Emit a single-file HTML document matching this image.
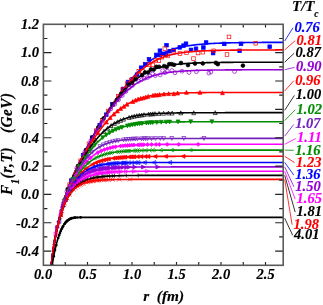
<!DOCTYPE html>
<html><head><meta charset="utf-8"><title>F1(r,T)</title>
<style>html,body{margin:0;padding:0;background:#fff}svg{display:block;will-change:transform;opacity:0.999}</style></head>
<body>
<svg width="323" height="305" viewBox="0 0 323 305">
<rect width="323" height="305" fill="#fff"/>
<defs><clipPath id="c"><rect x="43.4" y="24.3" width="239.79999999999998" height="241.0"/></clipPath></defs>
<g clip-path="url(#c)">
<rect x="69.5" y="178.8" width="3.6" height="3.6" stroke="#0000ff" stroke-width="0.7" fill="#0000ff"/><rect x="81.3" y="153.4" width="3.6" height="3.6" stroke="#0000ff" stroke-width="0.7" fill="#0000ff"/><rect x="90.3" y="135.9" width="3.6" height="3.6" stroke="#0000ff" stroke-width="0.7" fill="#0000ff"/><rect x="97.9" y="123.3" width="3.6" height="3.6" stroke="#0000ff" stroke-width="0.7" fill="#0000ff"/><rect x="104.5" y="112.9" width="3.6" height="3.6" stroke="#0000ff" stroke-width="0.7" fill="#0000ff"/><rect x="110.6" y="102.6" width="3.6" height="3.6" stroke="#0000ff" stroke-width="0.7" fill="#0000ff"/><rect x="121.3" y="87.1" width="3.6" height="3.6" stroke="#0000ff" stroke-width="0.7" fill="#0000ff"/><rect x="126.2" y="80.2" width="3.6" height="3.6" stroke="#0000ff" stroke-width="0.7" fill="#0000ff"/><rect x="130.8" y="77.5" width="3.6" height="3.6" stroke="#0000ff" stroke-width="0.7" fill="#0000ff"/><rect x="135.2" y="72.9" width="3.6" height="3.6" stroke="#0000ff" stroke-width="0.7" fill="#0000ff"/><rect x="139.3" y="65.9" width="3.6" height="3.6" stroke="#0000ff" stroke-width="0.7" fill="#0000ff"/><rect x="143.3" y="62.5" width="3.6" height="3.6" stroke="#0000ff" stroke-width="0.7" fill="#0000ff"/><rect x="147.2" y="57.5" width="3.6" height="3.6" stroke="#0000ff" stroke-width="0.7" fill="#0000ff"/><rect x="154.5" y="53.1" width="3.6" height="3.6" stroke="#0000ff" stroke-width="0.7" fill="#0000ff"/><rect x="158.0" y="53.3" width="3.6" height="3.6" stroke="#0000ff" stroke-width="0.7" fill="#0000ff"/><rect x="161.4" y="52.0" width="3.6" height="3.6" stroke="#0000ff" stroke-width="0.7" fill="#0000ff"/><rect x="164.7" y="43.4" width="3.6" height="3.6" stroke="#0000ff" stroke-width="0.7" fill="#0000ff"/><rect x="167.9" y="49.4" width="3.6" height="3.6" stroke="#0000ff" stroke-width="0.7" fill="#0000ff"/><rect x="204.3" y="40.7" width="3.6" height="3.6" stroke="#0000ff" stroke-width="0.7" fill="#0000ff"/><rect x="201.6" y="45.7" width="3.6" height="3.6" stroke="#0000ff" stroke-width="0.7" fill="#0000ff"/><rect x="211.3" y="51.3" width="3.6" height="3.6" stroke="#0000ff" stroke-width="0.7" fill="#0000ff"/><rect x="222.5" y="42.1" width="3.6" height="3.6" stroke="#0000ff" stroke-width="0.7" fill="#0000ff"/><rect x="239.2" y="42.1" width="3.6" height="3.6" stroke="#0000ff" stroke-width="0.7" fill="#0000ff"/><rect x="237.8" y="49.0" width="3.6" height="3.6" stroke="#0000ff" stroke-width="0.7" fill="#0000ff"/><rect x="267.9" y="44.9" width="3.6" height="3.6" stroke="#0000ff" stroke-width="0.7" fill="#0000ff"/><rect x="158.1" y="48.9" width="3.6" height="3.6" stroke="#0000ff" stroke-width="0.7" fill="#0000ff"/><rect x="164.3" y="52.6" width="3.6" height="3.6" stroke="#0000ff" stroke-width="0.7" fill="#0000ff"/><rect x="184.2" y="41.9" width="3.6" height="3.6" stroke="#0000ff" stroke-width="0.7" fill="#0000ff"/><rect x="189.2" y="48.1" width="3.6" height="3.6" stroke="#0000ff" stroke-width="0.7" fill="#0000ff"/><rect x="194.2" y="46.9" width="3.6" height="3.6" stroke="#0000ff" stroke-width="0.7" fill="#0000ff"/><rect x="171.8" y="48.1" width="3.6" height="3.6" stroke="#0000ff" stroke-width="0.7" fill="#0000ff"/><rect x="178.0" y="45.6" width="3.6" height="3.6" stroke="#0000ff" stroke-width="0.7" fill="#0000ff"/><rect x="181.7" y="43.8" width="3.6" height="3.6" stroke="#0000ff" stroke-width="0.7" fill="#0000ff"/>
<polyline points="49.23,293.62 49.47,289.62 49.70,285.89 49.94,282.40 50.18,279.10 50.42,276.00 50.65,273.05 50.89,270.25 51.13,267.59 51.36,265.10 51.60,262.78 51.84,260.60 52.07,258.55 52.31,256.60 52.55,254.74 52.79,252.96 53.02,251.25 53.26,249.60 53.50,247.99 53.73,246.43 53.97,244.89 54.21,243.39 54.44,241.90 54.68,240.43 54.92,239.02 55.16,237.65 55.39,236.33 55.63,235.04 55.87,233.80 56.10,232.59 56.34,231.41 56.58,230.26 56.82,229.13 57.05,228.02 57.29,226.94 57.53,225.87 57.76,224.82 58.00,223.79 58.24,222.76 58.47,221.75 58.71,220.74 58.95,219.75 59.19,218.76 59.42,217.78 59.66,216.80 59.90,215.82 60.13,214.85 60.37,213.88 60.61,212.91 60.84,211.94 61.08,210.98 61.32,210.04 61.56,209.11 61.79,208.21 62.03,207.32 62.27,206.44 62.50,205.58 62.74,204.73 62.98,203.90 63.22,203.08 63.45,202.27 63.69,201.47 63.93,200.68 64.16,199.91 64.40,199.14 64.64,198.39 64.87,197.65 65.11,196.91 65.35,196.19 65.59,195.47 65.82,194.76 66.06,194.06 66.30,193.37 66.53,192.69 66.77,192.01 67.01,191.34 67.24,190.68 67.48,190.02 67.72,189.37 67.96,188.73 68.19,188.10 68.43,187.47 68.67,186.84 68.90,186.22 69.14,185.61 69.38,185.00 69.62,184.40 69.85,183.80 70.09,183.21 70.33,182.62 70.56,182.04 70.80,181.46 71.04,180.88 71.27,180.31 71.51,179.75 71.75,179.18 71.99,178.63 72.22,178.07 72.46,177.52 72.70,176.97 72.93,176.43 73.17,175.89 73.41,175.35 73.64,174.82 73.88,174.29 74.12,173.76 74.36,173.24 74.59,172.72 74.83,172.20 75.07,171.69 75.30,171.17 75.54,170.66 75.78,170.16 76.01,169.65 76.25,169.15 76.49,168.65 76.73,168.15 76.96,167.66 77.20,167.17 77.44,166.68 77.67,166.19 77.91,165.70 78.15,165.22 78.39,164.74 78.62,164.26 78.86,163.78 79.10,163.30 79.33,162.82 79.57,162.35 79.81,161.87 80.04,161.39 80.28,160.91 80.52,160.44 80.76,159.96 80.99,159.48 81.23,159.01 81.47,158.53 81.70,158.06 81.94,157.58 82.18,157.11 82.41,156.64 82.65,156.17 82.89,155.70 83.13,155.23 83.36,154.76 83.60,154.29 83.84,153.82 84.07,153.36 84.31,152.89 84.55,152.43 84.79,151.96 85.02,151.50 85.26,151.04 85.50,150.58 85.73,150.12 85.97,149.67 86.21,149.21 86.44,148.76 86.68,148.31 86.92,147.85 87.16,147.41 87.39,146.96 87.63,146.51 87.87,146.06 88.10,145.62 88.34,145.17 88.58,144.72 88.81,144.28 89.05,143.83 89.29,143.39 89.53,142.94 89.76,142.49 90.00,142.05 90.24,141.60 90.47,141.16 90.71,140.72 90.95,140.27 91.19,139.83 91.42,139.39 91.66,138.95 91.90,138.51 92.13,138.07 92.37,137.63 92.61,137.19 92.84,136.76 93.08,136.32 93.32,135.89 93.56,135.45 93.79,135.02 94.03,134.59 94.27,134.16 94.50,133.73 94.74,133.31 94.98,132.88 95.21,132.46 95.45,132.04 95.69,131.61 95.93,131.20 96.16,130.78 96.40,130.36 97.35,128.71 98.30,127.07 99.24,125.44 100.19,123.83 101.14,122.24 102.09,120.65 103.04,119.09 103.99,117.53 104.93,116.00 105.88,114.48 106.83,112.96 107.78,111.46 108.73,109.96 109.67,108.48 110.62,107.02 111.57,105.58 112.52,104.16 113.47,102.76 114.41,101.39 115.36,100.04 116.31,98.70 117.26,97.37 118.21,96.05 119.16,94.74 120.10,93.44 121.05,92.16 122.00,90.90 122.95,89.64 123.90,88.40 124.84,87.17 125.79,85.96 126.74,84.77 127.69,83.59 128.64,82.42 129.58,81.28 130.53,80.15 131.48,79.03 132.43,77.94 133.38,76.86 134.33,75.80 135.27,74.76 136.22,73.73 137.17,72.73 138.12,71.75 139.07,70.78 140.01,69.84 140.96,68.92 141.91,68.02 142.86,67.13 143.81,66.27 144.76,65.43 145.70,64.61 146.65,63.81 147.60,63.04 148.55,62.28 149.50,61.54 150.44,60.83 151.39,60.13 152.34,59.46 153.29,58.81 154.24,58.17 155.18,57.56 156.13,56.96 157.08,56.39 158.03,55.83 158.98,55.30 159.93,54.78 160.87,54.28 161.82,53.79 162.77,53.33 163.72,52.88 164.67,52.45 165.61,52.03 166.56,51.63 167.51,51.24 168.46,50.87 169.41,50.52 170.35,50.17 171.30,49.85 172.25,49.53 173.20,49.23 174.15,48.93 175.10,48.66 176.04,48.39 176.99,48.13 177.94,47.88 178.89,47.65 179.84,47.42 180.78,47.20 181.73,47.00 182.68,46.80 183.63,46.61 184.58,46.42 185.53,46.25 186.47,46.08 187.42,45.92 188.37,45.77 189.32,45.62 190.27,45.48 191.21,45.35 192.16,45.22 193.11,45.09 194.06,44.98 195.01,44.86 195.95,44.76 196.90,44.65 197.85,44.55 198.80,44.46 199.75,44.37 200.70,44.28 201.64,44.20 202.59,44.12 203.54,44.04 204.49,43.97 205.44,43.90 206.38,43.83 207.33,43.77 208.28,43.71 209.23,43.65 210.18,43.60 211.13,43.54 212.07,43.49 213.02,43.44 213.97,43.39 214.92,43.35 215.87,43.31 216.81,43.26 217.76,43.22 218.71,43.19 219.66,43.15 220.61,43.12 221.55,43.08 222.50,43.05 223.45,43.02 224.40,42.99 225.35,42.96 226.30,42.93 227.24,42.91 228.19,42.88 229.14,42.86 230.09,42.84 231.04,42.81 231.98,42.79 232.93,42.77 233.88,42.75 234.83,42.73 235.78,42.72 236.72,42.70 237.67,42.68 238.62,42.67 239.57,42.65 240.52,42.64 241.47,42.62 242.41,42.61 243.36,42.60 244.31,42.58 245.26,42.57 246.21,42.56 247.15,42.55 248.10,42.54 249.05,42.53 250.00,42.52 250.95,42.51 251.90,42.50 252.84,42.49 253.79,42.48 254.74,42.47 255.69,42.47 256.64,42.46 257.58,42.45 258.53,42.45 259.48,42.44 260.43,42.43 261.38,42.43 262.32,42.42 263.27,42.41 264.22,42.41 265.17,42.40 266.12,42.40 267.07,42.39 268.01,42.39 268.96,42.38 269.91,42.38 270.86,42.37 271.81,42.37 272.75,42.37 273.70,42.36 274.65,42.36 275.60,42.36 276.55,42.35 277.49,42.35 278.44,42.35 279.39,42.34 280.34,42.34 281.29,42.34 282.24,42.33 283.18,42.33 284.13,42.33 285.08,42.33" stroke="#0000ff" stroke-width="1.6" fill="none"/>
<rect x="67.8" y="182.9" width="3.6" height="3.6" stroke="#ff0000" stroke-width="0.7" fill="none"/><rect x="78.8" y="159.0" width="3.6" height="3.6" stroke="#ff0000" stroke-width="0.7" fill="none"/><rect x="87.2" y="142.0" width="3.6" height="3.6" stroke="#ff0000" stroke-width="0.7" fill="none"/><rect x="94.4" y="128.9" width="3.6" height="3.6" stroke="#ff0000" stroke-width="0.7" fill="none"/><rect x="100.6" y="118.5" width="3.6" height="3.6" stroke="#ff0000" stroke-width="0.7" fill="none"/><rect x="106.3" y="109.2" width="3.6" height="3.6" stroke="#ff0000" stroke-width="0.7" fill="none"/><rect x="116.4" y="94.3" width="3.6" height="3.6" stroke="#ff0000" stroke-width="0.7" fill="none"/><rect x="120.9" y="87.8" width="3.6" height="3.6" stroke="#ff0000" stroke-width="0.7" fill="none"/><rect x="125.3" y="81.9" width="3.6" height="3.6" stroke="#ff0000" stroke-width="0.7" fill="none"/><rect x="129.4" y="78.1" width="3.6" height="3.6" stroke="#ff0000" stroke-width="0.7" fill="none"/><rect x="133.3" y="76.6" width="3.6" height="3.6" stroke="#ff0000" stroke-width="0.7" fill="none"/><rect x="137.0" y="69.6" width="3.6" height="3.6" stroke="#ff0000" stroke-width="0.7" fill="none"/><rect x="140.7" y="69.6" width="3.6" height="3.6" stroke="#ff0000" stroke-width="0.7" fill="none"/><rect x="147.5" y="62.7" width="3.6" height="3.6" stroke="#ff0000" stroke-width="0.7" fill="none"/><rect x="150.8" y="63.1" width="3.6" height="3.6" stroke="#ff0000" stroke-width="0.7" fill="none"/><rect x="154.0" y="58.6" width="3.6" height="3.6" stroke="#ff0000" stroke-width="0.7" fill="none"/><rect x="157.1" y="58.8" width="3.6" height="3.6" stroke="#ff0000" stroke-width="0.7" fill="none"/><rect x="160.1" y="55.4" width="3.6" height="3.6" stroke="#ff0000" stroke-width="0.7" fill="none"/><rect x="163.0" y="46.8" width="3.6" height="3.6" stroke="#ff0000" stroke-width="0.7" fill="none"/><rect x="165.9" y="54.1" width="3.6" height="3.6" stroke="#ff0000" stroke-width="0.7" fill="none"/><rect x="227.2" y="35.1" width="3.6" height="3.6" stroke="#ff0000" stroke-width="0.7" fill="none"/><rect x="211.9" y="49.0" width="3.6" height="3.6" stroke="#ff0000" stroke-width="0.7" fill="none"/><rect x="225.2" y="52.7" width="3.6" height="3.6" stroke="#ff0000" stroke-width="0.7" fill="none"/><rect x="253.9" y="41.5" width="3.6" height="3.6" stroke="#ff0000" stroke-width="0.7" fill="none"/><rect x="201.0" y="50.4" width="3.6" height="3.6" stroke="#ff0000" stroke-width="0.7" fill="none"/><rect x="196.2" y="51.2" width="3.6" height="3.6" stroke="#ff0000" stroke-width="0.7" fill="none"/><rect x="191.7" y="56.8" width="3.6" height="3.6" stroke="#ff0000" stroke-width="0.7" fill="none"/><rect x="171.8" y="49.4" width="3.6" height="3.6" stroke="#ff0000" stroke-width="0.7" fill="none"/><rect x="178.2" y="51.7" width="3.6" height="3.6" stroke="#ff0000" stroke-width="0.7" fill="none"/><rect x="184.7" y="51.0" width="3.6" height="3.6" stroke="#ff0000" stroke-width="0.7" fill="none"/>
<polyline points="49.23,293.62 49.47,289.62 49.70,285.89 49.94,282.40 50.18,279.10 50.42,276.00 50.65,273.05 50.89,270.25 51.13,267.59 51.36,265.10 51.60,262.78 51.84,260.60 52.07,258.55 52.31,256.60 52.55,254.74 52.79,252.96 53.02,251.25 53.26,249.60 53.50,247.99 53.73,246.43 53.97,244.89 54.21,243.39 54.44,241.90 54.68,240.43 54.92,239.02 55.16,237.65 55.39,236.33 55.63,235.04 55.87,233.80 56.10,232.59 56.34,231.41 56.58,230.26 56.82,229.13 57.05,228.02 57.29,226.94 57.53,225.87 57.76,224.82 58.00,223.79 58.24,222.76 58.47,221.75 58.71,220.74 58.95,219.75 59.19,218.76 59.42,217.78 59.66,216.80 59.90,215.82 60.13,214.85 60.37,213.88 60.61,212.91 60.84,211.94 61.08,210.98 61.32,210.04 61.56,209.11 61.79,208.21 62.03,207.32 62.27,206.44 62.50,205.58 62.74,204.73 62.98,203.90 63.22,203.08 63.45,202.27 63.69,201.47 63.93,200.68 64.16,199.91 64.40,199.14 64.64,198.39 64.87,197.65 65.11,196.91 65.35,196.19 65.59,195.47 65.82,194.76 66.06,194.06 66.30,193.37 66.53,192.69 66.77,192.01 67.01,191.34 67.24,190.68 67.48,190.02 67.72,189.37 67.96,188.73 68.19,188.09 68.43,187.46 68.67,186.84 68.90,186.22 69.14,185.61 69.38,185.00 69.62,184.40 69.85,183.80 70.09,183.21 70.33,182.62 70.56,182.03 70.80,181.46 71.04,180.88 71.27,180.31 71.51,179.74 71.75,179.18 71.99,178.62 72.22,178.07 72.46,177.52 72.70,176.97 72.93,176.43 73.17,175.89 73.41,175.35 73.64,174.82 73.88,174.29 74.12,173.76 74.36,173.24 74.59,172.72 74.83,172.20 75.07,171.68 75.30,171.17 75.54,170.66 75.78,170.15 76.01,169.65 76.25,169.15 76.49,168.65 76.73,168.15 76.96,167.65 77.20,167.16 77.44,166.67 77.67,166.18 77.91,165.70 78.15,165.21 78.39,164.73 78.62,164.25 78.86,163.77 79.10,163.30 79.33,162.82 79.57,162.34 79.81,161.86 80.04,161.38 80.28,160.91 80.52,160.43 80.76,159.95 80.99,159.48 81.23,159.00 81.47,158.53 81.70,158.05 81.94,157.58 82.18,157.10 82.41,156.63 82.65,156.16 82.89,155.69 83.13,155.22 83.36,154.75 83.60,154.28 83.84,153.81 84.07,153.35 84.31,152.88 84.55,152.42 84.79,151.96 85.02,151.49 85.26,151.03 85.50,150.57 85.73,150.12 85.97,149.66 86.21,149.20 86.44,148.75 86.68,148.30 86.92,147.85 87.16,147.40 87.39,146.95 87.63,146.50 87.87,146.05 88.10,145.61 88.34,145.16 88.58,144.71 88.81,144.27 89.05,143.82 89.29,143.37 89.53,142.93 89.76,142.48 90.00,142.04 90.24,141.59 90.47,141.15 90.71,140.71 90.95,140.26 91.19,139.82 91.42,139.38 91.66,138.94 91.90,138.50 92.13,138.06 92.37,137.62 92.61,137.18 92.84,136.75 93.08,136.31 93.32,135.88 93.56,135.44 93.79,135.01 94.03,134.58 94.27,134.15 94.50,133.72 94.74,133.30 94.98,132.87 95.21,132.45 95.45,132.03 95.69,131.61 95.93,131.19 96.16,130.77 96.40,130.35 97.35,128.70 98.30,127.06 99.24,125.44 100.19,123.83 101.14,122.24 102.09,120.66 103.04,119.09 103.99,117.55 104.93,116.02 105.88,114.50 106.83,112.99 107.78,111.50 108.73,110.01 109.67,108.54 110.62,107.09 111.57,105.66 112.52,104.25 113.47,102.87 114.41,101.52 115.36,100.18 116.31,98.86 117.26,97.55 118.21,96.25 119.16,94.97 120.10,93.71 121.05,92.45 122.00,91.22 122.95,90.00 123.90,88.80 124.84,87.61 125.79,86.44 126.74,85.29 127.69,84.16 128.64,83.05 129.58,81.95 130.53,80.88 131.48,79.83 132.43,78.79 133.38,77.78 134.33,76.79 135.27,75.83 136.22,74.88 137.17,73.96 138.12,73.06 139.07,72.18 140.01,71.32 140.96,70.49 141.91,69.68 142.86,68.90 143.81,68.14 144.76,67.40 145.70,66.68 146.65,65.99 147.60,65.31 148.55,64.66 149.50,64.04 150.44,63.43 151.39,62.85 152.34,62.29 153.29,61.75 154.24,61.22 155.18,60.72 156.13,60.24 157.08,59.78 158.03,59.33 158.98,58.91 159.93,58.50 160.87,58.11 161.82,57.73 162.77,57.37 163.72,57.03 164.67,56.70 165.61,56.39 166.56,56.09 167.51,55.80 168.46,55.52 169.41,55.26 170.35,55.01 171.30,54.77 172.25,54.55 173.20,54.33 174.15,54.12 175.10,53.92 176.04,53.74 176.99,53.56 177.94,53.39 178.89,53.22 179.84,53.07 180.78,52.92 181.73,52.78 182.68,52.64 183.63,52.52 184.58,52.39 185.53,52.28 186.47,52.17 187.42,52.06 188.37,51.96 189.32,51.87 190.27,51.78 191.21,51.69 192.16,51.61 193.11,51.53 194.06,51.45 195.01,51.38 195.95,51.32 196.90,51.25 197.85,51.19 198.80,51.13 199.75,51.07 200.70,51.02 201.64,50.97 202.59,50.92 203.54,50.88 204.49,50.83 205.44,50.79 206.38,50.75 207.33,50.71 208.28,50.68 209.23,50.64 210.18,50.61 211.13,50.58 212.07,50.55 213.02,50.52 213.97,50.49 214.92,50.46 215.87,50.44 216.81,50.42 217.76,50.39 218.71,50.37 219.66,50.35 220.61,50.33 221.55,50.31 222.50,50.29 223.45,50.28 224.40,50.26 225.35,50.24 226.30,50.23 227.24,50.22 228.19,50.20 229.14,50.19 230.09,50.18 231.04,50.16 231.98,50.15 232.93,50.14 233.88,50.13 234.83,50.12 235.78,50.11 236.72,50.10 237.67,50.09 238.62,50.08 239.57,50.08 240.52,50.07 241.47,50.06 242.41,50.05 243.36,50.05 244.31,50.04 245.26,50.03 246.21,50.03 247.15,50.02 248.10,50.02 249.05,50.01 250.00,50.01 250.95,50.00 251.90,50.00 252.84,49.99 253.79,49.99 254.74,49.98 255.69,49.98 256.64,49.98 257.58,49.97 258.53,49.97 259.48,49.96 260.43,49.96 261.38,49.96 262.32,49.96 263.27,49.95 264.22,49.95 265.17,49.95 266.12,49.94 267.07,49.94 268.01,49.94 268.96,49.94 269.91,49.94 270.86,49.93 271.81,49.93 272.75,49.93 273.70,49.93 274.65,49.93 275.60,49.92 276.55,49.92 277.49,49.92 278.44,49.92 279.39,49.92 280.34,49.92 281.29,49.91 282.24,49.91 283.18,49.91 284.13,49.91 285.08,49.91" stroke="#ff0000" stroke-width="1.6" fill="none"/>
<circle cx="67.7" cy="189.1" r="1.9" stroke="#000000" stroke-width="0.7" fill="#000000"/><circle cx="78.0" cy="165.9" r="1.9" stroke="#000000" stroke-width="0.7" fill="#000000"/><circle cx="85.9" cy="150.0" r="1.9" stroke="#000000" stroke-width="0.7" fill="#000000"/><circle cx="92.5" cy="137.3" r="1.9" stroke="#000000" stroke-width="0.7" fill="#000000"/><circle cx="98.3" cy="127.3" r="1.9" stroke="#000000" stroke-width="0.7" fill="#000000"/><circle cx="103.6" cy="118.4" r="1.9" stroke="#000000" stroke-width="0.7" fill="#000000"/><circle cx="113.0" cy="104.5" r="1.9" stroke="#000000" stroke-width="0.7" fill="#000000"/><circle cx="117.2" cy="99.6" r="1.9" stroke="#000000" stroke-width="0.7" fill="#000000"/><circle cx="121.3" cy="93.7" r="1.9" stroke="#000000" stroke-width="0.7" fill="#000000"/><circle cx="125.1" cy="90.3" r="1.9" stroke="#000000" stroke-width="0.7" fill="#000000"/><circle cx="128.7" cy="84.6" r="1.9" stroke="#000000" stroke-width="0.7" fill="#000000"/><circle cx="132.2" cy="83.0" r="1.9" stroke="#000000" stroke-width="0.7" fill="#000000"/><circle cx="135.6" cy="79.2" r="1.9" stroke="#000000" stroke-width="0.7" fill="#000000"/><circle cx="142.0" cy="75.2" r="1.9" stroke="#000000" stroke-width="0.7" fill="#000000"/><circle cx="145.0" cy="72.4" r="1.9" stroke="#000000" stroke-width="0.7" fill="#000000"/><circle cx="148.0" cy="72.5" r="1.9" stroke="#000000" stroke-width="0.7" fill="#000000"/><circle cx="150.9" cy="69.4" r="1.9" stroke="#000000" stroke-width="0.7" fill="#000000"/><circle cx="153.7" cy="69.6" r="1.9" stroke="#000000" stroke-width="0.7" fill="#000000"/><circle cx="156.4" cy="66.8" r="1.9" stroke="#000000" stroke-width="0.7" fill="#000000"/><circle cx="159.1" cy="66.8" r="1.9" stroke="#000000" stroke-width="0.7" fill="#000000"/><circle cx="164.2" cy="66.1" r="1.9" stroke="#000000" stroke-width="0.7" fill="#000000"/><circle cx="166.7" cy="67.1" r="1.9" stroke="#000000" stroke-width="0.7" fill="#000000"/><circle cx="169.2" cy="64.1" r="1.9" stroke="#000000" stroke-width="0.7" fill="#000000"/><circle cx="171.6" cy="64.2" r="1.9" stroke="#000000" stroke-width="0.7" fill="#000000"/><circle cx="202.8" cy="63.4" r="1.9" stroke="#000000" stroke-width="0.7" fill="#000000"/><circle cx="215.9" cy="62.8" r="1.9" stroke="#000000" stroke-width="0.7" fill="#000000"/><circle cx="217.8" cy="64.2" r="1.9" stroke="#000000" stroke-width="0.7" fill="#000000"/><circle cx="242.9" cy="65.6" r="1.9" stroke="#000000" stroke-width="0.7" fill="#000000"/><circle cx="174.0" cy="64.8" r="1.9" stroke="#000000" stroke-width="0.7" fill="#000000"/><circle cx="181.0" cy="63.0" r="1.9" stroke="#000000" stroke-width="0.7" fill="#000000"/><circle cx="188.0" cy="65.0" r="1.9" stroke="#000000" stroke-width="0.7" fill="#000000"/><circle cx="195.0" cy="63.5" r="1.9" stroke="#000000" stroke-width="0.7" fill="#000000"/>
<polyline points="49.23,293.62 49.47,289.62 49.70,285.89 49.94,282.40 50.18,279.10 50.42,276.00 50.65,273.05 50.89,270.25 51.13,267.59 51.36,265.10 51.60,262.78 51.84,260.60 52.07,258.55 52.31,256.60 52.55,254.74 52.79,252.96 53.02,251.25 53.26,249.60 53.50,247.99 53.73,246.43 53.97,244.89 54.21,243.39 54.44,241.90 54.68,240.43 54.92,239.02 55.16,237.65 55.39,236.33 55.63,235.04 55.87,233.80 56.10,232.59 56.34,231.41 56.58,230.26 56.82,229.13 57.05,228.02 57.29,226.94 57.53,225.87 57.76,224.82 58.00,223.79 58.24,222.76 58.47,221.75 58.71,220.74 58.95,219.75 59.19,218.76 59.42,217.78 59.66,216.80 59.90,215.82 60.13,214.85 60.37,213.88 60.61,212.91 60.84,211.94 61.08,210.98 61.32,210.04 61.56,209.11 61.79,208.21 62.03,207.32 62.27,206.44 62.50,205.58 62.74,204.73 62.98,203.90 63.22,203.08 63.45,202.27 63.69,201.47 63.93,200.68 64.16,199.91 64.40,199.14 64.64,198.39 64.87,197.65 65.11,196.91 65.35,196.19 65.59,195.47 65.82,194.76 66.06,194.06 66.30,193.37 66.53,192.69 66.77,192.01 67.01,191.34 67.24,190.68 67.48,190.02 67.72,189.38 67.96,188.73 68.19,188.10 68.43,187.47 68.67,186.84 68.90,186.22 69.14,185.61 69.38,185.00 69.62,184.40 69.85,183.80 70.09,183.21 70.33,182.62 70.56,182.04 70.80,181.46 71.04,180.89 71.27,180.32 71.51,179.75 71.75,179.19 71.99,178.63 72.22,178.08 72.46,177.52 72.70,176.98 72.93,176.43 73.17,175.90 73.41,175.36 73.64,174.83 73.88,174.30 74.12,173.77 74.36,173.25 74.59,172.72 74.83,172.21 75.07,171.69 75.30,171.18 75.54,170.67 75.78,170.16 76.01,169.66 76.25,169.16 76.49,168.66 76.73,168.16 76.96,167.67 77.20,167.18 77.44,166.69 77.67,166.20 77.91,165.71 78.15,165.23 78.39,164.75 78.62,164.27 78.86,163.79 79.10,163.32 79.33,162.84 79.57,162.36 79.81,161.88 80.04,161.41 80.28,160.93 80.52,160.46 80.76,159.98 80.99,159.50 81.23,159.03 81.47,158.56 81.70,158.08 81.94,157.61 82.18,157.14 82.41,156.67 82.65,156.20 82.89,155.73 83.13,155.26 83.36,154.79 83.60,154.32 83.84,153.86 84.07,153.39 84.31,152.93 84.55,152.46 84.79,152.00 85.02,151.54 85.26,151.08 85.50,150.63 85.73,150.17 85.97,149.71 86.21,149.26 86.44,148.81 86.68,148.36 86.92,147.91 87.16,147.46 87.39,147.02 87.63,146.57 87.87,146.13 88.10,145.68 88.34,145.24 88.58,144.79 88.81,144.35 89.05,143.90 89.29,143.46 89.53,143.02 89.76,142.58 90.00,142.13 90.24,141.69 90.47,141.25 90.71,140.81 90.95,140.37 91.19,139.93 91.42,139.49 91.66,139.06 91.90,138.62 92.13,138.18 92.37,137.75 92.61,137.31 92.84,136.88 93.08,136.45 93.32,136.02 93.56,135.59 93.79,135.16 94.03,134.74 94.27,134.31 94.50,133.89 94.74,133.47 94.98,133.05 95.21,132.63 95.45,132.21 95.69,131.80 95.93,131.38 96.16,130.97 96.40,130.56 97.35,128.93 98.30,127.32 99.24,125.72 100.19,124.14 101.14,122.58 102.09,121.04 103.04,119.51 103.99,118.00 104.93,116.52 105.88,115.05 106.83,113.59 107.78,112.15 108.73,110.72 109.67,109.31 110.62,107.93 111.57,106.57 112.52,105.24 113.47,103.94 114.41,102.66 115.36,101.42 116.31,100.18 117.26,98.97 118.21,97.78 119.16,96.60 120.10,95.45 121.05,94.32 122.00,93.20 122.95,92.11 123.90,91.04 124.84,90.00 125.79,88.97 126.74,87.97 127.69,86.99 128.64,86.04 129.58,85.11 130.53,84.20 131.48,83.32 132.43,82.47 133.38,81.64 134.33,80.83 135.27,80.05 136.22,79.29 137.17,78.56 138.12,77.85 139.07,77.16 140.01,76.50 140.96,75.87 141.91,75.25 142.86,74.66 143.81,74.09 144.76,73.55 145.70,73.02 146.65,72.52 147.60,72.04 148.55,71.58 149.50,71.13 150.44,70.71 151.39,70.30 152.34,69.92 153.29,69.55 154.24,69.19 155.18,68.85 156.13,68.53 157.08,68.22 158.03,67.93 158.98,67.65 159.93,67.39 160.87,67.13 161.82,66.89 162.77,66.66 163.72,66.44 164.67,66.24 165.61,66.04 166.56,65.85 167.51,65.67 168.46,65.50 169.41,65.34 170.35,65.19 171.30,65.04 172.25,64.90 173.20,64.77 174.15,64.64 175.10,64.53 176.04,64.41 176.99,64.31 177.94,64.20 178.89,64.11 179.84,64.01 180.78,63.93 181.73,63.84 182.68,63.77 183.63,63.69 184.58,63.62 185.53,63.55 186.47,63.49 187.42,63.43 188.37,63.37 189.32,63.31 190.27,63.26 191.21,63.21 192.16,63.16 193.11,63.12 194.06,63.07 195.01,63.03 195.95,62.99 196.90,62.96 197.85,62.92 198.80,62.89 199.75,62.86 200.70,62.83 201.64,62.80 202.59,62.77 203.54,62.74 204.49,62.72 205.44,62.70 206.38,62.67 207.33,62.65 208.28,62.63 209.23,62.61 210.18,62.59 211.13,62.57 212.07,62.56 213.02,62.54 213.97,62.53 214.92,62.51 215.87,62.50 216.81,62.48 217.76,62.47 218.71,62.46 219.66,62.45 220.61,62.44 221.55,62.42 222.50,62.41 223.45,62.40 224.40,62.40 225.35,62.39 226.30,62.38 227.24,62.37 228.19,62.36 229.14,62.36 230.09,62.35 231.04,62.34 231.98,62.33 232.93,62.33 233.88,62.32 234.83,62.32 235.78,62.31 236.72,62.31 237.67,62.30 238.62,62.30 239.57,62.29 240.52,62.29 241.47,62.28 242.41,62.28 243.36,62.28 244.31,62.27 245.26,62.27 246.21,62.27 247.15,62.26 248.10,62.26 249.05,62.26 250.00,62.25 250.95,62.25 251.90,62.25 252.84,62.25 253.79,62.24 254.74,62.24 255.69,62.24 256.64,62.24 257.58,62.23 258.53,62.23 259.48,62.23 260.43,62.23 261.38,62.23 262.32,62.22 263.27,62.22 264.22,62.22 265.17,62.22 266.12,62.22 267.07,62.22 268.01,62.22 268.96,62.21 269.91,62.21 270.86,62.21 271.81,62.21 272.75,62.21 273.70,62.21 274.65,62.21 275.60,62.21 276.55,62.21 277.49,62.21 278.44,62.20 279.39,62.20 280.34,62.20 281.29,62.20 282.24,62.20 283.18,62.20 284.13,62.20 285.08,62.20" stroke="#000000" stroke-width="1.6" fill="none"/>
<circle cx="66.9" cy="191.3" r="1.9" stroke="#9400d3" stroke-width="0.7" fill="none"/><circle cx="76.8" cy="168.1" r="1.9" stroke="#9400d3" stroke-width="0.7" fill="none"/><circle cx="84.4" cy="152.6" r="1.9" stroke="#9400d3" stroke-width="0.7" fill="none"/><circle cx="90.8" cy="140.6" r="1.9" stroke="#9400d3" stroke-width="0.7" fill="none"/><circle cx="96.5" cy="130.7" r="1.9" stroke="#9400d3" stroke-width="0.7" fill="none"/><circle cx="101.6" cy="122.4" r="1.9" stroke="#9400d3" stroke-width="0.7" fill="none"/><circle cx="110.7" cy="109.0" r="1.9" stroke="#9400d3" stroke-width="0.7" fill="none"/><circle cx="114.8" cy="104.2" r="1.9" stroke="#9400d3" stroke-width="0.7" fill="none"/><circle cx="118.6" cy="99.9" r="1.9" stroke="#9400d3" stroke-width="0.7" fill="none"/><circle cx="122.3" cy="95.6" r="1.9" stroke="#9400d3" stroke-width="0.7" fill="none"/><circle cx="125.9" cy="91.5" r="1.9" stroke="#9400d3" stroke-width="0.7" fill="none"/><circle cx="129.3" cy="87.8" r="1.9" stroke="#9400d3" stroke-width="0.7" fill="none"/><circle cx="132.5" cy="85.5" r="1.9" stroke="#9400d3" stroke-width="0.7" fill="none"/><circle cx="138.7" cy="81.2" r="1.9" stroke="#9400d3" stroke-width="0.7" fill="none"/><circle cx="141.6" cy="79.8" r="1.9" stroke="#9400d3" stroke-width="0.7" fill="none"/><circle cx="144.5" cy="78.4" r="1.9" stroke="#9400d3" stroke-width="0.7" fill="none"/><circle cx="147.3" cy="77.7" r="1.9" stroke="#9400d3" stroke-width="0.7" fill="none"/><circle cx="150.0" cy="76.0" r="1.9" stroke="#9400d3" stroke-width="0.7" fill="none"/><circle cx="152.6" cy="73.9" r="1.9" stroke="#9400d3" stroke-width="0.7" fill="none"/><circle cx="155.2" cy="75.6" r="1.9" stroke="#9400d3" stroke-width="0.7" fill="none"/><circle cx="160.2" cy="74.9" r="1.9" stroke="#9400d3" stroke-width="0.7" fill="none"/><circle cx="162.6" cy="70.6" r="1.9" stroke="#9400d3" stroke-width="0.7" fill="none"/><circle cx="165.0" cy="72.7" r="1.9" stroke="#9400d3" stroke-width="0.7" fill="none"/><circle cx="167.3" cy="71.1" r="1.9" stroke="#9400d3" stroke-width="0.7" fill="none"/><circle cx="171.9" cy="70.5" r="1.9" stroke="#9400d3" stroke-width="0.7" fill="none"/><circle cx="196.4" cy="71.7" r="1.9" stroke="#9400d3" stroke-width="0.7" fill="none"/><circle cx="208.9" cy="73.1" r="1.9" stroke="#9400d3" stroke-width="0.7" fill="none"/><circle cx="210.9" cy="72.0" r="1.9" stroke="#9400d3" stroke-width="0.7" fill="none"/><circle cx="234.6" cy="71.5" r="1.9" stroke="#9400d3" stroke-width="0.7" fill="none"/><circle cx="175.0" cy="72.8" r="1.9" stroke="#9400d3" stroke-width="0.7" fill="none"/><circle cx="182.0" cy="71.2" r="1.9" stroke="#9400d3" stroke-width="0.7" fill="none"/><circle cx="189.0" cy="72.5" r="1.9" stroke="#9400d3" stroke-width="0.7" fill="none"/>
<polyline points="49.23,293.62 49.47,289.62 49.70,285.89 49.94,282.40 50.18,279.10 50.42,276.00 50.65,273.05 50.89,270.25 51.13,267.59 51.36,265.10 51.60,262.78 51.84,260.60 52.07,258.55 52.31,256.60 52.55,254.74 52.79,252.96 53.02,251.25 53.26,249.60 53.50,247.99 53.73,246.43 53.97,244.89 54.21,243.39 54.44,241.90 54.68,240.43 54.92,239.02 55.16,237.65 55.39,236.33 55.63,235.04 55.87,233.80 56.10,232.59 56.34,231.41 56.58,230.26 56.82,229.13 57.05,228.02 57.29,226.94 57.53,225.87 57.76,224.82 58.00,223.79 58.24,222.76 58.47,221.75 58.71,220.74 58.95,219.75 59.19,218.76 59.42,217.78 59.66,216.80 59.90,215.82 60.13,214.85 60.37,213.88 60.61,212.91 60.84,211.94 61.08,210.98 61.32,210.04 61.56,209.12 61.79,208.21 62.03,207.32 62.27,206.44 62.50,205.58 62.74,204.73 62.98,203.90 63.22,203.08 63.45,202.27 63.69,201.47 63.93,200.69 64.16,199.91 64.40,199.15 64.64,198.39 64.87,197.65 65.11,196.92 65.35,196.19 65.59,195.47 65.82,194.77 66.06,194.07 66.30,193.38 66.53,192.69 66.77,192.02 67.01,191.35 67.24,190.69 67.48,190.03 67.72,189.38 67.96,188.74 68.19,188.10 68.43,187.47 68.67,186.85 68.90,186.23 69.14,185.62 69.38,185.01 69.62,184.41 69.85,183.81 70.09,183.22 70.33,182.63 70.56,182.05 70.80,181.47 71.04,180.90 71.27,180.33 71.51,179.76 71.75,179.20 71.99,178.65 72.22,178.09 72.46,177.54 72.70,177.00 72.93,176.45 73.17,175.92 73.41,175.38 73.64,174.85 73.88,174.32 74.12,173.79 74.36,173.27 74.59,172.75 74.83,172.23 75.07,171.72 75.30,171.21 75.54,170.70 75.78,170.19 76.01,169.69 76.25,169.19 76.49,168.69 76.73,168.20 76.96,167.71 77.20,167.21 77.44,166.73 77.67,166.24 77.91,165.76 78.15,165.28 78.39,164.80 78.62,164.32 78.86,163.84 79.10,163.37 79.33,162.89 79.57,162.41 79.81,161.94 80.04,161.46 80.28,160.99 80.52,160.52 80.76,160.04 80.99,159.57 81.23,159.10 81.47,158.62 81.70,158.15 81.94,157.68 82.18,157.21 82.41,156.74 82.65,156.28 82.89,155.81 83.13,155.34 83.36,154.88 83.60,154.41 83.84,153.95 84.07,153.49 84.31,153.03 84.55,152.57 84.79,152.11 85.02,151.65 85.26,151.20 85.50,150.74 85.73,150.29 85.97,149.84 86.21,149.39 86.44,148.94 86.68,148.49 86.92,148.05 87.16,147.60 87.39,147.16 87.63,146.72 87.87,146.28 88.10,145.84 88.34,145.40 88.58,144.96 88.81,144.52 89.05,144.08 89.29,143.64 89.53,143.20 89.76,142.77 90.00,142.33 90.24,141.89 90.47,141.46 90.71,141.02 90.95,140.59 91.19,140.15 91.42,139.72 91.66,139.29 91.90,138.86 92.13,138.43 92.37,138.00 92.61,137.57 92.84,137.15 93.08,136.72 93.32,136.30 93.56,135.88 93.79,135.46 94.03,135.04 94.27,134.62 94.50,134.21 94.74,133.79 94.98,133.38 95.21,132.97 95.45,132.56 95.69,132.15 95.93,131.75 96.16,131.34 96.40,130.94 97.35,129.35 98.30,127.78 99.24,126.22 100.19,124.69 101.14,123.17 102.09,121.68 103.04,120.21 103.99,118.76 104.93,117.33 105.88,115.93 106.83,114.54 107.78,113.17 108.73,111.81 109.67,110.49 110.62,109.19 111.57,107.91 112.52,106.67 113.47,105.46 114.41,104.28 115.36,103.13 116.31,102.00 117.26,100.89 118.21,99.80 119.16,98.74 120.10,97.69 121.05,96.68 122.00,95.68 122.95,94.71 123.90,93.76 124.84,92.84 125.79,91.94 126.74,91.07 127.69,90.22 128.64,89.40 129.58,88.60 130.53,87.82 131.48,87.07 132.43,86.34 133.38,85.64 134.33,84.96 135.27,84.30 136.22,83.67 137.17,83.06 138.12,82.48 139.07,81.91 140.01,81.37 140.96,80.85 141.91,80.34 142.86,79.86 143.81,79.40 144.76,78.96 145.70,78.53 146.65,78.13 147.60,77.74 148.55,77.37 149.50,77.01 150.44,76.67 151.39,76.35 152.34,76.04 153.29,75.74 154.24,75.46 155.18,75.19 156.13,74.93 157.08,74.69 158.03,74.45 158.98,74.23 159.93,74.02 160.87,73.82 161.82,73.62 162.77,73.44 163.72,73.27 164.67,73.10 165.61,72.94 166.56,72.79 167.51,72.65 168.46,72.51 169.41,72.38 170.35,72.26 171.30,72.14 172.25,72.03 173.20,71.92 174.15,71.82 175.10,71.72 176.04,71.63 176.99,71.54 177.94,71.46 178.89,71.38 179.84,71.31 180.78,71.23 181.73,71.17 182.68,71.10 183.63,71.04 184.58,70.98 185.53,70.92 186.47,70.87 187.42,70.82 188.37,70.77 189.32,70.72 190.27,70.68 191.21,70.64 192.16,70.60 193.11,70.56 194.06,70.52 195.01,70.49 195.95,70.46 196.90,70.42 197.85,70.39 198.80,70.37 199.75,70.34 200.70,70.31 201.64,70.29 202.59,70.26 203.54,70.24 204.49,70.22 205.44,70.20 206.38,70.18 207.33,70.16 208.28,70.14 209.23,70.12 210.18,70.11 211.13,70.09 212.07,70.08 213.02,70.06 213.97,70.05 214.92,70.04 215.87,70.02 216.81,70.01 217.76,70.00 218.71,69.99 219.66,69.98 220.61,69.97 221.55,69.96 222.50,69.95 223.45,69.94 224.40,69.93 225.35,69.92 226.30,69.92 227.24,69.91 228.19,69.90 229.14,69.89 230.09,69.89 231.04,69.88 231.98,69.87 232.93,69.87 233.88,69.86 234.83,69.86 235.78,69.85 236.72,69.85 237.67,69.84 238.62,69.84 239.57,69.83 240.52,69.83 241.47,69.83 242.41,69.82 243.36,69.82 244.31,69.82 245.26,69.81 246.21,69.81 247.15,69.81 248.10,69.80 249.05,69.80 250.00,69.80 250.95,69.79 251.90,69.79 252.84,69.79 253.79,69.79 254.74,69.78 255.69,69.78 256.64,69.78 257.58,69.78 258.53,69.78 259.48,69.77 260.43,69.77 261.38,69.77 262.32,69.77 263.27,69.77 264.22,69.77 265.17,69.76 266.12,69.76 267.07,69.76 268.01,69.76 268.96,69.76 269.91,69.76 270.86,69.76 271.81,69.76 272.75,69.75 273.70,69.75 274.65,69.75 275.60,69.75 276.55,69.75 277.49,69.75 278.44,69.75 279.39,69.75 280.34,69.75 281.29,69.75 282.24,69.75 283.18,69.74 284.13,69.74 285.08,69.74" stroke="#9400d3" stroke-width="1.6" fill="none"/>
<polygon points="65.4,194.5 67.4,198.4 63.5,198.4" stroke="#ff0000" stroke-width="0.7" fill="#ff0000"/><polygon points="74.7,171.3 76.7,175.2 72.8,175.2" stroke="#ff0000" stroke-width="0.7" fill="#ff0000"/><polygon points="81.8,157.4 83.8,161.3 79.9,161.3" stroke="#ff0000" stroke-width="0.7" fill="#ff0000"/><polygon points="87.9,146.7 89.8,150.6 85.9,150.6" stroke="#ff0000" stroke-width="0.7" fill="#ff0000"/><polygon points="93.1,138.0 95.1,141.9 91.2,141.9" stroke="#ff0000" stroke-width="0.7" fill="#ff0000"/><polygon points="97.9,130.8 99.9,134.7 96.0,134.7" stroke="#ff0000" stroke-width="0.7" fill="#ff0000"/><polygon points="106.4,120.0 108.4,123.9 104.5,123.9" stroke="#ff0000" stroke-width="0.7" fill="#ff0000"/><polygon points="110.3,115.7 112.2,119.6 108.3,119.6" stroke="#ff0000" stroke-width="0.7" fill="#ff0000"/><polygon points="113.9,112.1 115.9,116.0 112.0,116.0" stroke="#ff0000" stroke-width="0.7" fill="#ff0000"/><polygon points="117.4,109.0 119.3,112.9 115.4,112.9" stroke="#ff0000" stroke-width="0.7" fill="#ff0000"/><polygon points="120.7,106.5 122.6,110.4 118.7,110.4" stroke="#ff0000" stroke-width="0.7" fill="#ff0000"/><polygon points="123.9,104.4 125.8,108.3 121.9,108.3" stroke="#ff0000" stroke-width="0.7" fill="#ff0000"/><polygon points="126.9,102.3 128.9,106.2 125.0,106.2" stroke="#ff0000" stroke-width="0.7" fill="#ff0000"/><polygon points="132.7,99.6 134.7,103.5 130.8,103.5" stroke="#ff0000" stroke-width="0.7" fill="#ff0000"/><polygon points="135.5,98.2 137.4,102.1 133.5,102.1" stroke="#ff0000" stroke-width="0.7" fill="#ff0000"/><polygon points="138.1,97.1 140.1,101.0 136.2,101.0" stroke="#ff0000" stroke-width="0.7" fill="#ff0000"/><polygon points="140.8,96.4 142.7,100.3 138.8,100.3" stroke="#ff0000" stroke-width="0.7" fill="#ff0000"/><polygon points="143.3,95.9 145.2,99.8 141.3,99.8" stroke="#ff0000" stroke-width="0.7" fill="#ff0000"/><polygon points="145.8,95.1 147.7,99.0 143.8,99.0" stroke="#ff0000" stroke-width="0.7" fill="#ff0000"/><polygon points="148.2,94.4 150.1,98.3 146.2,98.3" stroke="#ff0000" stroke-width="0.7" fill="#ff0000"/><polygon points="152.9,93.4 154.8,97.3 150.9,97.3" stroke="#ff0000" stroke-width="0.7" fill="#ff0000"/><polygon points="155.1,92.9 157.1,96.8 153.2,96.8" stroke="#ff0000" stroke-width="0.7" fill="#ff0000"/><polygon points="157.4,93.0 159.3,96.9 155.4,96.9" stroke="#ff0000" stroke-width="0.7" fill="#ff0000"/><polygon points="159.5,92.6 161.5,96.5 157.6,96.5" stroke="#ff0000" stroke-width="0.7" fill="#ff0000"/><polygon points="163.9,92.0 165.8,95.9 161.9,95.9" stroke="#ff0000" stroke-width="0.7" fill="#ff0000"/><polygon points="168.6,91.7 170.5,95.6 166.6,95.6" stroke="#ff0000" stroke-width="0.7" fill="#ff0000"/><polygon points="173.7,91.8 175.7,95.7 171.8,95.7" stroke="#ff0000" stroke-width="0.7" fill="#ff0000"/><polygon points="177.6,91.1 179.5,95.0 175.6,95.0" stroke="#ff0000" stroke-width="0.7" fill="#ff0000"/><polygon points="186.5,90.4 188.5,94.3 184.6,94.3" stroke="#ff0000" stroke-width="0.7" fill="#ff0000"/><polygon points="200.0,90.4 201.9,94.3 198.0,94.3" stroke="#ff0000" stroke-width="0.7" fill="#ff0000"/><polygon points="222.4,90.8 224.4,94.7 220.5,94.7" stroke="#ff0000" stroke-width="0.7" fill="#ff0000"/>
<polyline points="49.23,293.63 49.47,289.63 49.70,285.90 49.94,282.41 50.18,279.12 50.42,276.01 50.65,273.07 50.89,270.27 51.13,267.61 51.36,265.13 51.60,262.81 51.84,260.63 52.07,258.58 52.31,256.63 52.55,254.78 52.79,253.00 53.02,251.29 53.26,249.64 53.50,248.04 53.73,246.48 53.97,244.95 54.21,243.44 54.44,241.96 54.68,240.50 54.92,239.09 55.16,237.72 55.39,236.40 55.63,235.12 55.87,233.88 56.10,232.68 56.34,231.50 56.58,230.35 56.82,229.23 57.05,228.13 57.29,227.05 57.53,225.99 57.76,224.94 58.00,223.91 58.24,222.89 58.47,221.88 58.71,220.89 58.95,219.90 59.19,218.91 59.42,217.94 59.66,216.96 59.90,216.00 60.13,215.03 60.37,214.06 60.61,213.10 60.84,212.14 61.08,211.19 61.32,210.26 61.56,209.34 61.79,208.44 62.03,207.56 62.27,206.69 62.50,205.84 62.74,205.00 62.98,204.18 63.22,203.36 63.45,202.56 63.69,201.78 63.93,201.00 64.16,200.24 64.40,199.48 64.64,198.74 64.87,198.00 65.11,197.28 65.35,196.56 65.59,195.86 65.82,195.16 66.06,194.47 66.30,193.79 66.53,193.12 66.77,192.46 67.01,191.80 67.24,191.15 67.48,190.51 67.72,189.87 67.96,189.24 68.19,188.62 68.43,188.00 68.67,187.39 68.90,186.78 69.14,186.18 69.38,185.59 69.62,185.00 69.85,184.42 70.09,183.84 70.33,183.27 70.56,182.70 70.80,182.13 71.04,181.57 71.27,181.02 71.51,180.47 71.75,179.92 71.99,179.38 72.22,178.84 72.46,178.31 72.70,177.78 72.93,177.25 73.17,176.73 73.41,176.21 73.64,175.70 73.88,175.18 74.12,174.68 74.36,174.17 74.59,173.67 74.83,173.17 75.07,172.67 75.30,172.18 75.54,171.69 75.78,171.21 76.01,170.72 76.25,170.24 76.49,169.76 76.73,169.29 76.96,168.81 77.20,168.34 77.44,167.88 77.67,167.41 77.91,166.95 78.15,166.49 78.39,166.03 78.62,165.58 78.86,165.12 79.10,164.67 79.33,164.22 79.57,163.76 79.81,163.31 80.04,162.86 80.28,162.41 80.52,161.96 80.76,161.51 80.99,161.07 81.23,160.62 81.47,160.17 81.70,159.73 81.94,159.29 82.18,158.84 82.41,158.40 82.65,157.96 82.89,157.52 83.13,157.09 83.36,156.65 83.60,156.22 83.84,155.78 84.07,155.35 84.31,154.92 84.55,154.50 84.79,154.07 85.02,153.64 85.26,153.22 85.50,152.80 85.73,152.38 85.97,151.96 86.21,151.55 86.44,151.13 86.68,150.72 86.92,150.31 87.16,149.90 87.39,149.50 87.63,149.09 87.87,148.69 88.10,148.29 88.34,147.88 88.58,147.48 88.81,147.08 89.05,146.68 89.29,146.28 89.53,145.89 89.76,145.49 90.00,145.09 90.24,144.70 90.47,144.31 90.71,143.91 90.95,143.52 91.19,143.13 91.42,142.75 91.66,142.36 91.90,141.98 92.13,141.59 92.37,141.21 92.61,140.83 92.84,140.45 93.08,140.08 93.32,139.70 93.56,139.33 93.79,138.96 94.03,138.59 94.27,138.22 94.50,137.86 94.74,137.49 94.98,137.13 95.21,136.77 95.45,136.42 95.69,136.06 95.93,135.71 96.16,135.36 96.40,135.01 97.35,133.64 98.30,132.29 99.24,130.97 100.19,129.68 101.14,128.42 102.09,127.18 103.04,125.97 103.99,124.79 104.93,123.64 105.88,122.52 106.83,121.42 107.78,120.34 108.73,119.29 109.67,118.27 110.62,117.27 111.57,116.31 112.52,115.38 113.47,114.48 114.41,113.62 115.36,112.78 116.31,111.97 117.26,111.18 118.21,110.41 119.16,109.66 120.10,108.94 121.05,108.25 122.00,107.57 122.95,106.92 123.90,106.28 124.84,105.67 125.79,105.09 126.74,104.52 127.69,103.97 128.64,103.45 129.58,102.94 130.53,102.45 131.48,101.98 132.43,101.54 133.38,101.10 134.33,100.69 135.27,100.30 136.22,99.92 137.17,99.55 138.12,99.20 139.07,98.87 140.01,98.55 140.96,98.25 141.91,97.96 142.86,97.68 143.81,97.42 144.76,97.17 145.70,96.93 146.65,96.70 147.60,96.48 148.55,96.27 149.50,96.08 150.44,95.89 151.39,95.71 152.34,95.54 153.29,95.38 154.24,95.23 155.18,95.08 156.13,94.94 157.08,94.81 158.03,94.69 158.98,94.57 159.93,94.45 160.87,94.35 161.82,94.25 162.77,94.15 163.72,94.06 164.67,93.97 165.61,93.89 166.56,93.81 167.51,93.74 168.46,93.67 169.41,93.60 170.35,93.54 171.30,93.48 172.25,93.43 173.20,93.37 174.15,93.32 175.10,93.28 176.04,93.23 176.99,93.19 177.94,93.15 178.89,93.11 179.84,93.07 180.78,93.04 181.73,93.01 182.68,92.97 183.63,92.95 184.58,92.92 185.53,92.89 186.47,92.87 187.42,92.84 188.37,92.82 189.32,92.80 190.27,92.78 191.21,92.76 192.16,92.74 193.11,92.73 194.06,92.71 195.01,92.70 195.95,92.68 196.90,92.67 197.85,92.66 198.80,92.64 199.75,92.63 200.70,92.62 201.64,92.61 202.59,92.60 203.54,92.59 204.49,92.58 205.44,92.58 206.38,92.57 207.33,92.56 208.28,92.55 209.23,92.55 210.18,92.54 211.13,92.54 212.07,92.53 213.02,92.52 213.97,92.52 214.92,92.51 215.87,92.51 216.81,92.51 217.76,92.50 218.71,92.50 219.66,92.49 220.61,92.49 221.55,92.49 222.50,92.49 223.45,92.48 224.40,92.48 225.35,92.48 226.30,92.47 227.24,92.47 228.19,92.47 229.14,92.47 230.09,92.47 231.04,92.46 231.98,92.46 232.93,92.46 233.88,92.46 234.83,92.46 235.78,92.46 236.72,92.46 237.67,92.45 238.62,92.45 239.57,92.45 240.52,92.45 241.47,92.45 242.41,92.45 243.36,92.45 244.31,92.45 245.26,92.45 246.21,92.45 247.15,92.44 248.10,92.44 249.05,92.44 250.00,92.44 250.95,92.44 251.90,92.44 252.84,92.44 253.79,92.44 254.74,92.44 255.69,92.44 256.64,92.44 257.58,92.44 258.53,92.44 259.48,92.44 260.43,92.44 261.38,92.44 262.32,92.44 263.27,92.44 264.22,92.44 265.17,92.44 266.12,92.44 267.07,92.44 268.01,92.44 268.96,92.44 269.91,92.44 270.86,92.44 271.81,92.44 272.75,92.43 273.70,92.43 274.65,92.43 275.60,92.43 276.55,92.43 277.49,92.43 278.44,92.43 279.39,92.43 280.34,92.43 281.29,92.43 282.24,92.43 283.18,92.43 284.13,92.43 285.08,92.43" stroke="#ff0000" stroke-width="1.6" fill="none"/>
<polygon points="64.5,197.4 66.5,201.3 62.6,201.3" stroke="#000000" stroke-width="0.7" fill="none"/><polygon points="73.4,174.9 75.4,178.8 71.5,178.8" stroke="#000000" stroke-width="0.7" fill="none"/><polygon points="80.3,161.8 82.2,165.7 78.3,165.7" stroke="#000000" stroke-width="0.7" fill="none"/><polygon points="86.1,152.0 88.0,155.9 84.1,155.9" stroke="#000000" stroke-width="0.7" fill="none"/><polygon points="91.1,144.3 93.1,148.2 89.2,148.2" stroke="#000000" stroke-width="0.7" fill="none"/><polygon points="95.7,138.2 97.7,142.1 93.8,142.1" stroke="#000000" stroke-width="0.7" fill="none"/><polygon points="103.9,129.4 105.8,133.3 101.9,133.3" stroke="#000000" stroke-width="0.7" fill="none"/><polygon points="107.6,126.2 109.5,130.1 105.6,130.1" stroke="#000000" stroke-width="0.7" fill="none"/><polygon points="111.1,123.6 113.0,127.5 109.1,127.5" stroke="#000000" stroke-width="0.7" fill="none"/><polygon points="114.4,121.5 116.4,125.4 112.5,125.4" stroke="#000000" stroke-width="0.7" fill="none"/><polygon points="117.6,119.8 119.5,123.7 115.6,123.7" stroke="#000000" stroke-width="0.7" fill="none"/><polygon points="120.6,118.4 122.6,122.3 118.7,122.3" stroke="#000000" stroke-width="0.7" fill="none"/><polygon points="123.6,117.2 125.5,121.1 121.6,121.1" stroke="#000000" stroke-width="0.7" fill="none"/><polygon points="129.1,115.5 131.1,119.4 127.2,119.4" stroke="#000000" stroke-width="0.7" fill="none"/><polygon points="131.8,114.8 133.7,118.7 129.8,118.7" stroke="#000000" stroke-width="0.7" fill="none"/><polygon points="134.3,114.2 136.3,118.1 132.4,118.1" stroke="#000000" stroke-width="0.7" fill="none"/><polygon points="136.8,113.7 138.8,117.6 134.9,117.6" stroke="#000000" stroke-width="0.7" fill="none"/><polygon points="139.3,113.3 141.2,117.2 137.3,117.2" stroke="#000000" stroke-width="0.7" fill="none"/><polygon points="141.7,113.0 143.6,116.9 139.7,116.9" stroke="#000000" stroke-width="0.7" fill="none"/><polygon points="144.0,112.7 145.9,116.6 142.0,116.6" stroke="#000000" stroke-width="0.7" fill="none"/><polygon points="148.5,112.2 150.4,116.1 146.5,116.1" stroke="#000000" stroke-width="0.7" fill="none"/><polygon points="150.6,112.0 152.6,115.9 148.7,115.9" stroke="#000000" stroke-width="0.7" fill="none"/><polygon points="152.8,111.9 154.7,115.8 150.8,115.8" stroke="#000000" stroke-width="0.7" fill="none"/><polygon points="154.9,111.7 156.8,115.6 152.9,115.6" stroke="#000000" stroke-width="0.7" fill="none"/><polygon points="159.0,111.5 161.0,115.4 157.1,115.4" stroke="#000000" stroke-width="0.7" fill="none"/><polygon points="163.6,111.3 165.5,115.2 161.6,115.2" stroke="#000000" stroke-width="0.7" fill="none"/><polygon points="168.5,111.1 170.5,115.0 166.6,115.0" stroke="#000000" stroke-width="0.7" fill="none"/><polygon points="172.2,111.1 174.1,115.0 170.2,115.0" stroke="#000000" stroke-width="0.7" fill="none"/><polygon points="180.8,110.9 182.7,114.8 178.8,114.8" stroke="#000000" stroke-width="0.7" fill="none"/><polygon points="193.7,110.8 195.7,114.7 191.8,114.7" stroke="#000000" stroke-width="0.7" fill="none"/><polygon points="215.2,110.7 217.2,114.6 213.3,114.6" stroke="#000000" stroke-width="0.7" fill="none"/>
<polyline points="49.23,293.63 49.47,289.64 49.70,285.91 49.94,282.41 50.18,279.12 50.42,276.02 50.65,273.08 50.89,270.28 51.13,267.62 51.36,265.14 51.60,262.82 51.84,260.65 52.07,258.60 52.31,256.65 52.55,254.80 52.79,253.03 53.02,251.32 53.26,249.67 53.50,248.07 53.73,246.51 53.97,244.98 54.21,243.48 54.44,242.00 54.68,240.54 54.92,239.13 55.16,237.77 55.39,236.45 55.63,235.18 55.87,233.94 56.10,232.74 56.34,231.56 56.58,230.42 56.82,229.30 57.05,228.20 57.29,227.13 57.53,226.07 57.76,225.03 58.00,224.00 58.24,222.98 58.47,221.98 58.71,220.99 58.95,220.00 59.19,219.02 59.42,218.05 59.66,217.08 59.90,216.12 60.13,215.16 60.37,214.20 60.61,213.24 60.84,212.29 61.08,211.34 61.32,210.42 61.56,209.51 61.79,208.62 62.03,207.74 62.27,206.88 62.50,206.04 62.74,205.21 62.98,204.39 63.22,203.58 63.45,202.79 63.69,202.01 63.93,201.24 64.16,200.49 64.40,199.74 64.64,199.01 64.87,198.28 65.11,197.57 65.35,196.86 65.59,196.17 65.82,195.48 66.06,194.80 66.30,194.13 66.53,193.47 66.77,192.81 67.01,192.17 67.24,191.53 67.48,190.90 67.72,190.27 67.96,189.65 68.19,189.04 68.43,188.44 68.67,187.84 68.90,187.24 69.14,186.66 69.38,186.08 69.62,185.50 69.85,184.93 70.09,184.36 70.33,183.80 70.56,183.25 70.80,182.70 71.04,182.16 71.27,181.62 71.51,181.08 71.75,180.55 71.99,180.02 72.22,179.50 72.46,178.98 72.70,178.47 72.93,177.96 73.17,177.45 73.41,176.95 73.64,176.45 73.88,175.96 74.12,175.46 74.36,174.98 74.59,174.49 74.83,174.01 75.07,173.54 75.30,173.06 75.54,172.59 75.78,172.12 76.01,171.66 76.25,171.20 76.49,170.74 76.73,170.29 76.96,169.83 77.20,169.39 77.44,168.94 77.67,168.50 77.91,168.06 78.15,167.62 78.39,167.18 78.62,166.75 78.86,166.32 79.10,165.89 79.33,165.46 79.57,165.04 79.81,164.61 80.04,164.18 80.28,163.76 80.52,163.34 80.76,162.92 80.99,162.50 81.23,162.08 81.47,161.66 81.70,161.24 81.94,160.83 82.18,160.42 82.41,160.01 82.65,159.60 82.89,159.19 83.13,158.78 83.36,158.38 83.60,157.98 83.84,157.58 84.07,157.18 84.31,156.79 84.55,156.39 84.79,156.00 85.02,155.61 85.26,155.22 85.50,154.84 85.73,154.46 85.97,154.08 86.21,153.70 86.44,153.32 86.68,152.95 86.92,152.58 87.16,152.21 87.39,151.84 87.63,151.48 87.87,151.12 88.10,150.76 88.34,150.40 88.58,150.04 88.81,149.68 89.05,149.33 89.29,148.97 89.53,148.62 89.76,148.27 90.00,147.92 90.24,147.58 90.47,147.23 90.71,146.89 90.95,146.54 91.19,146.21 91.42,145.87 91.66,145.53 91.90,145.20 92.13,144.87 92.37,144.54 92.61,144.21 92.84,143.89 93.08,143.56 93.32,143.24 93.56,142.92 93.79,142.61 94.03,142.30 94.27,141.99 94.50,141.68 94.74,141.37 94.98,141.07 95.21,140.77 95.45,140.47 95.69,140.18 95.93,139.88 96.16,139.59 96.40,139.31 97.35,138.18 98.30,137.09 99.24,136.03 100.19,135.00 101.14,134.01 102.09,133.06 103.04,132.14 103.99,131.25 104.93,130.39 105.88,129.57 106.83,128.77 107.78,128.00 108.73,127.26 109.67,126.55 110.62,125.88 111.57,125.23 112.52,124.61 113.47,124.02 114.41,123.47 115.36,122.93 116.31,122.42 117.26,121.94 118.21,121.47 119.16,121.02 120.10,120.59 121.05,120.19 122.00,119.80 122.95,119.43 123.90,119.07 124.84,118.74 125.79,118.41 126.74,118.11 127.69,117.82 128.64,117.54 129.58,117.28 130.53,117.03 131.48,116.79 132.43,116.57 133.38,116.36 134.33,116.15 135.27,115.96 136.22,115.78 137.17,115.61 138.12,115.45 139.07,115.29 140.01,115.15 140.96,115.01 141.91,114.88 142.86,114.75 143.81,114.64 144.76,114.52 145.70,114.42 146.65,114.32 147.60,114.23 148.55,114.14 149.50,114.06 150.44,113.98 151.39,113.90 152.34,113.83 153.29,113.77 154.24,113.70 155.18,113.65 156.13,113.59 157.08,113.54 158.03,113.49 158.98,113.44 159.93,113.40 160.87,113.35 161.82,113.32 162.77,113.28 163.72,113.24 164.67,113.21 165.61,113.18 166.56,113.15 167.51,113.12 168.46,113.10 169.41,113.07 170.35,113.05 171.30,113.03 172.25,113.00 173.20,112.99 174.15,112.97 175.10,112.95 176.04,112.93 176.99,112.92 177.94,112.90 178.89,112.89 179.84,112.88 180.78,112.86 181.73,112.85 182.68,112.84 183.63,112.83 184.58,112.82 185.53,112.81 186.47,112.80 187.42,112.80 188.37,112.79 189.32,112.78 190.27,112.77 191.21,112.77 192.16,112.76 193.11,112.76 194.06,112.75 195.01,112.75 195.95,112.74 196.90,112.74 197.85,112.73 198.80,112.73 199.75,112.72 200.70,112.72 201.64,112.72 202.59,112.71 203.54,112.71 204.49,112.71 205.44,112.71 206.38,112.70 207.33,112.70 208.28,112.70 209.23,112.70 210.18,112.69 211.13,112.69 212.07,112.69 213.02,112.69 213.97,112.69 214.92,112.69 215.87,112.68 216.81,112.68 217.76,112.68 218.71,112.68 219.66,112.68 220.61,112.68 221.55,112.68 222.50,112.68 223.45,112.68 224.40,112.68 225.35,112.67 226.30,112.67 227.24,112.67 228.19,112.67 229.14,112.67 230.09,112.67 231.04,112.67 231.98,112.67 232.93,112.67 233.88,112.67 234.83,112.67 235.78,112.67 236.72,112.67 237.67,112.67 238.62,112.67 239.57,112.67 240.52,112.67 241.47,112.67 242.41,112.67 243.36,112.67 244.31,112.67 245.26,112.67 246.21,112.66 247.15,112.66 248.10,112.66 249.05,112.66 250.00,112.66 250.95,112.66 251.90,112.66 252.84,112.66 253.79,112.66 254.74,112.66 255.69,112.66 256.64,112.66 257.58,112.66 258.53,112.66 259.48,112.66 260.43,112.66 261.38,112.66 262.32,112.66 263.27,112.66 264.22,112.66 265.17,112.66 266.12,112.66 267.07,112.66 268.01,112.66 268.96,112.66 269.91,112.66 270.86,112.66 271.81,112.66 272.75,112.66 273.70,112.66 274.65,112.66 275.60,112.66 276.55,112.66 277.49,112.66 278.44,112.66 279.39,112.66 280.34,112.66 281.29,112.66 282.24,112.66 283.18,112.66 284.13,112.66 285.08,112.66" stroke="#000000" stroke-width="1.6" fill="none"/>
<polygon points="64.1,203.1 66.1,199.2 62.2,199.2" stroke="#008b00" stroke-width="0.7" fill="#008b00"/><polygon points="72.8,181.2 74.8,177.3 70.9,177.3" stroke="#008b00" stroke-width="0.7" fill="#008b00"/><polygon points="79.6,168.7 81.5,164.8 77.6,164.8" stroke="#008b00" stroke-width="0.7" fill="#008b00"/><polygon points="85.2,159.7 87.2,155.8 83.3,155.8" stroke="#008b00" stroke-width="0.7" fill="#008b00"/><polygon points="90.2,152.7 92.1,148.8 88.2,148.8" stroke="#008b00" stroke-width="0.7" fill="#008b00"/><polygon points="94.7,147.2 96.7,143.3 92.8,143.3" stroke="#008b00" stroke-width="0.7" fill="#008b00"/><polygon points="102.7,139.6 104.6,135.7 100.7,135.7" stroke="#008b00" stroke-width="0.7" fill="#008b00"/><polygon points="106.3,136.9 108.3,133.0 104.4,133.0" stroke="#008b00" stroke-width="0.7" fill="#008b00"/><polygon points="109.7,134.7 111.7,130.8 107.8,130.8" stroke="#008b00" stroke-width="0.7" fill="#008b00"/><polygon points="113.0,132.9 115.0,129.0 111.1,129.0" stroke="#008b00" stroke-width="0.7" fill="#008b00"/><polygon points="116.1,131.5 118.1,127.6 114.2,127.6" stroke="#008b00" stroke-width="0.7" fill="#008b00"/><polygon points="119.1,130.3 121.1,126.4 117.2,126.4" stroke="#008b00" stroke-width="0.7" fill="#008b00"/><polygon points="122.0,129.4 123.9,125.5 120.0,125.5" stroke="#008b00" stroke-width="0.7" fill="#008b00"/><polygon points="127.4,127.9 129.4,124.0 125.5,124.0" stroke="#008b00" stroke-width="0.7" fill="#008b00"/><polygon points="130.0,127.3 132.0,123.4 128.1,123.4" stroke="#008b00" stroke-width="0.7" fill="#008b00"/><polygon points="132.5,126.8 134.5,122.9 130.6,122.9" stroke="#008b00" stroke-width="0.7" fill="#008b00"/><polygon points="135.0,126.4 137.0,122.5 133.1,122.5" stroke="#008b00" stroke-width="0.7" fill="#008b00"/><polygon points="137.4,126.0 139.3,122.1 135.4,122.1" stroke="#008b00" stroke-width="0.7" fill="#008b00"/><polygon points="139.7,125.7 141.7,121.8 137.8,121.8" stroke="#008b00" stroke-width="0.7" fill="#008b00"/><polygon points="142.0,125.5 144.0,121.6 140.1,121.6" stroke="#008b00" stroke-width="0.7" fill="#008b00"/><polygon points="146.4,125.0 148.4,121.1 144.5,121.1" stroke="#008b00" stroke-width="0.7" fill="#008b00"/><polygon points="148.5,124.9 150.5,121.0 146.6,121.0" stroke="#008b00" stroke-width="0.7" fill="#008b00"/><polygon points="150.6,124.7 152.6,120.8 148.7,120.8" stroke="#008b00" stroke-width="0.7" fill="#008b00"/><polygon points="152.7,124.6 154.6,120.7 150.7,120.7" stroke="#008b00" stroke-width="0.7" fill="#008b00"/><polygon points="156.8,124.4 158.7,120.5 154.8,120.5" stroke="#008b00" stroke-width="0.7" fill="#008b00"/><polygon points="161.2,124.2 163.1,120.3 159.2,120.3" stroke="#008b00" stroke-width="0.7" fill="#008b00"/><polygon points="166.1,124.1 168.0,120.2 164.1,120.2" stroke="#008b00" stroke-width="0.7" fill="#008b00"/><polygon points="169.6,124.0 171.6,120.1 167.7,120.1" stroke="#008b00" stroke-width="0.7" fill="#008b00"/><polygon points="178.1,123.8 180.0,119.9 176.1,119.9" stroke="#008b00" stroke-width="0.7" fill="#008b00"/><polygon points="190.7,123.7 192.7,119.8 188.8,119.8" stroke="#008b00" stroke-width="0.7" fill="#008b00"/><polygon points="211.9,123.7 213.8,119.8 209.9,119.8" stroke="#008b00" stroke-width="0.7" fill="#008b00"/>
<polyline points="49.23,293.65 49.47,289.65 49.70,285.93 49.94,282.43 50.18,279.15 50.42,276.05 50.65,273.11 50.89,270.31 51.13,267.66 51.36,265.18 51.60,262.87 51.84,260.70 52.07,258.65 52.31,256.71 52.55,254.86 52.79,253.09 53.02,251.39 53.26,249.74 53.50,248.15 53.73,246.59 53.97,245.07 54.21,243.57 54.44,242.10 54.68,240.64 54.92,239.24 55.16,237.88 55.39,236.57 55.63,235.30 55.87,234.07 56.10,232.88 56.34,231.71 56.58,230.57 56.82,229.46 57.05,228.37 57.29,227.30 57.53,226.25 57.76,225.21 58.00,224.19 58.24,223.18 58.47,222.19 58.71,221.20 58.95,220.23 59.19,219.26 59.42,218.29 59.66,217.33 59.90,216.38 60.13,215.43 60.37,214.48 60.61,213.53 60.84,212.59 61.08,211.65 61.32,210.74 61.56,209.84 61.79,208.96 62.03,208.10 62.27,207.25 62.50,206.42 62.74,205.60 62.98,204.79 63.22,204.00 63.45,203.22 63.69,202.45 63.93,201.70 64.16,200.96 64.40,200.22 64.64,199.50 64.87,198.79 65.11,198.09 65.35,197.40 65.59,196.71 65.82,196.04 66.06,195.38 66.30,194.72 66.53,194.07 66.77,193.44 67.01,192.80 67.24,192.18 67.48,191.56 67.72,190.95 67.96,190.35 68.19,189.76 68.43,189.17 68.67,188.58 68.90,188.01 69.14,187.44 69.38,186.87 69.62,186.31 69.85,185.76 70.09,185.21 70.33,184.67 70.56,184.13 70.80,183.60 71.04,183.07 71.27,182.55 71.51,182.04 71.75,181.52 71.99,181.02 72.22,180.51 72.46,180.01 72.70,179.52 72.93,179.03 73.17,178.54 73.41,178.06 73.64,177.58 73.88,177.11 74.12,176.64 74.36,176.17 74.59,175.71 74.83,175.25 75.07,174.79 75.30,174.34 75.54,173.89 75.78,173.45 76.01,173.01 76.25,172.57 76.49,172.13 76.73,171.70 76.96,171.27 77.20,170.85 77.44,170.43 77.67,170.01 77.91,169.59 78.15,169.18 78.39,168.77 78.62,168.36 78.86,167.95 79.10,167.55 79.33,167.15 79.57,166.74 79.81,166.34 80.04,165.94 80.28,165.55 80.52,165.15 80.76,164.76 80.99,164.37 81.23,163.97 81.47,163.59 81.70,163.20 81.94,162.81 82.18,162.43 82.41,162.05 82.65,161.67 82.89,161.29 83.13,160.92 83.36,160.54 83.60,160.17 83.84,159.80 84.07,159.44 84.31,159.07 84.55,158.71 84.79,158.35 85.02,158.00 85.26,157.64 85.50,157.29 85.73,156.94 85.97,156.59 86.21,156.25 86.44,155.90 86.68,155.56 86.92,155.23 87.16,154.89 87.39,154.56 87.63,154.23 87.87,153.91 88.10,153.58 88.34,153.25 88.58,152.93 88.81,152.61 89.05,152.29 89.29,151.97 89.53,151.66 89.76,151.34 90.00,151.03 90.24,150.72 90.47,150.41 90.71,150.11 90.95,149.80 91.19,149.50 91.42,149.20 91.66,148.91 91.90,148.61 92.13,148.32 92.37,148.03 92.61,147.74 92.84,147.45 93.08,147.17 93.32,146.89 93.56,146.61 93.79,146.33 94.03,146.06 94.27,145.79 94.50,145.52 94.74,145.25 94.98,144.99 95.21,144.73 95.45,144.47 95.69,144.21 95.93,143.96 96.16,143.71 96.40,143.46 97.35,142.49 98.30,141.56 99.24,140.65 100.19,139.79 101.14,138.95 102.09,138.15 103.04,137.38 103.99,136.64 104.93,135.93 105.88,135.25 106.83,134.59 107.78,133.97 108.73,133.36 109.67,132.79 110.62,132.24 111.57,131.72 112.52,131.22 113.47,130.75 114.41,130.30 115.36,129.88 116.31,129.47 117.26,129.09 118.21,128.72 119.16,128.36 120.10,128.02 121.05,127.70 122.00,127.40 122.95,127.10 123.90,126.83 124.84,126.56 125.79,126.31 126.74,126.07 127.69,125.84 128.64,125.62 129.58,125.42 130.53,125.22 131.48,125.03 132.43,124.86 133.38,124.69 134.33,124.53 135.27,124.38 136.22,124.23 137.17,124.10 138.12,123.97 139.07,123.85 140.01,123.73 140.96,123.62 141.91,123.52 142.86,123.42 143.81,123.33 144.76,123.24 145.70,123.15 146.65,123.07 147.60,123.00 148.55,122.93 149.50,122.86 150.44,122.80 151.39,122.74 152.34,122.68 153.29,122.62 154.24,122.57 155.18,122.52 156.13,122.48 157.08,122.44 158.03,122.39 158.98,122.36 159.93,122.32 160.87,122.28 161.82,122.25 162.77,122.22 163.72,122.19 164.67,122.16 165.61,122.14 166.56,122.11 167.51,122.09 168.46,122.07 169.41,122.04 170.35,122.02 171.30,122.01 172.25,121.99 173.20,121.97 174.15,121.96 175.10,121.94 176.04,121.93 176.99,121.91 177.94,121.90 178.89,121.89 179.84,121.88 180.78,121.87 181.73,121.86 182.68,121.85 183.63,121.84 184.58,121.83 185.53,121.82 186.47,121.81 187.42,121.80 188.37,121.80 189.32,121.79 190.27,121.79 191.21,121.78 192.16,121.77 193.11,121.77 194.06,121.76 195.01,121.76 195.95,121.75 196.90,121.75 197.85,121.75 198.80,121.74 199.75,121.74 200.70,121.74 201.64,121.73 202.59,121.73 203.54,121.73 204.49,121.72 205.44,121.72 206.38,121.72 207.33,121.72 208.28,121.71 209.23,121.71 210.18,121.71 211.13,121.71 212.07,121.71 213.02,121.71 213.97,121.70 214.92,121.70 215.87,121.70 216.81,121.70 217.76,121.70 218.71,121.70 219.66,121.70 220.61,121.70 221.55,121.69 222.50,121.69 223.45,121.69 224.40,121.69 225.35,121.69 226.30,121.69 227.24,121.69 228.19,121.69 229.14,121.69 230.09,121.69 231.04,121.69 231.98,121.69 232.93,121.69 233.88,121.69 234.83,121.69 235.78,121.68 236.72,121.68 237.67,121.68 238.62,121.68 239.57,121.68 240.52,121.68 241.47,121.68 242.41,121.68 243.36,121.68 244.31,121.68 245.26,121.68 246.21,121.68 247.15,121.68 248.10,121.68 249.05,121.68 250.00,121.68 250.95,121.68 251.90,121.68 252.84,121.68 253.79,121.68 254.74,121.68 255.69,121.68 256.64,121.68 257.58,121.68 258.53,121.68 259.48,121.68 260.43,121.68 261.38,121.68 262.32,121.68 263.27,121.68 264.22,121.68 265.17,121.68 266.12,121.68 267.07,121.68 268.01,121.68 268.96,121.68 269.91,121.68 270.86,121.68 271.81,121.68 272.75,121.68 273.70,121.68 274.65,121.68 275.60,121.68 276.55,121.68 277.49,121.68 278.44,121.68 279.39,121.68 280.34,121.68 281.29,121.68 282.24,121.68 283.18,121.68 284.13,121.68 285.08,121.68" stroke="#008b00" stroke-width="1.6" fill="none"/>
<polygon points="63.1,206.2 65.1,202.3 61.2,202.3" stroke="#7221bc" stroke-width="0.7" fill="none"/><polygon points="71.5,184.4 73.4,180.5 69.5,180.5" stroke="#7221bc" stroke-width="0.7" fill="none"/><polygon points="77.9,172.6 79.8,168.7 75.9,168.7" stroke="#7221bc" stroke-width="0.7" fill="none"/><polygon points="83.2,164.5 85.2,160.6 81.3,160.6" stroke="#7221bc" stroke-width="0.7" fill="none"/><polygon points="88.0,158.6 89.9,154.7 86.0,154.7" stroke="#7221bc" stroke-width="0.7" fill="none"/><polygon points="92.3,154.2 94.2,150.3 90.3,150.3" stroke="#7221bc" stroke-width="0.7" fill="none"/><polygon points="99.9,148.6 101.9,144.7 98.0,144.7" stroke="#7221bc" stroke-width="0.7" fill="none"/><polygon points="103.4,146.8 105.3,142.9 101.4,142.9" stroke="#7221bc" stroke-width="0.7" fill="none"/><polygon points="106.6,145.5 108.6,141.6 104.7,141.6" stroke="#7221bc" stroke-width="0.7" fill="none"/><polygon points="109.7,144.5 111.7,140.6 107.8,140.6" stroke="#7221bc" stroke-width="0.7" fill="none"/><polygon points="112.7,143.7 114.6,139.8 110.7,139.8" stroke="#7221bc" stroke-width="0.7" fill="none"/><polygon points="115.5,143.1 117.5,139.2 113.6,139.2" stroke="#7221bc" stroke-width="0.7" fill="none"/><polygon points="118.3,142.6 120.2,138.7 116.3,138.7" stroke="#7221bc" stroke-width="0.7" fill="none"/><polygon points="123.5,141.9 125.4,138.0 121.5,138.0" stroke="#7221bc" stroke-width="0.7" fill="none"/><polygon points="126.0,141.6 127.9,137.7 124.0,137.7" stroke="#7221bc" stroke-width="0.7" fill="none"/><polygon points="128.4,141.4 130.3,137.5 126.4,137.5" stroke="#7221bc" stroke-width="0.7" fill="none"/><polygon points="130.7,141.3 132.7,137.4 128.8,137.4" stroke="#7221bc" stroke-width="0.7" fill="none"/><polygon points="133.0,141.1 134.9,137.2 131.0,137.2" stroke="#7221bc" stroke-width="0.7" fill="none"/><polygon points="135.2,141.0 137.2,137.1 133.3,137.1" stroke="#7221bc" stroke-width="0.7" fill="none"/><polygon points="137.4,140.9 139.3,137.0 135.4,137.0" stroke="#7221bc" stroke-width="0.7" fill="none"/><polygon points="141.6,140.8 143.5,136.9 139.6,136.9" stroke="#7221bc" stroke-width="0.7" fill="none"/><polygon points="143.6,140.7 145.6,136.8 141.7,136.8" stroke="#7221bc" stroke-width="0.7" fill="none"/><polygon points="145.6,140.7 147.5,136.8 143.6,136.8" stroke="#7221bc" stroke-width="0.7" fill="none"/><polygon points="147.6,140.6 149.5,136.7 145.6,136.7" stroke="#7221bc" stroke-width="0.7" fill="none"/><polygon points="151.5,140.6 153.4,136.7 149.5,136.7" stroke="#7221bc" stroke-width="0.7" fill="none"/><polygon points="155.7,140.5 157.6,136.6 153.7,136.6" stroke="#7221bc" stroke-width="0.7" fill="none"/><polygon points="160.3,140.5 162.3,136.6 158.4,136.6" stroke="#7221bc" stroke-width="0.7" fill="none"/><polygon points="163.7,140.5 165.7,136.6 161.8,136.6" stroke="#7221bc" stroke-width="0.7" fill="none"/><polygon points="171.8,140.4 173.7,136.5 169.8,136.5" stroke="#7221bc" stroke-width="0.7" fill="none"/><polygon points="183.8,140.4 185.8,136.5 181.9,136.5" stroke="#7221bc" stroke-width="0.7" fill="none"/><polygon points="204.0,140.4 205.9,136.5 202.0,136.5" stroke="#7221bc" stroke-width="0.7" fill="none"/>
<polyline points="49.23,293.63 49.47,289.64 49.70,285.91 49.94,282.41 50.18,279.13 50.42,276.02 50.65,273.08 50.89,270.28 51.13,267.62 51.36,265.15 51.60,262.83 51.84,260.66 52.07,258.61 52.31,256.67 52.55,254.81 52.79,253.04 53.02,251.34 53.26,249.69 53.50,248.09 53.73,246.53 53.97,245.01 54.21,243.51 54.44,242.03 54.68,240.58 54.92,239.17 55.16,237.81 55.39,236.50 55.63,235.23 55.87,234.00 56.10,232.80 56.34,231.63 56.58,230.49 56.82,229.38 57.05,228.28 57.29,227.21 57.53,226.16 57.76,225.13 58.00,224.10 58.24,223.10 58.47,222.10 58.71,221.11 58.95,220.14 59.19,219.17 59.42,218.20 59.66,217.25 59.90,216.29 60.13,215.34 60.37,214.39 60.61,213.45 60.84,212.50 61.08,211.57 61.32,210.66 61.56,209.76 61.79,208.88 62.03,208.02 62.27,207.18 62.50,206.35 62.74,205.53 62.98,204.73 63.22,203.94 63.45,203.16 63.69,202.40 63.93,201.65 64.16,200.91 64.40,200.18 64.64,199.47 64.87,198.76 65.11,198.07 65.35,197.38 65.59,196.71 65.82,196.04 66.06,195.38 66.30,194.74 66.53,194.10 66.77,193.47 67.01,192.84 67.24,192.23 67.48,191.62 67.72,191.02 67.96,190.43 68.19,189.84 68.43,189.27 68.67,188.70 68.90,188.13 69.14,187.57 69.38,187.02 69.62,186.47 69.85,185.94 70.09,185.40 70.33,184.87 70.56,184.35 70.80,183.83 71.04,183.32 71.27,182.82 71.51,182.32 71.75,181.82 71.99,181.33 72.22,180.85 72.46,180.37 72.70,179.89 72.93,179.42 73.17,178.95 73.41,178.49 73.64,178.03 73.88,177.58 74.12,177.13 74.36,176.69 74.59,176.25 74.83,175.81 75.07,175.38 75.30,174.96 75.54,174.53 75.78,174.11 76.01,173.70 76.25,173.29 76.49,172.88 76.73,172.47 76.96,172.07 77.20,171.68 77.44,171.28 77.67,170.90 77.91,170.51 78.15,170.13 78.39,169.75 78.62,169.37 78.86,169.00 79.10,168.63 79.33,168.26 79.57,167.90 79.81,167.53 80.04,167.17 80.28,166.81 80.52,166.46 80.76,166.10 80.99,165.75 81.23,165.40 81.47,165.05 81.70,164.71 81.94,164.36 82.18,164.03 82.41,163.69 82.65,163.35 82.89,163.02 83.13,162.70 83.36,162.37 83.60,162.05 83.84,161.73 84.07,161.41 84.31,161.10 84.55,160.79 84.79,160.48 85.02,160.18 85.26,159.87 85.50,159.58 85.73,159.28 85.97,158.99 86.21,158.70 86.44,158.42 86.68,158.13 86.92,157.85 87.16,157.58 87.39,157.31 87.63,157.04 87.87,156.77 88.10,156.51 88.34,156.24 88.58,155.98 88.81,155.73 89.05,155.47 89.29,155.22 89.53,154.97 89.76,154.72 90.00,154.48 90.24,154.23 90.47,153.99 90.71,153.76 90.95,153.52 91.19,153.29 91.42,153.06 91.66,152.84 91.90,152.61 92.13,152.39 92.37,152.18 92.61,151.96 92.84,151.75 93.08,151.54 93.32,151.33 93.56,151.13 93.79,150.93 94.03,150.73 94.27,150.54 94.50,150.34 94.74,150.15 94.98,149.97 95.21,149.78 95.45,149.60 95.69,149.42 95.93,149.25 96.16,149.07 96.40,148.90 97.35,148.25 98.30,147.63 99.24,147.04 100.19,146.49 101.14,145.97 102.09,145.48 103.04,145.02 103.99,144.59 104.93,144.19 105.88,143.81 106.83,143.46 107.78,143.13 108.73,142.81 109.67,142.52 110.62,142.25 111.57,141.99 112.52,141.76 113.47,141.54 114.41,141.34 115.36,141.15 116.31,140.97 117.26,140.80 118.21,140.65 119.16,140.50 120.10,140.36 121.05,140.24 122.00,140.12 122.95,140.00 123.90,139.90 124.84,139.80 125.79,139.71 126.74,139.62 127.69,139.55 128.64,139.47 129.58,139.40 130.53,139.34 131.48,139.28 132.43,139.22 133.38,139.17 134.33,139.12 135.27,139.07 136.22,139.03 137.17,138.99 138.12,138.95 139.07,138.91 140.01,138.88 140.96,138.85 141.91,138.82 142.86,138.80 143.81,138.77 144.76,138.75 145.70,138.73 146.65,138.71 147.60,138.69 148.55,138.67 149.50,138.65 150.44,138.64 151.39,138.62 152.34,138.61 153.29,138.60 154.24,138.58 155.18,138.57 156.13,138.56 157.08,138.55 158.03,138.55 158.98,138.54 159.93,138.53 160.87,138.52 161.82,138.52 162.77,138.51 163.72,138.50 164.67,138.50 165.61,138.49 166.56,138.49 167.51,138.48 168.46,138.48 169.41,138.47 170.35,138.47 171.30,138.47 172.25,138.46 173.20,138.46 174.15,138.46 175.10,138.46 176.04,138.45 176.99,138.45 177.94,138.45 178.89,138.45 179.84,138.45 180.78,138.44 181.73,138.44 182.68,138.44 183.63,138.44 184.58,138.44 185.53,138.44 186.47,138.44 187.42,138.43 188.37,138.43 189.32,138.43 190.27,138.43 191.21,138.43 192.16,138.43 193.11,138.43 194.06,138.43 195.01,138.43 195.95,138.43 196.90,138.43 197.85,138.43 198.80,138.43 199.75,138.43 200.70,138.42 201.64,138.42 202.59,138.42 203.54,138.42 204.49,138.42 205.44,138.42 206.38,138.42 207.33,138.42 208.28,138.42 209.23,138.42 210.18,138.42 211.13,138.42 212.07,138.42 213.02,138.42 213.97,138.42 214.92,138.42 215.87,138.42 216.81,138.42 217.76,138.42 218.71,138.42 219.66,138.42 220.61,138.42 221.55,138.42 222.50,138.42 223.45,138.42 224.40,138.42 225.35,138.42 226.30,138.42 227.24,138.42 228.19,138.42 229.14,138.42 230.09,138.42 231.04,138.42 231.98,138.42 232.93,138.42 233.88,138.42 234.83,138.42 235.78,138.42 236.72,138.42 237.67,138.42 238.62,138.42 239.57,138.42 240.52,138.42 241.47,138.42 242.41,138.42 243.36,138.42 244.31,138.42 245.26,138.42 246.21,138.42 247.15,138.42 248.10,138.42 249.05,138.42 250.00,138.42 250.95,138.42 251.90,138.42 252.84,138.42 253.79,138.42 254.74,138.42 255.69,138.42 256.64,138.42 257.58,138.42 258.53,138.42 259.48,138.42 260.43,138.42 261.38,138.42 262.32,138.42 263.27,138.42 264.22,138.42 265.17,138.42 266.12,138.42 267.07,138.42 268.01,138.42 268.96,138.42 269.91,138.42 270.86,138.42 271.81,138.42 272.75,138.42 273.70,138.42 274.65,138.42 275.60,138.42 276.55,138.42 277.49,138.42 278.44,138.42 279.39,138.42 280.34,138.42 281.29,138.42 282.24,138.42 283.18,138.42 284.13,138.42 285.08,138.42" stroke="#7221bc" stroke-width="1.6" fill="none"/>
<polygon points="62.4,205.3 64.3,207.2 62.4,209.2 60.4,207.2" stroke="#ff00ff" stroke-width="0.7" fill="#ff00ff"/><polygon points="70.4,183.9 72.4,185.9 70.4,187.8 68.5,185.9" stroke="#ff00ff" stroke-width="0.7" fill="#ff00ff"/><polygon points="76.6,172.7 78.5,174.6 76.6,176.6 74.6,174.6" stroke="#ff00ff" stroke-width="0.7" fill="#ff00ff"/><polygon points="81.8,165.3 83.7,167.2 81.8,169.2 79.8,167.2" stroke="#ff00ff" stroke-width="0.7" fill="#ff00ff"/><polygon points="86.4,159.8 88.3,161.8 86.4,163.7 84.4,161.8" stroke="#ff00ff" stroke-width="0.7" fill="#ff00ff"/><polygon points="90.5,155.9 92.5,157.8 90.5,159.8 88.6,157.8" stroke="#ff00ff" stroke-width="0.7" fill="#ff00ff"/><polygon points="97.9,150.6 99.8,152.6 97.9,154.5 95.9,152.6" stroke="#ff00ff" stroke-width="0.7" fill="#ff00ff"/><polygon points="101.2,149.0 103.1,150.9 101.2,152.9 99.2,150.9" stroke="#ff00ff" stroke-width="0.7" fill="#ff00ff"/><polygon points="104.3,147.7 106.3,149.6 104.3,151.6 102.4,149.6" stroke="#ff00ff" stroke-width="0.7" fill="#ff00ff"/><polygon points="107.3,146.7 109.3,148.7 107.3,150.6 105.4,148.7" stroke="#ff00ff" stroke-width="0.7" fill="#ff00ff"/><polygon points="110.2,145.9 112.1,147.9 110.2,149.8 108.2,147.9" stroke="#ff00ff" stroke-width="0.7" fill="#ff00ff"/><polygon points="112.9,145.3 114.9,147.3 112.9,149.2 111.0,147.3" stroke="#ff00ff" stroke-width="0.7" fill="#ff00ff"/><polygon points="115.6,144.8 117.5,146.8 115.6,148.7 113.6,146.8" stroke="#ff00ff" stroke-width="0.7" fill="#ff00ff"/><polygon points="120.6,144.1 122.5,146.1 120.6,148.0 118.6,146.1" stroke="#ff00ff" stroke-width="0.7" fill="#ff00ff"/><polygon points="123.0,143.9 124.9,145.8 123.0,147.8 121.0,145.8" stroke="#ff00ff" stroke-width="0.7" fill="#ff00ff"/><polygon points="125.3,143.6 127.2,145.6 125.3,147.5 123.3,145.6" stroke="#ff00ff" stroke-width="0.7" fill="#ff00ff"/><polygon points="127.5,143.5 129.5,145.4 127.5,147.4 125.6,145.4" stroke="#ff00ff" stroke-width="0.7" fill="#ff00ff"/><polygon points="129.7,143.3 131.7,145.3 129.7,147.2 127.8,145.3" stroke="#ff00ff" stroke-width="0.7" fill="#ff00ff"/><polygon points="131.9,143.2 133.8,145.1 131.9,147.1 129.9,145.1" stroke="#ff00ff" stroke-width="0.7" fill="#ff00ff"/><polygon points="134.0,143.1 135.9,145.0 134.0,147.0 132.0,145.0" stroke="#ff00ff" stroke-width="0.7" fill="#ff00ff"/><polygon points="138.0,142.9 140.0,144.9 138.0,146.8 136.1,144.9" stroke="#ff00ff" stroke-width="0.7" fill="#ff00ff"/><polygon points="140.0,142.8 141.9,144.8 140.0,146.7 138.0,144.8" stroke="#ff00ff" stroke-width="0.7" fill="#ff00ff"/><polygon points="141.9,142.8 143.8,144.7 141.9,146.7 139.9,144.7" stroke="#ff00ff" stroke-width="0.7" fill="#ff00ff"/><polygon points="143.8,142.7 145.7,144.7 143.8,146.6 141.8,144.7" stroke="#ff00ff" stroke-width="0.7" fill="#ff00ff"/><polygon points="147.5,142.6 149.5,144.6 147.5,146.5 145.6,144.6" stroke="#ff00ff" stroke-width="0.7" fill="#ff00ff"/><polygon points="151.6,142.6 153.6,144.5 151.6,146.5 149.7,144.5" stroke="#ff00ff" stroke-width="0.7" fill="#ff00ff"/><polygon points="156.1,142.5 158.0,144.5 156.1,146.4 154.1,144.5" stroke="#ff00ff" stroke-width="0.7" fill="#ff00ff"/><polygon points="159.4,142.5 161.3,144.4 159.4,146.4 157.4,144.4" stroke="#ff00ff" stroke-width="0.7" fill="#ff00ff"/><polygon points="167.1,142.4 169.1,144.4 167.1,146.3 165.2,144.4" stroke="#ff00ff" stroke-width="0.7" fill="#ff00ff"/><polygon points="178.8,142.4 180.7,144.4 178.8,146.3 176.8,144.4" stroke="#ff00ff" stroke-width="0.7" fill="#ff00ff"/><polygon points="198.2,142.4 200.1,144.3 198.2,146.3 196.2,144.3" stroke="#ff00ff" stroke-width="0.7" fill="#ff00ff"/>
<polyline points="49.23,293.65 49.47,289.65 49.70,285.93 49.94,282.43 50.18,279.15 50.42,276.05 50.65,273.11 50.89,270.32 51.13,267.66 51.36,265.19 51.60,262.88 51.84,260.71 52.07,258.66 52.31,256.73 52.55,254.88 52.79,253.11 53.02,251.41 53.26,249.77 53.50,248.18 53.73,246.63 53.97,245.11 54.21,243.62 54.44,242.15 54.68,240.70 54.92,239.30 55.16,237.95 55.39,236.64 55.63,235.38 55.87,234.16 56.10,232.97 56.34,231.81 56.58,230.68 56.82,229.57 57.05,228.49 57.29,227.43 57.53,226.38 57.76,225.36 58.00,224.35 58.24,223.35 58.47,222.37 58.71,221.39 58.95,220.42 59.19,219.47 59.42,218.51 59.66,217.57 59.90,216.63 60.13,215.69 60.37,214.76 60.61,213.83 60.84,212.90 61.08,211.98 61.32,211.08 61.56,210.20 61.79,209.34 62.03,208.50 62.27,207.67 62.50,206.85 62.74,206.06 62.98,205.27 63.22,204.50 63.45,203.74 63.69,203.00 63.93,202.27 64.16,201.55 64.40,200.84 64.64,200.14 64.87,199.46 65.11,198.78 65.35,198.12 65.59,197.46 65.82,196.82 66.06,196.18 66.30,195.55 66.53,194.94 66.77,194.33 67.01,193.73 67.24,193.13 67.48,192.55 67.72,191.97 67.96,191.40 68.19,190.84 68.43,190.29 68.67,189.74 68.90,189.20 69.14,188.66 69.38,188.13 69.62,187.61 69.85,187.10 70.09,186.59 70.33,186.09 70.56,185.59 70.80,185.10 71.04,184.61 71.27,184.13 71.51,183.66 71.75,183.19 71.99,182.73 72.22,182.27 72.46,181.82 72.70,181.37 72.93,180.92 73.17,180.48 73.41,180.05 73.64,179.62 73.88,179.20 74.12,178.78 74.36,178.36 74.59,177.95 74.83,177.54 75.07,177.14 75.30,176.74 75.54,176.35 75.78,175.96 76.01,175.57 76.25,175.19 76.49,174.81 76.73,174.44 76.96,174.07 77.20,173.70 77.44,173.34 77.67,172.98 77.91,172.63 78.15,172.28 78.39,171.93 78.62,171.59 78.86,171.24 79.10,170.91 79.33,170.57 79.57,170.23 79.81,169.90 80.04,169.57 80.28,169.25 80.52,168.92 80.76,168.60 80.99,168.28 81.23,167.96 81.47,167.65 81.70,167.34 81.94,167.03 82.18,166.72 82.41,166.42 82.65,166.12 82.89,165.82 83.13,165.53 83.36,165.24 83.60,164.95 83.84,164.66 84.07,164.38 84.31,164.10 84.55,163.82 84.79,163.55 85.02,163.28 85.26,163.01 85.50,162.74 85.73,162.48 85.97,162.22 86.21,161.97 86.44,161.72 86.68,161.47 86.92,161.22 87.16,160.98 87.39,160.74 87.63,160.50 87.87,160.27 88.10,160.03 88.34,159.80 88.58,159.58 88.81,159.35 89.05,159.13 89.29,158.91 89.53,158.69 89.76,158.47 90.00,158.26 90.24,158.05 90.47,157.84 90.71,157.64 90.95,157.43 91.19,157.23 91.42,157.03 91.66,156.84 91.90,156.64 92.13,156.45 92.37,156.27 92.61,156.08 92.84,155.90 93.08,155.72 93.32,155.54 93.56,155.36 93.79,155.19 94.03,155.02 94.27,154.85 94.50,154.69 94.74,154.52 94.98,154.36 95.21,154.20 95.45,154.05 95.69,153.90 95.93,153.74 96.16,153.60 96.40,153.45 97.35,152.89 98.30,152.36 99.24,151.86 100.19,151.39 101.14,150.95 102.09,150.53 103.04,150.14 103.99,149.77 104.93,149.43 105.88,149.11 106.83,148.80 107.78,148.52 108.73,148.25 109.67,148.00 110.62,147.77 111.57,147.55 112.52,147.34 113.47,147.15 114.41,146.98 115.36,146.81 116.31,146.66 117.26,146.51 118.21,146.38 119.16,146.25 120.10,146.13 121.05,146.01 122.00,145.91 122.95,145.81 123.90,145.72 124.84,145.63 125.79,145.55 126.74,145.47 127.69,145.40 128.64,145.33 129.58,145.27 130.53,145.21 131.48,145.15 132.43,145.10 133.38,145.05 134.33,145.00 135.27,144.96 136.22,144.92 137.17,144.88 138.12,144.85 139.07,144.81 140.01,144.78 140.96,144.75 141.91,144.73 142.86,144.70 143.81,144.68 144.76,144.65 145.70,144.63 146.65,144.61 147.60,144.59 148.55,144.58 149.50,144.56 150.44,144.55 151.39,144.53 152.34,144.52 153.29,144.51 154.24,144.49 155.18,144.48 156.13,144.47 157.08,144.46 158.03,144.45 158.98,144.44 159.93,144.44 160.87,144.43 161.82,144.42 162.77,144.42 163.72,144.41 164.67,144.40 165.61,144.40 166.56,144.39 167.51,144.39 168.46,144.38 169.41,144.38 170.35,144.38 171.30,144.37 172.25,144.37 173.20,144.37 174.15,144.36 175.10,144.36 176.04,144.36 176.99,144.35 177.94,144.35 178.89,144.35 179.84,144.35 180.78,144.35 181.73,144.34 182.68,144.34 183.63,144.34 184.58,144.34 185.53,144.34 186.47,144.34 187.42,144.34 188.37,144.33 189.32,144.33 190.27,144.33 191.21,144.33 192.16,144.33 193.11,144.33 194.06,144.33 195.01,144.33 195.95,144.33 196.90,144.33 197.85,144.33 198.80,144.33 199.75,144.32 200.70,144.32 201.64,144.32 202.59,144.32 203.54,144.32 204.49,144.32 205.44,144.32 206.38,144.32 207.33,144.32 208.28,144.32 209.23,144.32 210.18,144.32 211.13,144.32 212.07,144.32 213.02,144.32 213.97,144.32 214.92,144.32 215.87,144.32 216.81,144.32 217.76,144.32 218.71,144.32 219.66,144.32 220.61,144.32 221.55,144.32 222.50,144.32 223.45,144.32 224.40,144.32 225.35,144.32 226.30,144.32 227.24,144.32 228.19,144.32 229.14,144.32 230.09,144.32 231.04,144.32 231.98,144.32 232.93,144.32 233.88,144.32 234.83,144.32 235.78,144.32 236.72,144.32 237.67,144.32 238.62,144.32 239.57,144.32 240.52,144.32 241.47,144.32 242.41,144.32 243.36,144.32 244.31,144.32 245.26,144.32 246.21,144.32 247.15,144.32 248.10,144.32 249.05,144.32 250.00,144.32 250.95,144.32 251.90,144.32 252.84,144.32 253.79,144.32 254.74,144.32 255.69,144.32 256.64,144.32 257.58,144.32 258.53,144.32 259.48,144.32 260.43,144.32 261.38,144.32 262.32,144.32 263.27,144.32 264.22,144.32 265.17,144.32 266.12,144.32 267.07,144.32 268.01,144.32 268.96,144.32 269.91,144.32 270.86,144.32 271.81,144.32 272.75,144.32 273.70,144.32 274.65,144.32 275.60,144.32 276.55,144.32 277.49,144.32 278.44,144.32 279.39,144.32 280.34,144.32 281.29,144.32 282.24,144.32 283.18,144.32 284.13,144.32 285.08,144.32" stroke="#ff00ff" stroke-width="1.6" fill="none"/>
<polygon points="61.6,208.6 63.5,210.6 61.6,212.5 59.6,210.6" stroke="#008b00" stroke-width="0.7" fill="none"/><polygon points="69.2,187.5 71.2,189.4 69.2,191.4 67.3,189.4" stroke="#008b00" stroke-width="0.7" fill="none"/><polygon points="75.1,176.7 77.1,178.6 75.1,180.6 73.2,178.6" stroke="#008b00" stroke-width="0.7" fill="none"/><polygon points="80.1,169.7 82.1,171.7 80.1,173.6 78.2,171.7" stroke="#008b00" stroke-width="0.7" fill="none"/><polygon points="84.5,164.7 86.5,166.7 84.5,168.6 82.6,166.7" stroke="#008b00" stroke-width="0.7" fill="none"/><polygon points="88.5,161.0 90.4,163.0 88.5,164.9 86.5,163.0" stroke="#008b00" stroke-width="0.7" fill="none"/><polygon points="95.5,156.2 97.4,158.1 95.5,160.1 93.5,158.1" stroke="#008b00" stroke-width="0.7" fill="none"/><polygon points="98.7,154.6 100.6,156.5 98.7,158.5 96.7,156.5" stroke="#008b00" stroke-width="0.7" fill="none"/><polygon points="101.7,153.4 103.6,155.3 101.7,157.3 99.7,155.3" stroke="#008b00" stroke-width="0.7" fill="none"/><polygon points="104.6,152.4 106.5,154.4 104.6,156.3 102.6,154.4" stroke="#008b00" stroke-width="0.7" fill="none"/><polygon points="107.3,151.7 109.2,153.7 107.3,155.6 105.3,153.7" stroke="#008b00" stroke-width="0.7" fill="none"/><polygon points="109.9,151.1 111.9,153.1 109.9,155.0 108.0,153.1" stroke="#008b00" stroke-width="0.7" fill="none"/><polygon points="112.4,150.6 114.4,152.6 112.4,154.5 110.5,152.6" stroke="#008b00" stroke-width="0.7" fill="none"/><polygon points="117.2,149.9 119.2,151.9 117.2,153.8 115.3,151.9" stroke="#008b00" stroke-width="0.7" fill="none"/><polygon points="119.5,149.7 121.5,151.6 119.5,153.6 117.6,151.6" stroke="#008b00" stroke-width="0.7" fill="none"/><polygon points="121.7,149.5 123.7,151.4 121.7,153.4 119.8,151.4" stroke="#008b00" stroke-width="0.7" fill="none"/><polygon points="123.9,149.3 125.8,151.2 123.9,153.2 121.9,151.2" stroke="#008b00" stroke-width="0.7" fill="none"/><polygon points="126.0,149.1 128.0,151.1 126.0,153.0 124.1,151.1" stroke="#008b00" stroke-width="0.7" fill="none"/><polygon points="128.1,149.0 130.0,151.0 128.1,152.9 126.1,151.0" stroke="#008b00" stroke-width="0.7" fill="none"/><polygon points="130.1,148.9 132.0,150.9 130.1,152.8 128.1,150.9" stroke="#008b00" stroke-width="0.7" fill="none"/><polygon points="133.9,148.7 135.9,150.7 133.9,152.6 132.0,150.7" stroke="#008b00" stroke-width="0.7" fill="none"/><polygon points="135.8,148.7 137.7,150.6 135.8,152.6 133.8,150.6" stroke="#008b00" stroke-width="0.7" fill="none"/><polygon points="137.6,148.6 139.6,150.6 137.6,152.5 135.7,150.6" stroke="#008b00" stroke-width="0.7" fill="none"/><polygon points="139.4,148.6 141.4,150.5 139.4,152.5 137.5,150.5" stroke="#008b00" stroke-width="0.7" fill="none"/><polygon points="143.0,148.5 145.0,150.4 143.0,152.4 141.1,150.4" stroke="#008b00" stroke-width="0.7" fill="none"/><polygon points="146.9,148.4 148.9,150.3 146.9,152.3 145.0,150.3" stroke="#008b00" stroke-width="0.7" fill="none"/><polygon points="151.2,148.3 153.2,150.3 151.2,152.2 149.3,150.3" stroke="#008b00" stroke-width="0.7" fill="none"/><polygon points="154.4,148.3 156.3,150.2 154.4,152.2 152.4,150.2" stroke="#008b00" stroke-width="0.7" fill="none"/><polygon points="161.8,148.2 163.7,150.2 161.8,152.1 159.8,150.2" stroke="#008b00" stroke-width="0.7" fill="none"/><polygon points="172.9,148.2 174.9,150.1 172.9,152.1 171.0,150.1" stroke="#008b00" stroke-width="0.7" fill="none"/><polygon points="191.5,148.2 193.4,150.1 191.5,152.1 189.5,150.1" stroke="#008b00" stroke-width="0.7" fill="none"/>
<polyline points="49.23,293.66 49.47,289.67 49.70,285.94 49.94,282.45 50.18,279.17 50.42,276.07 50.65,273.14 50.89,270.35 51.13,267.70 51.36,265.23 51.60,262.92 51.84,260.76 52.07,258.71 52.31,256.78 52.55,254.94 52.79,253.18 53.02,251.48 53.26,249.85 53.50,248.26 53.73,246.71 53.97,245.20 54.21,243.71 54.44,242.25 54.68,240.81 54.92,239.41 55.16,238.07 55.39,236.77 55.63,235.52 55.87,234.30 56.10,233.12 56.34,231.97 56.58,230.84 56.82,229.75 57.05,228.67 57.29,227.62 57.53,226.58 57.76,225.57 58.00,224.57 58.24,223.58 58.47,222.60 58.71,221.64 58.95,220.68 59.19,219.74 59.42,218.80 59.66,217.86 59.90,216.93 60.13,216.01 60.37,215.09 60.61,214.17 60.84,213.25 61.08,212.35 61.32,211.47 61.56,210.61 61.79,209.76 62.03,208.93 62.27,208.12 62.50,207.32 62.74,206.54 62.98,205.77 63.22,205.01 63.45,204.27 63.69,203.55 63.93,202.83 64.16,202.13 64.40,201.44 64.64,200.76 64.87,200.09 65.11,199.44 65.35,198.79 65.59,198.15 65.82,197.53 66.06,196.91 66.30,196.30 66.53,195.71 66.77,195.12 67.01,194.54 67.24,193.96 67.48,193.40 67.72,192.84 67.96,192.30 68.19,191.76 68.43,191.22 68.67,190.70 68.90,190.18 69.14,189.67 69.38,189.16 69.62,188.66 69.85,188.17 70.09,187.68 70.33,187.21 70.56,186.73 70.80,186.26 71.04,185.80 71.27,185.35 71.51,184.90 71.75,184.45 71.99,184.01 72.22,183.58 72.46,183.15 72.70,182.73 72.93,182.31 73.17,181.90 73.41,181.49 73.64,181.09 73.88,180.69 74.12,180.29 74.36,179.90 74.59,179.52 74.83,179.14 75.07,178.76 75.30,178.39 75.54,178.03 75.78,177.66 76.01,177.30 76.25,176.95 76.49,176.60 76.73,176.25 76.96,175.91 77.20,175.57 77.44,175.24 77.67,174.91 77.91,174.58 78.15,174.26 78.39,173.94 78.62,173.62 78.86,173.31 79.10,173.00 79.33,172.69 79.57,172.39 79.81,172.09 80.04,171.79 80.28,171.49 80.52,171.19 80.76,170.90 80.99,170.61 81.23,170.32 81.47,170.04 81.70,169.76 81.94,169.48 82.18,169.21 82.41,168.93 82.65,168.66 82.89,168.40 83.13,168.13 83.36,167.87 83.60,167.61 83.84,167.36 84.07,167.10 84.31,166.86 84.55,166.61 84.79,166.37 85.02,166.13 85.26,165.89 85.50,165.65 85.73,165.42 85.97,165.20 86.21,164.97 86.44,164.75 86.68,164.53 86.92,164.31 87.16,164.10 87.39,163.89 87.63,163.68 87.87,163.48 88.10,163.27 88.34,163.07 88.58,162.87 88.81,162.68 89.05,162.48 89.29,162.29 89.53,162.10 89.76,161.92 90.00,161.73 90.24,161.55 90.47,161.37 90.71,161.19 90.95,161.02 91.19,160.84 91.42,160.67 91.66,160.51 91.90,160.34 92.13,160.18 92.37,160.02 92.61,159.86 92.84,159.70 93.08,159.55 93.32,159.39 93.56,159.25 93.79,159.10 94.03,158.95 94.27,158.81 94.50,158.67 94.74,158.53 94.98,158.40 95.21,158.26 95.45,158.13 95.69,158.00 95.93,157.87 96.16,157.75 96.40,157.63 97.35,157.15 98.30,156.71 99.24,156.29 100.19,155.90 101.14,155.53 102.09,155.19 103.04,154.87 103.99,154.56 104.93,154.28 105.88,154.02 106.83,153.77 107.78,153.53 108.73,153.31 109.67,153.11 110.62,152.92 111.57,152.74 112.52,152.57 113.47,152.42 114.41,152.27 115.36,152.14 116.31,152.01 117.26,151.90 118.21,151.78 119.16,151.68 120.10,151.58 121.05,151.49 122.00,151.40 122.95,151.32 123.90,151.25 124.84,151.18 125.79,151.11 126.74,151.05 127.69,150.99 128.64,150.93 129.58,150.88 130.53,150.83 131.48,150.79 132.43,150.75 133.38,150.71 134.33,150.67 135.27,150.63 136.22,150.60 137.17,150.57 138.12,150.54 139.07,150.51 140.01,150.49 140.96,150.46 141.91,150.44 142.86,150.42 143.81,150.40 144.76,150.38 145.70,150.36 146.65,150.35 147.60,150.33 148.55,150.32 149.50,150.31 150.44,150.29 151.39,150.28 152.34,150.27 153.29,150.26 154.24,150.25 155.18,150.24 156.13,150.23 157.08,150.22 158.03,150.22 158.98,150.21 159.93,150.20 160.87,150.20 161.82,150.19 162.77,150.18 163.72,150.18 164.67,150.17 165.61,150.17 166.56,150.17 167.51,150.16 168.46,150.16 169.41,150.15 170.35,150.15 171.30,150.15 172.25,150.15 173.20,150.14 174.15,150.14 175.10,150.14 176.04,150.14 176.99,150.13 177.94,150.13 178.89,150.13 179.84,150.13 180.78,150.13 181.73,150.12 182.68,150.12 183.63,150.12 184.58,150.12 185.53,150.12 186.47,150.12 187.42,150.12 188.37,150.12 189.32,150.11 190.27,150.11 191.21,150.11 192.16,150.11 193.11,150.11 194.06,150.11 195.01,150.11 195.95,150.11 196.90,150.11 197.85,150.11 198.80,150.11 199.75,150.11 200.70,150.11 201.64,150.11 202.59,150.11 203.54,150.11 204.49,150.11 205.44,150.11 206.38,150.10 207.33,150.10 208.28,150.10 209.23,150.10 210.18,150.10 211.13,150.10 212.07,150.10 213.02,150.10 213.97,150.10 214.92,150.10 215.87,150.10 216.81,150.10 217.76,150.10 218.71,150.10 219.66,150.10 220.61,150.10 221.55,150.10 222.50,150.10 223.45,150.10 224.40,150.10 225.35,150.10 226.30,150.10 227.24,150.10 228.19,150.10 229.14,150.10 230.09,150.10 231.04,150.10 231.98,150.10 232.93,150.10 233.88,150.10 234.83,150.10 235.78,150.10 236.72,150.10 237.67,150.10 238.62,150.10 239.57,150.10 240.52,150.10 241.47,150.10 242.41,150.10 243.36,150.10 244.31,150.10 245.26,150.10 246.21,150.10 247.15,150.10 248.10,150.10 249.05,150.10 250.00,150.10 250.95,150.10 251.90,150.10 252.84,150.10 253.79,150.10 254.74,150.10 255.69,150.10 256.64,150.10 257.58,150.10 258.53,150.10 259.48,150.10 260.43,150.10 261.38,150.10 262.32,150.10 263.27,150.10 264.22,150.10 265.17,150.10 266.12,150.10 267.07,150.10 268.01,150.10 268.96,150.10 269.91,150.10 270.86,150.10 271.81,150.10 272.75,150.10 273.70,150.10 274.65,150.10 275.60,150.10 276.55,150.10 277.49,150.10 278.44,150.10 279.39,150.10 280.34,150.10 281.29,150.10 282.24,150.10 283.18,150.10 284.13,150.10 285.08,150.10" stroke="#008b00" stroke-width="1.6" fill="none"/>
<polygon points="58.6,215.1 62.5,213.1 62.5,217.0" stroke="#ff0000" stroke-width="0.7" fill="#ff0000"/><polygon points="65.8,194.0 69.7,192.0 69.7,195.9" stroke="#ff0000" stroke-width="0.7" fill="#ff0000"/><polygon points="71.4,183.5 75.3,181.6 75.3,185.5" stroke="#ff0000" stroke-width="0.7" fill="#ff0000"/><polygon points="76.1,176.9 80.0,175.0 80.0,178.9" stroke="#ff0000" stroke-width="0.7" fill="#ff0000"/><polygon points="80.2,172.3 84.1,170.4 84.1,174.3" stroke="#ff0000" stroke-width="0.7" fill="#ff0000"/><polygon points="83.9,168.9 87.8,166.9 87.8,170.8" stroke="#ff0000" stroke-width="0.7" fill="#ff0000"/><polygon points="90.6,164.3 94.5,162.4 94.5,166.3" stroke="#ff0000" stroke-width="0.7" fill="#ff0000"/><polygon points="93.6,162.8 97.5,160.8 97.5,164.7" stroke="#ff0000" stroke-width="0.7" fill="#ff0000"/><polygon points="96.4,161.6 100.3,159.7 100.3,163.6" stroke="#ff0000" stroke-width="0.7" fill="#ff0000"/><polygon points="99.1,160.7 103.0,158.8 103.0,162.7" stroke="#ff0000" stroke-width="0.7" fill="#ff0000"/><polygon points="101.7,160.0 105.6,158.0 105.6,161.9" stroke="#ff0000" stroke-width="0.7" fill="#ff0000"/><polygon points="104.2,159.4 108.1,157.5 108.1,161.4" stroke="#ff0000" stroke-width="0.7" fill="#ff0000"/><polygon points="106.5,158.9 110.4,157.0 110.4,160.9" stroke="#ff0000" stroke-width="0.7" fill="#ff0000"/><polygon points="111.1,158.2 115.0,156.3 115.0,160.2" stroke="#ff0000" stroke-width="0.7" fill="#ff0000"/><polygon points="113.2,158.0 117.1,156.0 117.1,159.9" stroke="#ff0000" stroke-width="0.7" fill="#ff0000"/><polygon points="115.3,157.7 119.2,155.8 119.2,159.7" stroke="#ff0000" stroke-width="0.7" fill="#ff0000"/><polygon points="117.3,157.6 121.2,155.6 121.2,159.5" stroke="#ff0000" stroke-width="0.7" fill="#ff0000"/><polygon points="119.3,157.4 123.2,155.5 123.2,159.4" stroke="#ff0000" stroke-width="0.7" fill="#ff0000"/><polygon points="121.3,157.3 125.2,155.3 125.2,159.2" stroke="#ff0000" stroke-width="0.7" fill="#ff0000"/><polygon points="123.1,157.2 127.0,155.2 127.0,159.1" stroke="#ff0000" stroke-width="0.7" fill="#ff0000"/><polygon points="126.8,157.0 130.7,155.0 130.7,158.9" stroke="#ff0000" stroke-width="0.7" fill="#ff0000"/><polygon points="128.6,156.9 132.5,154.9 132.5,158.8" stroke="#ff0000" stroke-width="0.7" fill="#ff0000"/><polygon points="130.3,156.8 134.2,154.9 134.2,158.8" stroke="#ff0000" stroke-width="0.7" fill="#ff0000"/><polygon points="132.0,156.8 135.9,154.8 135.9,158.7" stroke="#ff0000" stroke-width="0.7" fill="#ff0000"/><polygon points="135.4,156.7 139.3,154.7 139.3,158.6" stroke="#ff0000" stroke-width="0.7" fill="#ff0000"/><polygon points="139.1,156.6 143.0,154.6 143.0,158.5" stroke="#ff0000" stroke-width="0.7" fill="#ff0000"/><polygon points="143.1,156.5 147.0,154.6 147.0,158.5" stroke="#ff0000" stroke-width="0.7" fill="#ff0000"/><polygon points="146.1,156.5 150.0,154.5 150.0,158.4" stroke="#ff0000" stroke-width="0.7" fill="#ff0000"/><polygon points="153.1,156.4 157.0,154.5 157.0,158.4" stroke="#ff0000" stroke-width="0.7" fill="#ff0000"/><polygon points="163.6,156.4 167.5,154.4 167.5,158.3" stroke="#ff0000" stroke-width="0.7" fill="#ff0000"/><polygon points="181.1,156.3 185.0,154.4 185.0,158.3" stroke="#ff0000" stroke-width="0.7" fill="#ff0000"/>
<polyline points="49.23,293.67 49.47,289.68 49.70,285.96 49.94,282.48 50.18,279.20 50.42,276.11 50.65,273.18 50.89,270.39 51.13,267.75 51.36,265.28 51.60,262.98 51.84,260.82 52.07,258.79 52.31,256.86 52.55,255.02 52.79,253.27 53.02,251.58 53.26,249.95 53.50,248.37 53.73,246.83 53.97,245.33 54.21,243.85 54.44,242.40 54.68,240.96 54.92,239.58 55.16,238.25 55.39,236.96 55.63,235.71 55.87,234.51 56.10,233.33 56.34,232.19 56.58,231.08 56.82,230.00 57.05,228.93 57.29,227.89 57.53,226.87 57.76,225.87 58.00,224.88 58.24,223.90 58.47,222.94 58.71,221.99 58.95,221.05 59.19,220.12 59.42,219.19 59.66,218.28 59.90,217.36 60.13,216.46 60.37,215.55 60.61,214.65 60.84,213.76 61.08,212.88 61.32,212.01 61.56,211.17 61.79,210.34 62.03,209.53 62.27,208.74 62.50,207.96 62.74,207.20 62.98,206.46 63.22,205.73 63.45,205.01 63.69,204.30 63.93,203.61 64.16,202.93 64.40,202.27 64.64,201.61 64.87,200.97 65.11,200.34 65.35,199.71 65.59,199.10 65.82,198.50 66.06,197.91 66.30,197.33 66.53,196.76 66.77,196.19 67.01,195.64 67.24,195.09 67.48,194.56 67.72,194.03 67.96,193.51 68.19,192.99 68.43,192.49 68.67,191.99 68.90,191.50 69.14,191.01 69.38,190.54 69.62,190.07 69.85,189.60 70.09,189.15 70.33,188.70 70.56,188.25 70.80,187.81 71.04,187.38 71.27,186.96 71.51,186.54 71.75,186.12 71.99,185.71 72.22,185.31 72.46,184.91 72.70,184.52 72.93,184.13 73.17,183.75 73.41,183.37 73.64,183.00 73.88,182.63 74.12,182.27 74.36,181.91 74.59,181.56 74.83,181.21 75.07,180.87 75.30,180.53 75.54,180.19 75.78,179.86 76.01,179.53 76.25,179.21 76.49,178.89 76.73,178.58 76.96,178.27 77.20,177.96 77.44,177.66 77.67,177.36 77.91,177.07 78.15,176.78 78.39,176.49 78.62,176.21 78.86,175.93 79.10,175.65 79.33,175.37 79.57,175.10 79.81,174.83 80.04,174.56 80.28,174.30 80.52,174.03 80.76,173.78 80.99,173.52 81.23,173.26 81.47,173.01 81.70,172.77 81.94,172.52 82.18,172.28 82.41,172.04 82.65,171.80 82.89,171.57 83.13,171.34 83.36,171.11 83.60,170.88 83.84,170.66 84.07,170.44 84.31,170.22 84.55,170.01 84.79,169.80 85.02,169.59 85.26,169.38 85.50,169.18 85.73,168.98 85.97,168.78 86.21,168.59 86.44,168.40 86.68,168.21 86.92,168.03 87.16,167.84 87.39,167.66 87.63,167.49 87.87,167.31 88.10,167.14 88.34,166.97 88.58,166.80 88.81,166.63 89.05,166.47 89.29,166.30 89.53,166.14 89.76,165.98 90.00,165.83 90.24,165.67 90.47,165.52 90.71,165.37 90.95,165.23 91.19,165.08 91.42,164.94 91.66,164.80 91.90,164.66 92.13,164.52 92.37,164.38 92.61,164.25 92.84,164.12 93.08,163.99 93.32,163.87 93.56,163.74 93.79,163.62 94.03,163.50 94.27,163.38 94.50,163.26 94.74,163.15 94.98,163.04 95.21,162.92 95.45,162.82 95.69,162.71 95.93,162.60 96.16,162.50 96.40,162.40 97.35,162.01 98.30,161.65 99.24,161.30 100.19,160.98 101.14,160.68 102.09,160.40 103.04,160.14 103.99,159.90 104.93,159.67 105.88,159.45 106.83,159.25 107.78,159.06 108.73,158.89 109.67,158.72 110.62,158.57 111.57,158.42 112.52,158.29 113.47,158.17 114.41,158.05 115.36,157.94 116.31,157.84 117.26,157.75 118.21,157.66 119.16,157.57 120.10,157.50 121.05,157.42 122.00,157.35 122.95,157.29 123.90,157.23 124.84,157.17 125.79,157.12 126.74,157.07 127.69,157.02 128.64,156.97 129.58,156.93 130.53,156.89 131.48,156.86 132.43,156.82 133.38,156.79 134.33,156.76 135.27,156.73 136.22,156.71 137.17,156.68 138.12,156.66 139.07,156.63 140.01,156.61 140.96,156.59 141.91,156.58 142.86,156.56 143.81,156.54 144.76,156.53 145.70,156.51 146.65,156.50 147.60,156.49 148.55,156.48 149.50,156.47 150.44,156.46 151.39,156.45 152.34,156.44 153.29,156.43 154.24,156.42 155.18,156.41 156.13,156.41 157.08,156.40 158.03,156.39 158.98,156.39 159.93,156.38 160.87,156.38 161.82,156.37 162.77,156.37 163.72,156.36 164.67,156.36 165.61,156.35 166.56,156.35 167.51,156.35 168.46,156.34 169.41,156.34 170.35,156.34 171.30,156.34 172.25,156.33 173.20,156.33 174.15,156.33 175.10,156.33 176.04,156.32 176.99,156.32 177.94,156.32 178.89,156.32 179.84,156.32 180.78,156.32 181.73,156.32 182.68,156.31 183.63,156.31 184.58,156.31 185.53,156.31 186.47,156.31 187.42,156.31 188.37,156.31 189.32,156.31 190.27,156.31 191.21,156.31 192.16,156.31 193.11,156.30 194.06,156.30 195.01,156.30 195.95,156.30 196.90,156.30 197.85,156.30 198.80,156.30 199.75,156.30 200.70,156.30 201.64,156.30 202.59,156.30 203.54,156.30 204.49,156.30 205.44,156.30 206.38,156.30 207.33,156.30 208.28,156.30 209.23,156.30 210.18,156.30 211.13,156.30 212.07,156.30 213.02,156.30 213.97,156.30 214.92,156.30 215.87,156.30 216.81,156.30 217.76,156.30 218.71,156.30 219.66,156.30 220.61,156.30 221.55,156.30 222.50,156.30 223.45,156.30 224.40,156.30 225.35,156.30 226.30,156.30 227.24,156.30 228.19,156.30 229.14,156.30 230.09,156.30 231.04,156.30 231.98,156.30 232.93,156.30 233.88,156.30 234.83,156.30 235.78,156.30 236.72,156.30 237.67,156.30 238.62,156.30 239.57,156.30 240.52,156.30 241.47,156.30 242.41,156.30 243.36,156.30 244.31,156.30 245.26,156.30 246.21,156.30 247.15,156.30 248.10,156.30 249.05,156.30 250.00,156.30 250.95,156.30 251.90,156.30 252.84,156.30 253.79,156.30 254.74,156.30 255.69,156.30 256.64,156.30 257.58,156.30 258.53,156.30 259.48,156.30 260.43,156.30 261.38,156.30 262.32,156.30 263.27,156.30 264.22,156.30 265.17,156.30 266.12,156.30 267.07,156.29 268.01,156.29 268.96,156.29 269.91,156.29 270.86,156.29 271.81,156.29 272.75,156.29 273.70,156.29 274.65,156.29 275.60,156.29 276.55,156.29 277.49,156.29 278.44,156.29 279.39,156.29 280.34,156.29 281.29,156.29 282.24,156.29 283.18,156.29 284.13,156.29 285.08,156.29" stroke="#ff0000" stroke-width="1.6" fill="none"/>
<polygon points="56.9,221.4 60.8,219.5 60.8,223.4" stroke="#0000ff" stroke-width="0.7" fill="none"/><polygon points="63.4,199.7 67.3,197.8 67.3,201.7" stroke="#0000ff" stroke-width="0.7" fill="none"/><polygon points="68.5,189.0 72.4,187.0 72.4,190.9" stroke="#0000ff" stroke-width="0.7" fill="none"/><polygon points="72.7,182.4 76.6,180.4 76.6,184.3" stroke="#0000ff" stroke-width="0.7" fill="none"/><polygon points="76.4,177.8 80.3,175.9 80.3,179.8" stroke="#0000ff" stroke-width="0.7" fill="none"/><polygon points="79.8,174.5 83.7,172.6 83.7,176.5" stroke="#0000ff" stroke-width="0.7" fill="none"/><polygon points="85.8,170.1 89.7,168.2 89.7,172.1" stroke="#0000ff" stroke-width="0.7" fill="none"/><polygon points="88.5,168.6 92.4,166.7 92.4,170.6" stroke="#0000ff" stroke-width="0.7" fill="none"/><polygon points="91.1,167.5 95.0,165.5 95.0,169.4" stroke="#0000ff" stroke-width="0.7" fill="none"/><polygon points="93.6,166.6 97.5,164.6 97.5,168.5" stroke="#0000ff" stroke-width="0.7" fill="none"/><polygon points="95.9,165.9 99.8,163.9 99.8,167.8" stroke="#0000ff" stroke-width="0.7" fill="none"/><polygon points="98.1,165.3 102.0,163.4 102.0,167.3" stroke="#0000ff" stroke-width="0.7" fill="none"/><polygon points="100.3,164.9 104.2,162.9 104.2,166.8" stroke="#0000ff" stroke-width="0.7" fill="none"/><polygon points="104.4,164.2 108.3,162.3 108.3,166.2" stroke="#0000ff" stroke-width="0.7" fill="none"/><polygon points="106.3,164.0 110.2,162.0 110.2,165.9" stroke="#0000ff" stroke-width="0.7" fill="none"/><polygon points="108.2,163.8 112.1,161.8 112.1,165.7" stroke="#0000ff" stroke-width="0.7" fill="none"/><polygon points="110.1,163.6 114.0,161.6 114.0,165.5" stroke="#0000ff" stroke-width="0.7" fill="none"/><polygon points="111.8,163.4 115.7,161.5 115.7,165.4" stroke="#0000ff" stroke-width="0.7" fill="none"/><polygon points="113.6,163.3 117.5,161.4 117.5,165.3" stroke="#0000ff" stroke-width="0.7" fill="none"/><polygon points="115.3,163.2 119.2,161.3 119.2,165.2" stroke="#0000ff" stroke-width="0.7" fill="none"/><polygon points="118.6,163.1 122.5,161.1 122.5,165.0" stroke="#0000ff" stroke-width="0.7" fill="none"/><polygon points="120.2,163.0 124.1,161.0 124.1,164.9" stroke="#0000ff" stroke-width="0.7" fill="none"/><polygon points="121.8,162.9 125.7,161.0 125.7,164.9" stroke="#0000ff" stroke-width="0.7" fill="none"/><polygon points="123.3,162.9 127.2,160.9 127.2,164.8" stroke="#0000ff" stroke-width="0.7" fill="none"/><polygon points="126.4,162.8 130.3,160.8 130.3,164.7" stroke="#0000ff" stroke-width="0.7" fill="none"/><polygon points="129.7,162.7 133.6,160.8 133.6,164.7" stroke="#0000ff" stroke-width="0.7" fill="none"/><polygon points="133.3,162.7 137.2,160.7 137.2,164.6" stroke="#0000ff" stroke-width="0.7" fill="none"/><polygon points="136.0,162.6 139.9,160.7 139.9,164.6" stroke="#0000ff" stroke-width="0.7" fill="none"/><polygon points="142.4,162.6 146.3,160.6 146.3,164.5" stroke="#0000ff" stroke-width="0.7" fill="none"/><polygon points="151.9,162.5 155.8,160.6 155.8,164.5" stroke="#0000ff" stroke-width="0.7" fill="none"/><polygon points="167.7,162.5 171.6,160.5 171.6,164.4" stroke="#0000ff" stroke-width="0.7" fill="none"/>
<polyline points="49.23,293.66 49.47,289.67 49.70,285.94 49.94,282.45 50.18,279.17 50.42,276.08 50.65,273.14 50.89,270.36 51.13,267.71 51.36,265.24 51.60,262.94 51.84,260.78 52.07,258.74 52.31,256.81 52.55,254.97 52.79,253.21 53.02,251.52 53.26,249.89 53.50,248.31 53.73,246.77 53.97,245.26 54.21,243.78 54.44,242.33 54.68,240.89 54.92,239.51 55.16,238.17 55.39,236.88 55.63,235.64 55.87,234.43 56.10,233.25 56.34,232.11 56.58,231.00 56.82,229.91 57.05,228.85 57.29,227.81 57.53,226.79 57.76,225.79 58.00,224.80 58.24,223.82 58.47,222.86 58.71,221.91 58.95,220.97 59.19,220.04 59.42,219.12 59.66,218.21 59.90,217.30 60.13,216.39 60.37,215.49 60.61,214.60 60.84,213.71 61.08,212.83 61.32,211.97 61.56,211.13 61.79,210.31 62.03,209.51 62.27,208.72 62.50,207.95 62.74,207.20 62.98,206.46 63.22,205.74 63.45,205.03 63.69,204.33 63.93,203.65 64.16,202.98 64.40,202.33 64.64,201.68 64.87,201.05 65.11,200.43 65.35,199.82 65.59,199.22 65.82,198.63 66.06,198.05 66.30,197.49 66.53,196.93 66.77,196.38 67.01,195.84 67.24,195.31 67.48,194.79 67.72,194.28 67.96,193.77 68.19,193.27 68.43,192.79 68.67,192.31 68.90,191.83 69.14,191.37 69.38,190.91 69.62,190.46 69.85,190.02 70.09,189.58 70.33,189.15 70.56,188.73 70.80,188.31 71.04,187.90 71.27,187.50 71.51,187.10 71.75,186.71 71.99,186.32 72.22,185.94 72.46,185.57 72.70,185.20 72.93,184.84 73.17,184.48 73.41,184.13 73.64,183.78 73.88,183.44 74.12,183.11 74.36,182.77 74.59,182.45 74.83,182.13 75.07,181.81 75.30,181.50 75.54,181.19 75.78,180.89 76.01,180.59 76.25,180.30 76.49,180.01 76.73,179.72 76.96,179.44 77.20,179.17 77.44,178.90 77.67,178.63 77.91,178.36 78.15,178.11 78.39,177.85 78.62,177.60 78.86,177.35 79.10,177.10 79.33,176.86 79.57,176.62 79.81,176.38 80.04,176.15 80.28,175.92 80.52,175.69 80.76,175.46 80.99,175.24 81.23,175.02 81.47,174.80 81.70,174.59 81.94,174.38 82.18,174.17 82.41,173.97 82.65,173.76 82.89,173.56 83.13,173.37 83.36,173.18 83.60,172.99 83.84,172.80 84.07,172.61 84.31,172.43 84.55,172.26 84.79,172.08 85.02,171.91 85.26,171.74 85.50,171.57 85.73,171.41 85.97,171.25 86.21,171.09 86.44,170.93 86.68,170.78 86.92,170.63 87.16,170.48 87.39,170.34 87.63,170.19 87.87,170.05 88.10,169.92 88.34,169.78 88.58,169.65 88.81,169.51 89.05,169.38 89.29,169.26 89.53,169.13 89.76,169.01 90.00,168.88 90.24,168.76 90.47,168.65 90.71,168.53 90.95,168.42 91.19,168.31 91.42,168.20 91.66,168.09 91.90,167.98 92.13,167.88 92.37,167.78 92.61,167.68 92.84,167.58 93.08,167.48 93.32,167.39 93.56,167.29 93.79,167.20 94.03,167.11 94.27,167.02 94.50,166.94 94.74,166.85 94.98,166.77 95.21,166.69 95.45,166.61 95.69,166.53 95.93,166.46 96.16,166.38 96.40,166.31 97.35,166.03 98.30,165.77 99.24,165.53 100.19,165.31 101.14,165.10 102.09,164.91 103.04,164.73 103.99,164.57 104.93,164.42 105.88,164.28 106.83,164.15 107.78,164.03 108.73,163.91 109.67,163.81 110.62,163.71 111.57,163.63 112.52,163.54 113.47,163.47 114.41,163.40 115.36,163.33 116.31,163.27 117.26,163.22 118.21,163.16 119.16,163.12 120.10,163.07 121.05,163.03 122.00,162.99 122.95,162.95 123.90,162.92 124.84,162.89 125.79,162.86 126.74,162.83 127.69,162.80 128.64,162.78 129.58,162.76 130.53,162.74 131.48,162.72 132.43,162.70 133.38,162.68 134.33,162.67 135.27,162.65 136.22,162.64 137.17,162.63 138.12,162.61 139.07,162.60 140.01,162.59 140.96,162.58 141.91,162.57 142.86,162.56 143.81,162.56 144.76,162.55 145.70,162.54 146.65,162.54 147.60,162.53 148.55,162.53 149.50,162.52 150.44,162.52 151.39,162.51 152.34,162.51 153.29,162.50 154.24,162.50 155.18,162.50 156.13,162.49 157.08,162.49 158.03,162.49 158.98,162.48 159.93,162.48 160.87,162.48 161.82,162.48 162.77,162.48 163.72,162.47 164.67,162.47 165.61,162.47 166.56,162.47 167.51,162.47 168.46,162.47 169.41,162.46 170.35,162.46 171.30,162.46 172.25,162.46 173.20,162.46 174.15,162.46 175.10,162.46 176.04,162.46 176.99,162.46 177.94,162.46 178.89,162.46 179.84,162.46 180.78,162.45 181.73,162.45 182.68,162.45 183.63,162.45 184.58,162.45 185.53,162.45 186.47,162.45 187.42,162.45 188.37,162.45 189.32,162.45 190.27,162.45 191.21,162.45 192.16,162.45 193.11,162.45 194.06,162.45 195.01,162.45 195.95,162.45 196.90,162.45 197.85,162.45 198.80,162.45 199.75,162.45 200.70,162.45 201.64,162.45 202.59,162.45 203.54,162.45 204.49,162.45 205.44,162.45 206.38,162.45 207.33,162.45 208.28,162.45 209.23,162.45 210.18,162.45 211.13,162.45 212.07,162.45 213.02,162.45 213.97,162.45 214.92,162.45 215.87,162.45 216.81,162.45 217.76,162.45 218.71,162.45 219.66,162.45 220.61,162.45 221.55,162.45 222.50,162.45 223.45,162.45 224.40,162.45 225.35,162.45 226.30,162.45 227.24,162.45 228.19,162.45 229.14,162.45 230.09,162.45 231.04,162.45 231.98,162.45 232.93,162.45 233.88,162.45 234.83,162.45 235.78,162.45 236.72,162.45 237.67,162.45 238.62,162.45 239.57,162.45 240.52,162.45 241.47,162.45 242.41,162.45 243.36,162.45 244.31,162.45 245.26,162.45 246.21,162.45 247.15,162.45 248.10,162.45 249.05,162.45 250.00,162.45 250.95,162.45 251.90,162.45 252.84,162.45 253.79,162.45 254.74,162.45 255.69,162.45 256.64,162.45 257.58,162.45 258.53,162.45 259.48,162.45 260.43,162.45 261.38,162.45 262.32,162.45 263.27,162.45 264.22,162.45 265.17,162.45 266.12,162.45 267.07,162.45 268.01,162.45 268.96,162.45 269.91,162.45 270.86,162.45 271.81,162.45 272.75,162.45 273.70,162.45 274.65,162.45 275.60,162.45 276.55,162.45 277.49,162.45 278.44,162.45 279.39,162.45 280.34,162.45 281.29,162.45 282.24,162.45 283.18,162.45 284.13,162.45 285.08,162.45" stroke="#0000ff" stroke-width="1.6" fill="none"/>
<polygon points="59.3,227.7 55.4,225.8 55.4,229.7" stroke="#9400d3" stroke-width="0.7" fill="#9400d3"/><polygon points="65.2,206.1 61.3,204.1 61.3,208.0" stroke="#9400d3" stroke-width="0.7" fill="#9400d3"/><polygon points="69.8,195.0 65.9,193.1 65.9,197.0" stroke="#9400d3" stroke-width="0.7" fill="#9400d3"/><polygon points="73.7,188.3 69.8,186.3 69.8,190.2" stroke="#9400d3" stroke-width="0.7" fill="#9400d3"/><polygon points="77.0,183.6 73.1,181.7 73.1,185.6" stroke="#9400d3" stroke-width="0.7" fill="#9400d3"/><polygon points="80.1,180.3 76.2,178.4 76.2,182.3" stroke="#9400d3" stroke-width="0.7" fill="#9400d3"/><polygon points="85.5,175.8 81.6,173.8 81.6,177.7" stroke="#9400d3" stroke-width="0.7" fill="#9400d3"/><polygon points="88.0,174.2 84.1,172.3 84.1,176.2" stroke="#9400d3" stroke-width="0.7" fill="#9400d3"/><polygon points="90.3,173.0 86.4,171.0 86.4,174.9" stroke="#9400d3" stroke-width="0.7" fill="#9400d3"/><polygon points="92.6,172.0 88.7,170.0 88.7,173.9" stroke="#9400d3" stroke-width="0.7" fill="#9400d3"/><polygon points="94.7,171.2 90.8,169.2 90.8,173.1" stroke="#9400d3" stroke-width="0.7" fill="#9400d3"/><polygon points="96.7,170.5 92.8,168.6 92.8,172.5" stroke="#9400d3" stroke-width="0.7" fill="#9400d3"/><polygon points="98.7,170.0 94.8,168.0 94.8,171.9" stroke="#9400d3" stroke-width="0.7" fill="#9400d3"/><polygon points="102.4,169.2 98.5,167.3 98.5,171.2" stroke="#9400d3" stroke-width="0.7" fill="#9400d3"/><polygon points="104.1,168.9 100.2,167.0 100.2,170.9" stroke="#9400d3" stroke-width="0.7" fill="#9400d3"/><polygon points="105.8,168.7 101.9,166.7 101.9,170.6" stroke="#9400d3" stroke-width="0.7" fill="#9400d3"/><polygon points="107.5,168.4 103.6,166.5 103.6,170.4" stroke="#9400d3" stroke-width="0.7" fill="#9400d3"/><polygon points="109.1,168.3 105.2,166.3 105.2,170.2" stroke="#9400d3" stroke-width="0.7" fill="#9400d3"/><polygon points="110.7,168.1 106.8,166.1 106.8,170.0" stroke="#9400d3" stroke-width="0.7" fill="#9400d3"/><polygon points="112.3,168.0 108.4,166.0 108.4,169.9" stroke="#9400d3" stroke-width="0.7" fill="#9400d3"/><polygon points="115.3,167.7 111.4,165.8 111.4,169.7" stroke="#9400d3" stroke-width="0.7" fill="#9400d3"/><polygon points="116.7,167.7 112.8,165.7 112.8,169.6" stroke="#9400d3" stroke-width="0.7" fill="#9400d3"/><polygon points="118.1,167.6 114.2,165.6 114.2,169.5" stroke="#9400d3" stroke-width="0.7" fill="#9400d3"/><polygon points="119.5,167.5 115.6,165.6 115.6,169.5" stroke="#9400d3" stroke-width="0.7" fill="#9400d3"/><polygon points="122.3,167.4 118.4,165.5 118.4,169.4" stroke="#9400d3" stroke-width="0.7" fill="#9400d3"/><polygon points="125.3,167.3 121.4,165.4 121.4,169.3" stroke="#9400d3" stroke-width="0.7" fill="#9400d3"/><polygon points="128.6,167.2 124.7,165.3 124.7,169.2" stroke="#9400d3" stroke-width="0.7" fill="#9400d3"/><polygon points="131.1,167.2 127.2,165.2 127.2,169.1" stroke="#9400d3" stroke-width="0.7" fill="#9400d3"/><polygon points="136.8,167.1 132.9,165.1 132.9,169.0" stroke="#9400d3" stroke-width="0.7" fill="#9400d3"/><polygon points="145.4,167.0 141.5,165.1 141.5,169.0" stroke="#9400d3" stroke-width="0.7" fill="#9400d3"/><polygon points="159.8,166.9 155.9,165.0 155.9,168.9" stroke="#9400d3" stroke-width="0.7" fill="#9400d3"/>
<polyline points="49.23,293.67 49.47,289.68 49.70,285.96 49.94,282.47 50.18,279.19 50.42,276.10 50.65,273.17 50.89,270.38 51.13,267.74 51.36,265.27 51.60,262.98 51.84,260.82 52.07,258.79 52.31,256.86 52.55,255.03 52.79,253.27 53.02,251.59 53.26,249.96 53.50,248.39 53.73,246.85 53.97,245.35 54.21,243.88 54.44,242.43 54.68,241.00 54.92,239.62 55.16,238.30 55.39,237.02 55.63,235.78 55.87,234.58 56.10,233.41 56.34,232.28 56.58,231.18 56.82,230.10 57.05,229.05 57.29,228.02 57.53,227.01 57.76,226.01 58.00,225.04 58.24,224.07 58.47,223.12 58.71,222.19 58.95,221.26 59.19,220.34 59.42,219.44 59.66,218.53 59.90,217.64 60.13,216.75 60.37,215.87 60.61,214.99 60.84,214.11 61.08,213.25 61.32,212.41 61.56,211.59 61.79,210.79 62.03,210.01 62.27,209.24 62.50,208.49 62.74,207.76 62.98,207.04 63.22,206.34 63.45,205.65 63.69,204.97 63.93,204.31 64.16,203.66 64.40,203.03 64.64,202.41 64.87,201.80 65.11,201.20 65.35,200.61 65.59,200.04 65.82,199.47 66.06,198.92 66.30,198.37 66.53,197.84 66.77,197.31 67.01,196.80 67.24,196.29 67.48,195.80 67.72,195.31 67.96,194.83 68.19,194.36 68.43,193.90 68.67,193.44 68.90,192.99 69.14,192.55 69.38,192.12 69.62,191.70 69.85,191.28 70.09,190.87 70.33,190.47 70.56,190.07 70.80,189.68 71.04,189.30 71.27,188.92 71.51,188.55 71.75,188.19 71.99,187.83 72.22,187.47 72.46,187.13 72.70,186.79 72.93,186.45 73.17,186.12 73.41,185.80 73.64,185.48 73.88,185.16 74.12,184.85 74.36,184.55 74.59,184.25 74.83,183.96 75.07,183.67 75.30,183.38 75.54,183.10 75.78,182.83 76.01,182.56 76.25,182.29 76.49,182.03 76.73,181.77 76.96,181.52 77.20,181.27 77.44,181.02 77.67,180.78 77.91,180.54 78.15,180.31 78.39,180.08 78.62,179.85 78.86,179.63 79.10,179.41 79.33,179.19 79.57,178.98 79.81,178.77 80.04,178.56 80.28,178.35 80.52,178.15 80.76,177.95 80.99,177.75 81.23,177.56 81.47,177.37 81.70,177.18 81.94,176.99 82.18,176.81 82.41,176.63 82.65,176.45 82.89,176.28 83.13,176.11 83.36,175.94 83.60,175.77 83.84,175.61 84.07,175.45 84.31,175.29 84.55,175.14 84.79,174.99 85.02,174.84 85.26,174.69 85.50,174.54 85.73,174.40 85.97,174.26 86.21,174.13 86.44,173.99 86.68,173.86 86.92,173.73 87.16,173.60 87.39,173.48 87.63,173.36 87.87,173.24 88.10,173.12 88.34,173.00 88.58,172.89 88.81,172.78 89.05,172.67 89.29,172.56 89.53,172.45 89.76,172.34 90.00,172.24 90.24,172.14 90.47,172.04 90.71,171.94 90.95,171.84 91.19,171.75 91.42,171.66 91.66,171.57 91.90,171.48 92.13,171.39 92.37,171.30 92.61,171.22 92.84,171.14 93.08,171.05 93.32,170.97 93.56,170.90 93.79,170.82 94.03,170.75 94.27,170.67 94.50,170.60 94.74,170.53 94.98,170.46 95.21,170.39 95.45,170.33 95.69,170.26 95.93,170.20 96.16,170.14 96.40,170.07 97.35,169.84 98.30,169.63 99.24,169.43 100.19,169.24 101.14,169.07 102.09,168.92 103.04,168.77 103.99,168.64 104.93,168.51 105.88,168.40 106.83,168.29 107.78,168.19 108.73,168.10 109.67,168.02 110.62,167.94 111.57,167.87 112.52,167.80 113.47,167.74 114.41,167.68 115.36,167.63 116.31,167.58 117.26,167.53 118.21,167.49 119.16,167.45 120.10,167.42 121.05,167.38 122.00,167.35 122.95,167.32 123.90,167.29 124.84,167.27 125.79,167.24 126.74,167.22 127.69,167.20 128.64,167.18 129.58,167.16 130.53,167.15 131.48,167.13 132.43,167.12 133.38,167.10 134.33,167.09 135.27,167.08 136.22,167.07 137.17,167.06 138.12,167.05 139.07,167.04 140.01,167.03 140.96,167.02 141.91,167.01 142.86,167.01 143.81,167.00 144.76,167.00 145.70,166.99 146.65,166.98 147.60,166.98 148.55,166.98 149.50,166.97 150.44,166.97 151.39,166.96 152.34,166.96 153.29,166.96 154.24,166.95 155.18,166.95 156.13,166.95 157.08,166.95 158.03,166.94 158.98,166.94 159.93,166.94 160.87,166.94 161.82,166.94 162.77,166.94 163.72,166.93 164.67,166.93 165.61,166.93 166.56,166.93 167.51,166.93 168.46,166.93 169.41,166.93 170.35,166.93 171.30,166.92 172.25,166.92 173.20,166.92 174.15,166.92 175.10,166.92 176.04,166.92 176.99,166.92 177.94,166.92 178.89,166.92 179.84,166.92 180.78,166.92 181.73,166.92 182.68,166.92 183.63,166.92 184.58,166.92 185.53,166.92 186.47,166.92 187.42,166.92 188.37,166.92 189.32,166.92 190.27,166.92 191.21,166.92 192.16,166.92 193.11,166.92 194.06,166.92 195.01,166.91 195.95,166.91 196.90,166.91 197.85,166.91 198.80,166.91 199.75,166.91 200.70,166.91 201.64,166.91 202.59,166.91 203.54,166.91 204.49,166.91 205.44,166.91 206.38,166.91 207.33,166.91 208.28,166.91 209.23,166.91 210.18,166.91 211.13,166.91 212.07,166.91 213.02,166.91 213.97,166.91 214.92,166.91 215.87,166.91 216.81,166.91 217.76,166.91 218.71,166.91 219.66,166.91 220.61,166.91 221.55,166.91 222.50,166.91 223.45,166.91 224.40,166.91 225.35,166.91 226.30,166.91 227.24,166.91 228.19,166.91 229.14,166.91 230.09,166.91 231.04,166.91 231.98,166.91 232.93,166.91 233.88,166.91 234.83,166.91 235.78,166.91 236.72,166.91 237.67,166.91 238.62,166.91 239.57,166.91 240.52,166.91 241.47,166.91 242.41,166.91 243.36,166.91 244.31,166.91 245.26,166.91 246.21,166.91 247.15,166.91 248.10,166.91 249.05,166.91 250.00,166.91 250.95,166.91 251.90,166.91 252.84,166.91 253.79,166.91 254.74,166.91 255.69,166.91 256.64,166.91 257.58,166.91 258.53,166.91 259.48,166.91 260.43,166.91 261.38,166.91 262.32,166.91 263.27,166.91 264.22,166.91 265.17,166.91 266.12,166.91 267.07,166.91 268.01,166.91 268.96,166.91 269.91,166.91 270.86,166.91 271.81,166.91 272.75,166.91 273.70,166.91 274.65,166.91 275.60,166.91 276.55,166.91 277.49,166.91 278.44,166.91 279.39,166.91 280.34,166.91 281.29,166.91 282.24,166.91 283.18,166.91 284.13,166.91 285.08,166.91" stroke="#9400d3" stroke-width="1.6" fill="none"/>
<polygon points="58.0,233.9 54.1,231.9 54.1,235.8" stroke="#ff00ff" stroke-width="0.7" fill="none"/><polygon points="63.4,212.5 59.5,210.5 59.5,214.4" stroke="#ff00ff" stroke-width="0.7" fill="none"/><polygon points="67.6,200.9 63.7,199.0 63.7,202.9" stroke="#ff00ff" stroke-width="0.7" fill="none"/><polygon points="71.0,194.0 67.1,192.0 67.1,195.9" stroke="#ff00ff" stroke-width="0.7" fill="none"/><polygon points="74.1,189.2 70.2,187.3 70.2,191.2" stroke="#ff00ff" stroke-width="0.7" fill="none"/><polygon points="76.9,185.8 73.0,183.9 73.0,187.8" stroke="#ff00ff" stroke-width="0.7" fill="none"/><polygon points="81.9,181.2 78.0,179.3 78.0,183.2" stroke="#ff00ff" stroke-width="0.7" fill="none"/><polygon points="84.1,179.6 80.2,177.7 80.2,181.6" stroke="#ff00ff" stroke-width="0.7" fill="none"/><polygon points="86.2,178.3 82.3,176.3 82.3,180.2" stroke="#ff00ff" stroke-width="0.7" fill="none"/><polygon points="88.2,177.2 84.3,175.3 84.3,179.2" stroke="#ff00ff" stroke-width="0.7" fill="none"/><polygon points="90.1,176.3 86.2,174.4 86.2,178.3" stroke="#ff00ff" stroke-width="0.7" fill="none"/><polygon points="92.0,175.6 88.1,173.7 88.1,177.6" stroke="#ff00ff" stroke-width="0.7" fill="none"/><polygon points="93.8,175.0 89.9,173.1 89.9,177.0" stroke="#ff00ff" stroke-width="0.7" fill="none"/><polygon points="97.1,174.1 93.2,172.1 93.2,176.0" stroke="#ff00ff" stroke-width="0.7" fill="none"/><polygon points="98.7,173.7 94.8,171.8 94.8,175.7" stroke="#ff00ff" stroke-width="0.7" fill="none"/><polygon points="100.3,173.4 96.4,171.5 96.4,175.4" stroke="#ff00ff" stroke-width="0.7" fill="none"/><polygon points="101.8,173.2 97.9,171.2 97.9,175.1" stroke="#ff00ff" stroke-width="0.7" fill="none"/><polygon points="103.3,173.0 99.4,171.0 99.4,174.9" stroke="#ff00ff" stroke-width="0.7" fill="none"/><polygon points="104.7,172.8 100.8,170.8 100.8,174.7" stroke="#ff00ff" stroke-width="0.7" fill="none"/><polygon points="106.2,172.6 102.3,170.7 102.3,174.6" stroke="#ff00ff" stroke-width="0.7" fill="none"/><polygon points="108.9,172.3 105.0,170.4 105.0,174.3" stroke="#ff00ff" stroke-width="0.7" fill="none"/><polygon points="110.2,172.2 106.3,170.3 106.3,174.2" stroke="#ff00ff" stroke-width="0.7" fill="none"/><polygon points="111.5,172.1 107.6,170.2 107.6,174.1" stroke="#ff00ff" stroke-width="0.7" fill="none"/><polygon points="112.7,172.0 108.8,170.1 108.8,174.0" stroke="#ff00ff" stroke-width="0.7" fill="none"/><polygon points="115.3,171.9 111.4,170.0 111.4,173.9" stroke="#ff00ff" stroke-width="0.7" fill="none"/><polygon points="118.0,171.8 114.1,169.8 114.1,173.7" stroke="#ff00ff" stroke-width="0.7" fill="none"/><polygon points="121.0,171.7 117.1,169.7 117.1,173.6" stroke="#ff00ff" stroke-width="0.7" fill="none"/><polygon points="123.2,171.6 119.3,169.6 119.3,173.5" stroke="#ff00ff" stroke-width="0.7" fill="none"/><polygon points="128.5,171.5 124.6,169.5 124.6,173.4" stroke="#ff00ff" stroke-width="0.7" fill="none"/><polygon points="136.3,171.4 132.4,169.4 132.4,173.3" stroke="#ff00ff" stroke-width="0.7" fill="none"/><polygon points="149.3,171.3 145.4,169.3 145.4,173.2" stroke="#ff00ff" stroke-width="0.7" fill="none"/>
<polyline points="49.23,293.68 49.47,289.69 49.70,285.97 49.94,282.49 50.18,279.21 50.42,276.12 50.65,273.19 50.89,270.41 51.13,267.77 51.36,265.31 51.60,263.02 51.84,260.87 52.07,258.84 52.31,256.92 52.55,255.09 52.79,253.35 53.02,251.67 53.26,250.05 53.50,248.48 53.73,246.95 53.97,245.46 54.21,243.99 54.44,242.55 54.68,241.13 54.92,239.76 55.16,238.44 55.39,237.17 55.63,235.94 55.87,234.75 56.10,233.60 56.34,232.48 56.58,231.39 56.82,230.32 57.05,229.28 57.29,228.26 57.53,227.26 57.76,226.28 58.00,225.32 58.24,224.37 58.47,223.43 58.71,222.51 58.95,221.60 59.19,220.70 59.42,219.80 59.66,218.92 59.90,218.04 60.13,217.17 60.37,216.30 60.61,215.44 60.84,214.59 61.08,213.75 61.32,212.93 61.56,212.13 61.79,211.35 62.03,210.59 62.27,209.84 62.50,209.11 62.74,208.40 62.98,207.71 63.22,207.03 63.45,206.36 63.69,205.71 63.93,205.07 64.16,204.45 64.40,203.84 64.64,203.24 64.87,202.66 65.11,202.08 65.35,201.52 65.59,200.97 65.82,200.43 66.06,199.90 66.30,199.38 66.53,198.88 66.77,198.38 67.01,197.89 67.24,197.41 67.48,196.94 67.72,196.48 67.96,196.03 68.19,195.58 68.43,195.15 68.67,194.72 68.90,194.30 69.14,193.89 69.38,193.48 69.62,193.09 69.85,192.70 70.09,192.31 70.33,191.94 70.56,191.57 70.80,191.21 71.04,190.85 71.27,190.50 71.51,190.16 71.75,189.82 71.99,189.49 72.22,189.17 72.46,188.85 72.70,188.53 72.93,188.22 73.17,187.92 73.41,187.62 73.64,187.33 73.88,187.05 74.12,186.76 74.36,186.49 74.59,186.22 74.83,185.95 75.07,185.69 75.30,185.43 75.54,185.18 75.78,184.93 76.01,184.68 76.25,184.44 76.49,184.21 76.73,183.97 76.96,183.75 77.20,183.52 77.44,183.30 77.67,183.09 77.91,182.88 78.15,182.67 78.39,182.46 78.62,182.26 78.86,182.06 79.10,181.87 79.33,181.68 79.57,181.49 79.81,181.30 80.04,181.11 80.28,180.93 80.52,180.75 80.76,180.58 80.99,180.40 81.23,180.23 81.47,180.07 81.70,179.90 81.94,179.74 82.18,179.58 82.41,179.42 82.65,179.27 82.89,179.11 83.13,178.97 83.36,178.82 83.60,178.67 83.84,178.53 84.07,178.39 84.31,178.26 84.55,178.12 84.79,177.99 85.02,177.86 85.26,177.74 85.50,177.61 85.73,177.49 85.97,177.37 86.21,177.25 86.44,177.14 86.68,177.02 86.92,176.91 87.16,176.80 87.39,176.70 87.63,176.59 87.87,176.49 88.10,176.39 88.34,176.29 88.58,176.19 88.81,176.10 89.05,176.00 89.29,175.91 89.53,175.82 89.76,175.73 90.00,175.64 90.24,175.56 90.47,175.47 90.71,175.39 90.95,175.31 91.19,175.23 91.42,175.15 91.66,175.07 91.90,175.00 92.13,174.92 92.37,174.85 92.61,174.78 92.84,174.71 93.08,174.64 93.32,174.57 93.56,174.51 93.79,174.45 94.03,174.38 94.27,174.32 94.50,174.26 94.74,174.20 94.98,174.14 95.21,174.09 95.45,174.03 95.69,173.98 95.93,173.92 96.16,173.87 96.40,173.82 97.35,173.63 98.30,173.45 99.24,173.29 100.19,173.13 101.14,172.99 102.09,172.86 103.04,172.74 103.99,172.63 104.93,172.53 105.88,172.44 106.83,172.35 107.78,172.27 108.73,172.19 109.67,172.12 110.62,172.06 111.57,172.00 112.52,171.94 113.47,171.89 114.41,171.85 115.36,171.80 116.31,171.76 117.26,171.73 118.21,171.69 119.16,171.66 120.10,171.63 121.05,171.60 122.00,171.58 122.95,171.55 123.90,171.53 124.84,171.51 125.79,171.49 126.74,171.47 127.69,171.46 128.64,171.44 129.58,171.43 130.53,171.41 131.48,171.40 132.43,171.39 133.38,171.38 134.33,171.37 135.27,171.36 136.22,171.35 137.17,171.34 138.12,171.33 139.07,171.32 140.01,171.32 140.96,171.31 141.91,171.30 142.86,171.30 143.81,171.29 144.76,171.29 145.70,171.28 146.65,171.28 147.60,171.28 148.55,171.27 149.50,171.27 150.44,171.27 151.39,171.26 152.34,171.26 153.29,171.26 154.24,171.26 155.18,171.25 156.13,171.25 157.08,171.25 158.03,171.25 158.98,171.25 159.93,171.24 160.87,171.24 161.82,171.24 162.77,171.24 163.72,171.24 164.67,171.24 165.61,171.24 166.56,171.24 167.51,171.24 168.46,171.23 169.41,171.23 170.35,171.23 171.30,171.23 172.25,171.23 173.20,171.23 174.15,171.23 175.10,171.23 176.04,171.23 176.99,171.23 177.94,171.23 178.89,171.23 179.84,171.23 180.78,171.23 181.73,171.23 182.68,171.23 183.63,171.23 184.58,171.23 185.53,171.23 186.47,171.23 187.42,171.23 188.37,171.23 189.32,171.22 190.27,171.22 191.21,171.22 192.16,171.22 193.11,171.22 194.06,171.22 195.01,171.22 195.95,171.22 196.90,171.22 197.85,171.22 198.80,171.22 199.75,171.22 200.70,171.22 201.64,171.22 202.59,171.22 203.54,171.22 204.49,171.22 205.44,171.22 206.38,171.22 207.33,171.22 208.28,171.22 209.23,171.22 210.18,171.22 211.13,171.22 212.07,171.22 213.02,171.22 213.97,171.22 214.92,171.22 215.87,171.22 216.81,171.22 217.76,171.22 218.71,171.22 219.66,171.22 220.61,171.22 221.55,171.22 222.50,171.22 223.45,171.22 224.40,171.22 225.35,171.22 226.30,171.22 227.24,171.22 228.19,171.22 229.14,171.22 230.09,171.22 231.04,171.22 231.98,171.22 232.93,171.22 233.88,171.22 234.83,171.22 235.78,171.22 236.72,171.22 237.67,171.22 238.62,171.22 239.57,171.22 240.52,171.22 241.47,171.22 242.41,171.22 243.36,171.22 244.31,171.22 245.26,171.22 246.21,171.22 247.15,171.22 248.10,171.22 249.05,171.22 250.00,171.22 250.95,171.22 251.90,171.22 252.84,171.22 253.79,171.22 254.74,171.22 255.69,171.22 256.64,171.22 257.58,171.22 258.53,171.22 259.48,171.22 260.43,171.22 261.38,171.22 262.32,171.22 263.27,171.22 264.22,171.22 265.17,171.22 266.12,171.22 267.07,171.22 268.01,171.22 268.96,171.22 269.91,171.22 270.86,171.22 271.81,171.22 272.75,171.22 273.70,171.22 274.65,171.22 275.60,171.22 276.55,171.22 277.49,171.22 278.44,171.22 279.39,171.22 280.34,171.22 281.29,171.22 282.24,171.22 283.18,171.22 284.13,171.22 285.08,171.22" stroke="#ff00ff" stroke-width="1.6" fill="none"/>
<path d="M52.9 240.0H56.8M54.9 238.1V242.0" stroke="#000000" stroke-width="0.7" fill="none"/><path d="M57.9 218.7H61.8M59.8 216.7V220.6" stroke="#000000" stroke-width="0.7" fill="none"/><path d="M61.7 206.6H65.6M63.6 204.7V208.6" stroke="#000000" stroke-width="0.7" fill="none"/><path d="M64.8 199.3H68.7M66.8 197.4V201.3" stroke="#000000" stroke-width="0.7" fill="none"/><path d="M67.6 194.4H71.5M69.6 192.5V196.4" stroke="#000000" stroke-width="0.7" fill="none"/><path d="M70.2 190.9H74.1M72.1 188.9V192.8" stroke="#000000" stroke-width="0.7" fill="none"/><path d="M74.7 186.2H78.6M76.6 184.2V188.1" stroke="#000000" stroke-width="0.7" fill="none"/><path d="M76.7 184.5H80.6M78.7 182.6V186.5" stroke="#000000" stroke-width="0.7" fill="none"/><path d="M78.7 183.2H82.6M80.6 181.2V185.1" stroke="#000000" stroke-width="0.7" fill="none"/><path d="M80.5 182.1H84.4M82.4 180.1V184.0" stroke="#000000" stroke-width="0.7" fill="none"/><path d="M82.3 181.2H86.2M84.2 179.2V183.1" stroke="#000000" stroke-width="0.7" fill="none"/><path d="M83.9 180.4H87.8M85.9 178.4V182.3" stroke="#000000" stroke-width="0.7" fill="none"/><path d="M85.6 179.7H89.5M87.5 177.8V181.7" stroke="#000000" stroke-width="0.7" fill="none"/><path d="M88.6 178.7H92.5M90.6 176.8V180.7" stroke="#000000" stroke-width="0.7" fill="none"/><path d="M90.1 178.3H94.0M92.0 176.4V180.3" stroke="#000000" stroke-width="0.7" fill="none"/><path d="M91.5 178.0H95.4M93.5 176.0V179.9" stroke="#000000" stroke-width="0.7" fill="none"/><path d="M92.9 177.7H96.8M94.8 175.7V179.6" stroke="#000000" stroke-width="0.7" fill="none"/><path d="M94.2 177.4H98.1M96.2 175.5V179.4" stroke="#000000" stroke-width="0.7" fill="none"/><path d="M95.6 177.2H99.5M97.5 175.3V179.2" stroke="#000000" stroke-width="0.7" fill="none"/><path d="M96.8 177.0H100.7M98.8 175.1V179.0" stroke="#000000" stroke-width="0.7" fill="none"/><path d="M99.3 176.7H103.2M101.3 174.8V178.7" stroke="#000000" stroke-width="0.7" fill="none"/><path d="M100.5 176.6H104.4M102.5 174.6V178.5" stroke="#000000" stroke-width="0.7" fill="none"/><path d="M101.7 176.5H105.6M103.7 174.5V178.4" stroke="#000000" stroke-width="0.7" fill="none"/><path d="M102.9 176.4H106.8M104.8 174.4V178.3" stroke="#000000" stroke-width="0.7" fill="none"/><path d="M105.2 176.2H109.1M107.1 174.3V178.2" stroke="#000000" stroke-width="0.7" fill="none"/><path d="M107.7 176.0H111.6M109.6 174.1V178.0" stroke="#000000" stroke-width="0.7" fill="none"/><path d="M110.4 175.9H114.3M112.3 174.0V177.9" stroke="#000000" stroke-width="0.7" fill="none"/><path d="M112.4 175.8H116.3M114.4 173.9V177.8" stroke="#000000" stroke-width="0.7" fill="none"/><path d="M117.2 175.7H121.1M119.1 173.7V177.6" stroke="#000000" stroke-width="0.7" fill="none"/><path d="M124.3 175.5H128.2M126.3 173.6V177.5" stroke="#000000" stroke-width="0.7" fill="none"/><path d="M136.2 175.4H140.1M138.2 173.5V177.4" stroke="#000000" stroke-width="0.7" fill="none"/>
<polyline points="49.23,293.68 49.47,289.70 49.70,285.98 49.94,282.50 50.18,279.22 50.42,276.14 50.65,273.21 50.89,270.44 51.13,267.80 51.36,265.34 51.60,263.05 51.84,260.90 52.07,258.88 52.31,256.96 52.55,255.14 52.79,253.40 53.02,251.72 53.26,250.11 53.50,248.55 53.73,247.02 53.97,245.54 54.21,244.08 54.44,242.64 54.68,241.23 54.92,239.87 55.16,238.56 55.39,237.30 55.63,236.08 55.87,234.90 56.10,233.75 56.34,232.64 56.58,231.56 56.82,230.50 57.05,229.47 57.29,228.47 57.53,227.48 57.76,226.51 58.00,225.56 58.24,224.62 58.47,223.70 58.71,222.79 58.95,221.89 59.19,221.00 59.42,220.13 59.66,219.26 59.90,218.40 60.13,217.54 60.37,216.69 60.61,215.85 60.84,215.01 61.08,214.19 61.32,213.39 61.56,212.62 61.79,211.86 62.03,211.11 62.27,210.39 62.50,209.68 62.74,208.99 62.98,208.32 63.22,207.66 63.45,207.02 63.69,206.39 63.93,205.78 64.16,205.18 64.40,204.59 64.64,204.02 64.87,203.46 65.11,202.91 65.35,202.37 65.59,201.85 65.82,201.33 66.06,200.83 66.30,200.34 66.53,199.85 66.77,199.38 67.01,198.92 67.24,198.46 67.48,198.02 67.72,197.59 67.96,197.16 68.19,196.74 68.43,196.33 68.67,195.93 68.90,195.54 69.14,195.15 69.38,194.78 69.62,194.41 69.85,194.04 70.09,193.69 70.33,193.34 70.56,193.00 70.80,192.66 71.04,192.34 71.27,192.01 71.51,191.70 71.75,191.39 71.99,191.08 72.22,190.79 72.46,190.49 72.70,190.21 72.93,189.93 73.17,189.65 73.41,189.38 73.64,189.12 73.88,188.86 74.12,188.60 74.36,188.35 74.59,188.10 74.83,187.86 75.07,187.63 75.30,187.40 75.54,187.17 75.78,186.95 76.01,186.73 76.25,186.51 76.49,186.30 76.73,186.10 76.96,185.89 77.20,185.69 77.44,185.50 77.67,185.31 77.91,185.12 78.15,184.94 78.39,184.76 78.62,184.58 78.86,184.40 79.10,184.23 79.33,184.06 79.57,183.90 79.81,183.73 80.04,183.57 80.28,183.41 80.52,183.26 80.76,183.10 80.99,182.95 81.23,182.81 81.47,182.66 81.70,182.52 81.94,182.38 82.18,182.24 82.41,182.10 82.65,181.97 82.89,181.84 83.13,181.71 83.36,181.58 83.60,181.46 83.84,181.34 84.07,181.22 84.31,181.10 84.55,180.99 84.79,180.88 85.02,180.77 85.26,180.66 85.50,180.55 85.73,180.45 85.97,180.35 86.21,180.25 86.44,180.15 86.68,180.06 86.92,179.96 87.16,179.87 87.39,179.78 87.63,179.70 87.87,179.61 88.10,179.52 88.34,179.44 88.58,179.36 88.81,179.28 89.05,179.20 89.29,179.12 89.53,179.05 89.76,178.97 90.00,178.90 90.24,178.83 90.47,178.76 90.71,178.69 90.95,178.62 91.19,178.56 91.42,178.49 91.66,178.43 91.90,178.37 92.13,178.31 92.37,178.25 92.61,178.19 92.84,178.13 93.08,178.07 93.32,178.02 93.56,177.96 93.79,177.91 94.03,177.86 94.27,177.81 94.50,177.76 94.74,177.71 94.98,177.67 95.21,177.62 95.45,177.57 95.69,177.53 95.93,177.49 96.16,177.44 96.40,177.40 97.35,177.25 98.30,177.10 99.24,176.97 100.19,176.85 101.14,176.73 102.09,176.63 103.04,176.53 103.99,176.45 104.93,176.37 105.88,176.29 106.83,176.22 107.78,176.16 108.73,176.10 109.67,176.04 110.62,175.99 111.57,175.95 112.52,175.90 113.47,175.86 114.41,175.83 115.36,175.79 116.31,175.76 117.26,175.73 118.21,175.71 119.16,175.68 120.10,175.66 121.05,175.64 122.00,175.62 122.95,175.60 123.90,175.58 124.84,175.57 125.79,175.55 126.74,175.54 127.69,175.52 128.64,175.51 129.58,175.50 130.53,175.49 131.48,175.48 132.43,175.47 133.38,175.46 134.33,175.45 135.27,175.45 136.22,175.44 137.17,175.43 138.12,175.43 139.07,175.42 140.01,175.42 140.96,175.41 141.91,175.41 142.86,175.40 143.81,175.40 144.76,175.40 145.70,175.39 146.65,175.39 147.60,175.39 148.55,175.38 149.50,175.38 150.44,175.38 151.39,175.38 152.34,175.38 153.29,175.37 154.24,175.37 155.18,175.37 156.13,175.37 157.08,175.37 158.03,175.37 158.98,175.36 159.93,175.36 160.87,175.36 161.82,175.36 162.77,175.36 163.72,175.36 164.67,175.36 165.61,175.36 166.56,175.36 167.51,175.36 168.46,175.36 169.41,175.36 170.35,175.36 171.30,175.35 172.25,175.35 173.20,175.35 174.15,175.35 175.10,175.35 176.04,175.35 176.99,175.35 177.94,175.35 178.89,175.35 179.84,175.35 180.78,175.35 181.73,175.35 182.68,175.35 183.63,175.35 184.58,175.35 185.53,175.35 186.47,175.35 187.42,175.35 188.37,175.35 189.32,175.35 190.27,175.35 191.21,175.35 192.16,175.35 193.11,175.35 194.06,175.35 195.01,175.35 195.95,175.35 196.90,175.35 197.85,175.35 198.80,175.35 199.75,175.35 200.70,175.35 201.64,175.35 202.59,175.35 203.54,175.35 204.49,175.35 205.44,175.35 206.38,175.35 207.33,175.35 208.28,175.35 209.23,175.35 210.18,175.35 211.13,175.35 212.07,175.35 213.02,175.35 213.97,175.35 214.92,175.35 215.87,175.35 216.81,175.35 217.76,175.35 218.71,175.35 219.66,175.35 220.61,175.35 221.55,175.35 222.50,175.35 223.45,175.35 224.40,175.35 225.35,175.35 226.30,175.35 227.24,175.35 228.19,175.35 229.14,175.35 230.09,175.35 231.04,175.35 231.98,175.35 232.93,175.35 233.88,175.35 234.83,175.35 235.78,175.35 236.72,175.35 237.67,175.35 238.62,175.35 239.57,175.35 240.52,175.35 241.47,175.35 242.41,175.35 243.36,175.35 244.31,175.35 245.26,175.35 246.21,175.35 247.15,175.35 248.10,175.35 249.05,175.35 250.00,175.35 250.95,175.35 251.90,175.35 252.84,175.35 253.79,175.35 254.74,175.35 255.69,175.35 256.64,175.35 257.58,175.35 258.53,175.35 259.48,175.35 260.43,175.35 261.38,175.35 262.32,175.35 263.27,175.35 264.22,175.35 265.17,175.35 266.12,175.35 267.07,175.35 268.01,175.35 268.96,175.35 269.91,175.35 270.86,175.35 271.81,175.35 272.75,175.35 273.70,175.35 274.65,175.35 275.60,175.35 276.55,175.35 277.49,175.35 278.44,175.35 279.39,175.35 280.34,175.35 281.29,175.35 282.24,175.35 283.18,175.35 284.13,175.35 285.08,175.35" stroke="#000000" stroke-width="1.6" fill="none"/>
<path d="M51.9 244.0L55.8 247.9M51.9 247.9L55.8 244.0" stroke="#ff0000" stroke-width="0.7" fill="none"/><path d="M56.4 221.8L60.3 225.7M56.4 225.7L60.3 221.8" stroke="#ff0000" stroke-width="0.7" fill="none"/><path d="M59.9 209.4L63.8 213.3M59.9 213.3L63.8 209.4" stroke="#ff0000" stroke-width="0.7" fill="none"/><path d="M62.8 201.5L66.7 205.4M62.8 205.4L66.7 201.5" stroke="#ff0000" stroke-width="0.7" fill="none"/><path d="M65.4 196.3L69.3 200.2M65.4 200.2L69.3 196.3" stroke="#ff0000" stroke-width="0.7" fill="none"/><path d="M67.7 192.5L71.6 196.4M67.7 196.4L71.6 192.5" stroke="#ff0000" stroke-width="0.7" fill="none"/><path d="M71.8 187.6L75.7 191.5M71.8 191.5L75.7 187.6" stroke="#ff0000" stroke-width="0.7" fill="none"/><path d="M73.7 186.0L77.6 189.9M73.7 189.9L77.6 186.0" stroke="#ff0000" stroke-width="0.7" fill="none"/><path d="M75.4 184.6L79.3 188.5M75.4 188.5L79.3 184.6" stroke="#ff0000" stroke-width="0.7" fill="none"/><path d="M77.1 183.6L81.0 187.5M77.1 187.5L81.0 183.6" stroke="#ff0000" stroke-width="0.7" fill="none"/><path d="M78.7 182.7L82.6 186.6M78.7 186.6L82.6 182.7" stroke="#ff0000" stroke-width="0.7" fill="none"/><path d="M80.3 182.0L84.2 185.9M80.3 185.9L84.2 182.0" stroke="#ff0000" stroke-width="0.7" fill="none"/><path d="M81.7 181.3L85.6 185.2M81.7 185.2L85.6 181.3" stroke="#ff0000" stroke-width="0.7" fill="none"/><path d="M84.5 180.4L88.4 184.3M84.5 184.3L88.4 180.4" stroke="#ff0000" stroke-width="0.7" fill="none"/><path d="M85.9 180.0L89.8 183.9M85.9 183.9L89.8 180.0" stroke="#ff0000" stroke-width="0.7" fill="none"/><path d="M87.2 179.7L91.1 183.6M87.2 183.6L91.1 179.7" stroke="#ff0000" stroke-width="0.7" fill="none"/><path d="M88.4 179.4L92.3 183.3M88.4 183.3L92.3 179.4" stroke="#ff0000" stroke-width="0.7" fill="none"/><path d="M89.7 179.2L93.6 183.1M89.7 183.1L93.6 179.2" stroke="#ff0000" stroke-width="0.7" fill="none"/><path d="M90.9 179.0L94.8 182.9M90.9 182.9L94.8 179.0" stroke="#ff0000" stroke-width="0.7" fill="none"/><path d="M92.1 178.8L96.0 182.7M92.1 182.7L96.0 178.8" stroke="#ff0000" stroke-width="0.7" fill="none"/><path d="M94.3 178.6L98.2 182.5M94.3 182.5L98.2 178.6" stroke="#ff0000" stroke-width="0.7" fill="none"/><path d="M95.4 178.4L99.3 182.3M95.4 182.3L99.3 178.4" stroke="#ff0000" stroke-width="0.7" fill="none"/><path d="M96.5 178.3L100.4 182.2M96.5 182.2L100.4 178.3" stroke="#ff0000" stroke-width="0.7" fill="none"/><path d="M97.5 178.3L101.4 182.2M97.5 182.2L101.4 178.3" stroke="#ff0000" stroke-width="0.7" fill="none"/><path d="M99.7 178.1L103.6 182.0M99.7 182.0L103.6 178.1" stroke="#ff0000" stroke-width="0.7" fill="none"/><path d="M101.9 178.0L105.8 181.9M101.9 181.9L105.8 178.0" stroke="#ff0000" stroke-width="0.7" fill="none"/><path d="M104.4 177.9L108.3 181.8M104.4 181.8L108.3 177.9" stroke="#ff0000" stroke-width="0.7" fill="none"/><path d="M106.3 177.8L110.2 181.7M106.3 181.7L110.2 177.8" stroke="#ff0000" stroke-width="0.7" fill="none"/><path d="M110.6 177.7L114.5 181.6M110.6 181.6L114.5 177.7" stroke="#ff0000" stroke-width="0.7" fill="none"/><path d="M117.2 177.6L121.1 181.5M117.2 181.5L121.1 177.6" stroke="#ff0000" stroke-width="0.7" fill="none"/><path d="M128.0 177.5L131.9 181.4M128.0 181.4L131.9 177.5" stroke="#ff0000" stroke-width="0.7" fill="none"/>
<polyline points="49.23,293.65 49.47,289.66 49.70,285.94 49.94,282.45 50.18,279.17 50.42,276.08 50.65,273.15 50.89,270.36 51.13,267.72 51.36,265.25 51.60,262.95 51.84,260.80 52.07,258.77 52.31,256.84 52.55,255.01 52.79,253.26 53.02,251.58 53.26,249.95 53.50,248.38 53.73,246.85 53.97,245.35 54.21,243.89 54.44,242.44 54.68,241.02 54.92,239.65 55.16,238.33 55.39,237.06 55.63,235.83 55.87,234.64 56.10,233.49 56.34,232.37 56.58,231.28 56.82,230.22 57.05,229.18 57.29,228.16 57.53,227.17 57.76,226.19 58.00,225.24 58.24,224.29 58.47,223.36 58.71,222.45 58.95,221.55 59.19,220.65 59.42,219.77 59.66,218.90 59.90,218.03 60.13,217.18 60.37,216.33 60.61,215.48 60.84,214.64 61.08,213.82 61.32,213.02 61.56,212.25 61.79,211.49 62.03,210.75 62.27,210.03 62.50,209.32 62.74,208.64 62.98,207.97 63.22,207.32 63.45,206.68 63.69,206.06 63.93,205.46 64.16,204.87 64.40,204.29 64.64,203.73 64.87,203.18 65.11,202.64 65.35,202.12 65.59,201.61 65.82,201.11 66.06,200.62 66.30,200.14 66.53,199.67 66.77,199.22 67.01,198.77 67.24,198.34 67.48,197.91 67.72,197.50 67.96,197.09 68.19,196.69 68.43,196.31 68.67,195.93 68.90,195.56 69.14,195.20 69.38,194.84 69.62,194.50 69.85,194.16 70.09,193.83 70.33,193.50 70.56,193.19 70.80,192.88 71.04,192.58 71.27,192.28 71.51,191.99 71.75,191.71 71.99,191.44 72.22,191.17 72.46,190.90 72.70,190.65 72.93,190.39 73.17,190.15 73.41,189.91 73.64,189.67 73.88,189.44 74.12,189.22 74.36,189.00 74.59,188.78 74.83,188.57 75.07,188.37 75.30,188.17 75.54,187.97 75.78,187.78 76.01,187.59 76.25,187.41 76.49,187.23 76.73,187.06 76.96,186.89 77.20,186.72 77.44,186.55 77.67,186.39 77.91,186.24 78.15,186.09 78.39,185.94 78.62,185.79 78.86,185.65 79.10,185.51 79.33,185.37 79.57,185.24 79.81,185.10 80.04,184.97 80.28,184.85 80.52,184.72 80.76,184.60 80.99,184.48 81.23,184.36 81.47,184.25 81.70,184.14 81.94,184.03 82.18,183.92 82.41,183.82 82.65,183.71 82.89,183.61 83.13,183.51 83.36,183.42 83.60,183.32 83.84,183.23 84.07,183.14 84.31,183.05 84.55,182.97 84.79,182.89 85.02,182.80 85.26,182.72 85.50,182.65 85.73,182.57 85.97,182.50 86.21,182.42 86.44,182.35 86.68,182.28 86.92,182.22 87.16,182.15 87.39,182.09 87.63,182.02 87.87,181.96 88.10,181.90 88.34,181.85 88.58,181.79 88.81,181.73 89.05,181.68 89.29,181.62 89.53,181.57 89.76,181.52 90.00,181.47 90.24,181.42 90.47,181.37 90.71,181.33 90.95,181.28 91.19,181.24 91.42,181.19 91.66,181.15 91.90,181.11 92.13,181.07 92.37,181.03 92.61,180.99 92.84,180.95 93.08,180.92 93.32,180.88 93.56,180.84 93.79,180.81 94.03,180.78 94.27,180.75 94.50,180.71 94.74,180.68 94.98,180.65 95.21,180.62 95.45,180.59 95.69,180.57 95.93,180.54 96.16,180.51 96.40,180.49 97.35,180.39 98.30,180.30 99.24,180.22 100.19,180.15 101.14,180.08 102.09,180.02 103.04,179.97 103.99,179.92 104.93,179.87 105.88,179.83 106.83,179.79 107.78,179.76 108.73,179.72 109.67,179.70 110.62,179.67 111.57,179.64 112.52,179.62 113.47,179.60 114.41,179.58 115.36,179.57 116.31,179.55 117.26,179.54 118.21,179.53 119.16,179.51 120.10,179.50 121.05,179.49 122.00,179.48 122.95,179.48 123.90,179.47 124.84,179.46 125.79,179.45 126.74,179.45 127.69,179.44 128.64,179.44 129.58,179.43 130.53,179.43 131.48,179.42 132.43,179.42 133.38,179.42 134.33,179.41 135.27,179.41 136.22,179.41 137.17,179.40 138.12,179.40 139.07,179.40 140.01,179.40 140.96,179.40 141.91,179.39 142.86,179.39 143.81,179.39 144.76,179.39 145.70,179.39 146.65,179.39 147.60,179.39 148.55,179.39 149.50,179.38 150.44,179.38 151.39,179.38 152.34,179.38 153.29,179.38 154.24,179.38 155.18,179.38 156.13,179.38 157.08,179.38 158.03,179.38 158.98,179.38 159.93,179.38 160.87,179.38 161.82,179.38 162.77,179.38 163.72,179.38 164.67,179.38 165.61,179.38 166.56,179.38 167.51,179.38 168.46,179.38 169.41,179.38 170.35,179.38 171.30,179.38 172.25,179.38 173.20,179.37 174.15,179.37 175.10,179.37 176.04,179.37 176.99,179.37 177.94,179.37 178.89,179.37 179.84,179.37 180.78,179.37 181.73,179.37 182.68,179.37 183.63,179.37 184.58,179.37 185.53,179.37 186.47,179.37 187.42,179.37 188.37,179.37 189.32,179.37 190.27,179.37 191.21,179.37 192.16,179.37 193.11,179.37 194.06,179.37 195.01,179.37 195.95,179.37 196.90,179.37 197.85,179.37 198.80,179.37 199.75,179.37 200.70,179.37 201.64,179.37 202.59,179.37 203.54,179.37 204.49,179.37 205.44,179.37 206.38,179.37 207.33,179.37 208.28,179.37 209.23,179.37 210.18,179.37 211.13,179.37 212.07,179.37 213.02,179.37 213.97,179.37 214.92,179.37 215.87,179.37 216.81,179.37 217.76,179.37 218.71,179.37 219.66,179.37 220.61,179.37 221.55,179.37 222.50,179.37 223.45,179.37 224.40,179.37 225.35,179.37 226.30,179.37 227.24,179.37 228.19,179.37 229.14,179.37 230.09,179.37 231.04,179.37 231.98,179.37 232.93,179.37 233.88,179.37 234.83,179.37 235.78,179.37 236.72,179.37 237.67,179.37 238.62,179.37 239.57,179.37 240.52,179.37 241.47,179.37 242.41,179.37 243.36,179.37 244.31,179.37 245.26,179.37 246.21,179.37 247.15,179.37 248.10,179.37 249.05,179.37 250.00,179.37 250.95,179.37 251.90,179.37 252.84,179.37 253.79,179.37 254.74,179.37 255.69,179.37 256.64,179.37 257.58,179.37 258.53,179.37 259.48,179.37 260.43,179.37 261.38,179.37 262.32,179.37 263.27,179.37 264.22,179.37 265.17,179.37 266.12,179.37 267.07,179.37 268.01,179.37 268.96,179.37 269.91,179.37 270.86,179.37 271.81,179.37 272.75,179.37 273.70,179.37 274.65,179.37 275.60,179.37 276.55,179.37 277.49,179.37 278.44,179.37 279.39,179.37 280.34,179.37 281.29,179.37 282.24,179.37 283.18,179.37 284.13,179.37 285.08,179.37" stroke="#ff0000" stroke-width="1.6" fill="none"/>
<circle cx="52.3" cy="264.8" r="1.35" fill="#000000"/><circle cx="53.7" cy="256.2" r="1.35" fill="#000000"/><circle cx="55.0" cy="250.0" r="1.35" fill="#000000"/><circle cx="56.2" cy="245.2" r="1.35" fill="#000000"/><circle cx="58.2" cy="238.0" r="1.35" fill="#000000"/><circle cx="59.1" cy="235.2" r="1.35" fill="#000000"/><circle cx="60.0" cy="232.9" r="1.35" fill="#000000"/><circle cx="60.8" cy="230.8" r="1.35" fill="#000000"/><circle cx="61.6" cy="229.0" r="1.35" fill="#000000"/><circle cx="62.4" cy="227.5" r="1.35" fill="#000000"/><circle cx="63.1" cy="226.2" r="1.35" fill="#000000"/><circle cx="64.5" cy="224.0" r="1.35" fill="#000000"/><circle cx="65.1" cy="223.1" r="1.35" fill="#000000"/><circle cx="65.8" cy="222.3" r="1.35" fill="#000000"/><circle cx="66.4" cy="221.6" r="1.35" fill="#000000"/><circle cx="67.0" cy="221.0" r="1.35" fill="#000000"/><circle cx="67.6" cy="220.5" r="1.35" fill="#000000"/><circle cx="68.2" cy="220.1" r="1.35" fill="#000000"/><circle cx="69.3" cy="219.3" r="1.35" fill="#000000"/><circle cx="69.8" cy="219.0" r="1.35" fill="#000000"/><circle cx="70.4" cy="218.8" r="1.35" fill="#000000"/><circle cx="70.9" cy="218.6" r="1.35" fill="#000000"/><circle cx="71.9" cy="218.2" r="1.35" fill="#000000"/><circle cx="73.1" cy="218.0" r="1.35" fill="#000000"/><circle cx="74.3" cy="217.7" r="1.35" fill="#000000"/><circle cx="75.2" cy="217.6" r="1.35" fill="#000000"/><circle cx="77.4" cy="217.5" r="1.35" fill="#000000"/><circle cx="80.6" cy="217.4" r="1.35" fill="#000000"/>
<polyline points="49.23,293.58 49.47,290.51 49.70,287.64 49.94,284.94 50.18,282.41 50.42,280.01 50.65,277.75 50.89,275.61 51.13,273.57 51.36,271.64 51.60,269.79 51.84,268.03 52.07,266.34 52.31,264.72 52.55,263.17 52.79,261.68 53.02,260.24 53.26,258.86 53.50,257.52 53.73,256.23 53.97,254.99 54.21,253.78 54.44,252.61 54.68,251.48 54.92,250.38 55.16,249.31 55.39,248.28 55.63,247.27 55.87,246.29 56.10,245.34 56.34,244.41 56.58,243.51 56.82,242.63 57.05,241.78 57.29,240.95 57.53,240.13 57.76,239.34 58.00,238.57 58.24,237.82 58.47,237.09 58.71,236.37 58.95,235.68 59.19,235.00 59.42,234.34 59.66,233.70 59.90,233.07 60.13,232.46 60.37,231.87 60.61,231.29 60.84,230.73 61.08,230.18 61.32,229.65 61.56,229.14 61.79,228.64 62.03,228.15 62.27,227.68 62.50,227.23 62.74,226.78 62.98,226.36 63.22,225.94 63.45,225.54 63.69,225.15 63.93,224.78 64.16,224.42 64.40,224.07 64.64,223.74 64.87,223.41 65.11,223.10 65.35,222.80 65.59,222.51 65.82,222.24 66.06,221.97 66.30,221.72 66.53,221.47 66.77,221.24 67.01,221.02 67.24,220.81 67.48,220.60 67.72,220.41 67.96,220.22 68.19,220.05 68.43,219.88 68.67,219.72 68.90,219.57 69.14,219.43 69.38,219.29 69.62,219.16 69.85,219.04 70.09,218.93 70.33,218.82 70.56,218.72 70.80,218.62 71.04,218.53 71.27,218.45 71.51,218.37 71.75,218.29 71.99,218.22 72.22,218.16 72.46,218.10 72.70,218.04 72.93,217.99 73.17,217.94 73.41,217.89 73.64,217.85 73.88,217.81 74.12,217.77 74.36,217.74 74.59,217.71 74.83,217.68 75.07,217.65 75.30,217.63 75.54,217.60 75.78,217.58 76.01,217.56 76.25,217.55 76.49,217.53 76.73,217.51 76.96,217.50 77.20,217.49 77.44,217.48 77.67,217.47 77.91,217.46 78.15,217.45 78.39,217.44 78.62,217.44 78.86,217.43 79.10,217.42 79.33,217.42 79.57,217.41 79.81,217.41 80.04,217.41 80.28,217.40 80.52,217.40 80.76,217.40 80.99,217.40 81.23,217.39 81.47,217.39 81.70,217.39 81.94,217.39 82.18,217.39 82.41,217.39 82.65,217.39 82.89,217.39 83.13,217.38 83.36,217.38 83.60,217.38 83.84,217.38 84.07,217.38 84.31,217.38 84.55,217.38 84.79,217.38 85.02,217.38 85.26,217.38 85.50,217.38 85.73,217.38 85.97,217.38 86.21,217.38 86.44,217.38 86.68,217.38 86.92,217.38 87.16,217.38 87.39,217.38 87.63,217.38 87.87,217.38 88.10,217.38 88.34,217.38 88.58,217.38 88.81,217.38 89.05,217.38 89.29,217.38 89.53,217.38 89.76,217.38 90.00,217.38 90.24,217.38 90.47,217.38 90.71,217.38 90.95,217.38 91.19,217.38 91.42,217.38 91.66,217.38 91.90,217.38 92.13,217.38 92.37,217.38 92.61,217.38 92.84,217.38 93.08,217.38 93.32,217.38 93.56,217.38 93.79,217.38 94.03,217.38 94.27,217.38 94.50,217.38 94.74,217.38 94.98,217.38 95.21,217.38 95.45,217.38 95.69,217.38 95.93,217.38 96.16,217.38 96.40,217.38 97.35,217.38 98.30,217.38 99.24,217.38 100.19,217.38 101.14,217.38 102.09,217.38 103.04,217.38 103.99,217.38 104.93,217.38 105.88,217.38 106.83,217.38 107.78,217.38 108.73,217.38 109.67,217.38 110.62,217.38 111.57,217.38 112.52,217.38 113.47,217.38 114.41,217.38 115.36,217.38 116.31,217.38 117.26,217.38 118.21,217.38 119.16,217.38 120.10,217.38 121.05,217.38 122.00,217.38 122.95,217.38 123.90,217.38 124.84,217.38 125.79,217.38 126.74,217.38 127.69,217.38 128.64,217.38 129.58,217.38 130.53,217.38 131.48,217.38 132.43,217.38 133.38,217.38 134.33,217.38 135.27,217.38 136.22,217.38 137.17,217.38 138.12,217.38 139.07,217.38 140.01,217.38 140.96,217.38 141.91,217.38 142.86,217.38 143.81,217.38 144.76,217.38 145.70,217.38 146.65,217.38 147.60,217.38 148.55,217.38 149.50,217.38 150.44,217.38 151.39,217.38 152.34,217.38 153.29,217.38 154.24,217.38 155.18,217.38 156.13,217.38 157.08,217.38 158.03,217.38 158.98,217.38 159.93,217.38 160.87,217.38 161.82,217.38 162.77,217.38 163.72,217.38 164.67,217.38 165.61,217.38 166.56,217.38 167.51,217.38 168.46,217.38 169.41,217.38 170.35,217.38 171.30,217.38 172.25,217.38 173.20,217.38 174.15,217.38 175.10,217.38 176.04,217.38 176.99,217.38 177.94,217.38 178.89,217.38 179.84,217.38 180.78,217.38 181.73,217.38 182.68,217.38 183.63,217.38 184.58,217.38 185.53,217.38 186.47,217.38 187.42,217.38 188.37,217.38 189.32,217.38 190.27,217.38 191.21,217.38 192.16,217.38 193.11,217.38 194.06,217.38 195.01,217.38 195.95,217.38 196.90,217.38 197.85,217.38 198.80,217.38 199.75,217.38 200.70,217.38 201.64,217.38 202.59,217.38 203.54,217.38 204.49,217.38 205.44,217.38 206.38,217.38 207.33,217.38 208.28,217.38 209.23,217.38 210.18,217.38 211.13,217.38 212.07,217.38 213.02,217.38 213.97,217.38 214.92,217.38 215.87,217.38 216.81,217.38 217.76,217.38 218.71,217.38 219.66,217.38 220.61,217.38 221.55,217.38 222.50,217.38 223.45,217.38 224.40,217.38 225.35,217.38 226.30,217.38 227.24,217.38 228.19,217.38 229.14,217.38 230.09,217.38 231.04,217.38 231.98,217.38 232.93,217.38 233.88,217.38 234.83,217.38 235.78,217.38 236.72,217.38 237.67,217.38 238.62,217.38 239.57,217.38 240.52,217.38 241.47,217.38 242.41,217.38 243.36,217.38 244.31,217.38 245.26,217.38 246.21,217.38 247.15,217.38 248.10,217.38 249.05,217.38 250.00,217.38 250.95,217.38 251.90,217.38 252.84,217.38 253.79,217.38 254.74,217.38 255.69,217.38 256.64,217.38 257.58,217.38 258.53,217.38 259.48,217.38 260.43,217.38 261.38,217.38 262.32,217.38 263.27,217.38 264.22,217.38 265.17,217.38 266.12,217.38 267.07,217.38 268.01,217.38 268.96,217.38 269.91,217.38 270.86,217.38 271.81,217.38 272.75,217.38 273.70,217.38 274.65,217.38 275.60,217.38 276.55,217.38 277.49,217.38 278.44,217.38 279.39,217.38 280.34,217.38 281.29,217.38 282.24,217.38 283.18,217.38 284.13,217.38 285.08,217.38" stroke="#000000" stroke-width="1.6" fill="none"/>
</g>
<path d="M43.4 251.10h8M283.2 251.10h-8M43.4 236.93h4M283.2 236.93h-4M43.4 222.75h8M283.2 222.75h-8M43.4 208.58h4M283.2 208.58h-4M43.4 194.40h8M283.2 194.40h-8M43.4 180.22h4M283.2 180.22h-4M43.4 166.05h8M283.2 166.05h-8M43.4 151.87h4M283.2 151.87h-4M43.4 137.70h8M283.2 137.70h-8M43.4 123.52h4M283.2 123.52h-4M43.4 109.34h8M283.2 109.34h-8M43.4 95.17h4M283.2 95.17h-4M43.4 80.99h8M283.2 80.99h-8M43.4 66.82h4M283.2 66.82h-4M43.4 52.64h8M283.2 52.64h-8M43.4 38.46h4M283.2 38.46h-4M65.25 265.3v-3.2M65.25 24.3v3.2M87.50 265.3v-3.2M87.50 24.3v3.2M109.75 265.3v-3.2M109.75 24.3v3.2M132.00 265.3v-3.2M132.00 24.3v3.2M154.25 265.3v-3.2M154.25 24.3v3.2M176.50 265.3v-3.2M176.50 24.3v3.2M198.75 265.3v-3.2M198.75 24.3v3.2M221.00 265.3v-3.2M221.00 24.3v3.2M243.25 265.3v-3.2M243.25 24.3v3.2M265.50 265.3v-3.2M265.50 24.3v3.2" stroke="#222" stroke-width="1.15" fill="none"/>
<rect x="43.4" y="24.3" width="239.79999999999998" height="241.0" stroke="#5a5a5a" stroke-width="1.6" fill="none"/>
<line x1="284.7" y1="41.0" x2="293.0" y2="27.8" stroke="#0000ff" stroke-width="0.8"/>
<line x1="284.7" y1="49.9" x2="295.2" y2="40.699999999999996" stroke="#ff0000" stroke-width="0.8"/>
<line x1="284.7" y1="62.2" x2="294.2" y2="53.199999999999996" stroke="#000000" stroke-width="0.8"/>
<line x1="284.7" y1="69.7" x2="294.59999999999997" y2="67.39999999999999" stroke="#9400d3" stroke-width="0.8"/>
<line x1="284.7" y1="91.0" x2="293.8" y2="80.7" stroke="#ff0000" stroke-width="0.8"/>
<line x1="284.7" y1="110.3" x2="294.4" y2="95.39999999999999" stroke="#000000" stroke-width="0.8"/>
<line x1="284.7" y1="120.6" x2="295.2" y2="109.8" stroke="#008b00" stroke-width="0.8"/>
<line x1="284.7" y1="136.2" x2="293.8" y2="124.39999999999999" stroke="#7221bc" stroke-width="0.8"/>
<line x1="284.7" y1="144.3" x2="295.7" y2="138.5" stroke="#ff00ff" stroke-width="0.8"/>
<line x1="284.7" y1="150.1" x2="293.8" y2="150.3" stroke="#008b00" stroke-width="0.8"/>
<line x1="284.7" y1="156.3" x2="294.59999999999997" y2="162.60000000000002" stroke="#ff0000" stroke-width="0.8"/>
<line x1="284.7" y1="162.4" x2="293.8" y2="175.10000000000002" stroke="#0000ff" stroke-width="0.8"/>
<line x1="284.7" y1="166.9" x2="293.9" y2="186.70000000000002" stroke="#9400d3" stroke-width="0.8"/>
<line x1="284.7" y1="171.2" x2="295.2" y2="199.20000000000002" stroke="#ff00ff" stroke-width="0.8"/>
<line x1="284.7" y1="175.3" x2="295.2" y2="212.10000000000002" stroke="#000000" stroke-width="0.8"/>
<line x1="284.7" y1="179.4" x2="292.09999999999997" y2="224.70000000000002" stroke="#ff0000" stroke-width="0.8"/>
<line x1="284.7" y1="218.2" x2="292.7" y2="235.3" stroke="#000000" stroke-width="0.8"/>
<g style="font-family:'Liberation Serif',serif;font-weight:bold;font-style:italic;font-size:14.5px" stroke="#000" stroke-width="0.15">
<text x="294.40000000000003" y="31.7" fill="#0000ff" stroke="#0000ff">0.76</text>
<text x="296.6" y="44.6" fill="#ff0000" stroke="#ff0000">0.81</text>
<text x="295.6" y="57.1" fill="#000000" stroke="#000000">0.87</text>
<text x="296.0" y="71.3" fill="#9400d3" stroke="#9400d3">0.90</text>
<text x="295.20000000000005" y="84.60000000000001" fill="#ff0000" stroke="#ff0000">0.96</text>
<text x="295.8" y="99.3" fill="#000000" stroke="#000000">1.00</text>
<text x="296.6" y="113.7" fill="#008b00" stroke="#008b00">1.02</text>
<text x="295.20000000000005" y="128.29999999999998" fill="#7221bc" stroke="#7221bc">1.07</text>
<text x="297.1" y="142.39999999999998" fill="#ff00ff" stroke="#ff00ff">1.11</text>
<text x="295.20000000000005" y="155.29999999999998" fill="#008b00" stroke="#008b00">1.16</text>
<text x="296.0" y="166.5" fill="#ff0000" stroke="#ff0000">1.23</text>
<text x="295.20000000000005" y="179.0" fill="#0000ff" stroke="#0000ff">1.36</text>
<text x="295.3" y="190.6" fill="#9400d3" stroke="#9400d3">1.50</text>
<text x="296.6" y="203.1" fill="#ff00ff" stroke="#ff00ff">1.65</text>
<text x="296.6" y="216.0" fill="#000000" stroke="#000000">1.81</text>
<text x="293.5" y="228.6" fill="#ff0000" stroke="#ff0000">1.98</text>
<text x="294.1" y="239.2" fill="#000000" stroke="#000000">4.01</text>
<text x="292" y="10.8" style="font-size:15px">T/T</text><text x="314.2" y="16.9" style="font-size:9.5px">c</text>
<text x="39" y="255.9" text-anchor="end">-0.4</text>
<text x="39" y="227.6" text-anchor="end">-0.2</text>
<text x="39" y="199.2" text-anchor="end">0.0</text>
<text x="39" y="170.8" text-anchor="end">0.2</text>
<text x="39" y="142.5" text-anchor="end">0.4</text>
<text x="39" y="114.1" text-anchor="end">0.6</text>
<text x="39" y="85.8" text-anchor="end">0.8</text>
<text x="39" y="57.4" text-anchor="end">1.0</text>
<text x="39" y="29.1" text-anchor="end">1.2</text>
<text x="43.1" y="279.3" text-anchor="middle">0.0</text>
<text x="87.6" y="279.3" text-anchor="middle">0.5</text>
<text x="132.1" y="279.3" text-anchor="middle">1.0</text>
<text x="176.6" y="279.3" text-anchor="middle">1.5</text>
<text x="221.1" y="279.3" text-anchor="middle">2.0</text>
<text x="265.6" y="279.3" text-anchor="middle">2.5</text>
<text x="143.2" y="300.8" xml:space="preserve" style="font-size:15.3px">r  (fm)</text>
<g transform="translate(12.4,0) rotate(-90) scale(1,1.07)" style="font-size:15.3px"><text x="-195.0" y="0">F</text><text x="-184.3" y="5.8" style="font-size:11.0px">1</text><text x="-178.6" y="0" style="letter-spacing:0.7px">(r,T)</text><text x="-133.0" y="0" style="letter-spacing:0.45px">(GeV)</text></g>
</g>
</svg>
</body></html>
